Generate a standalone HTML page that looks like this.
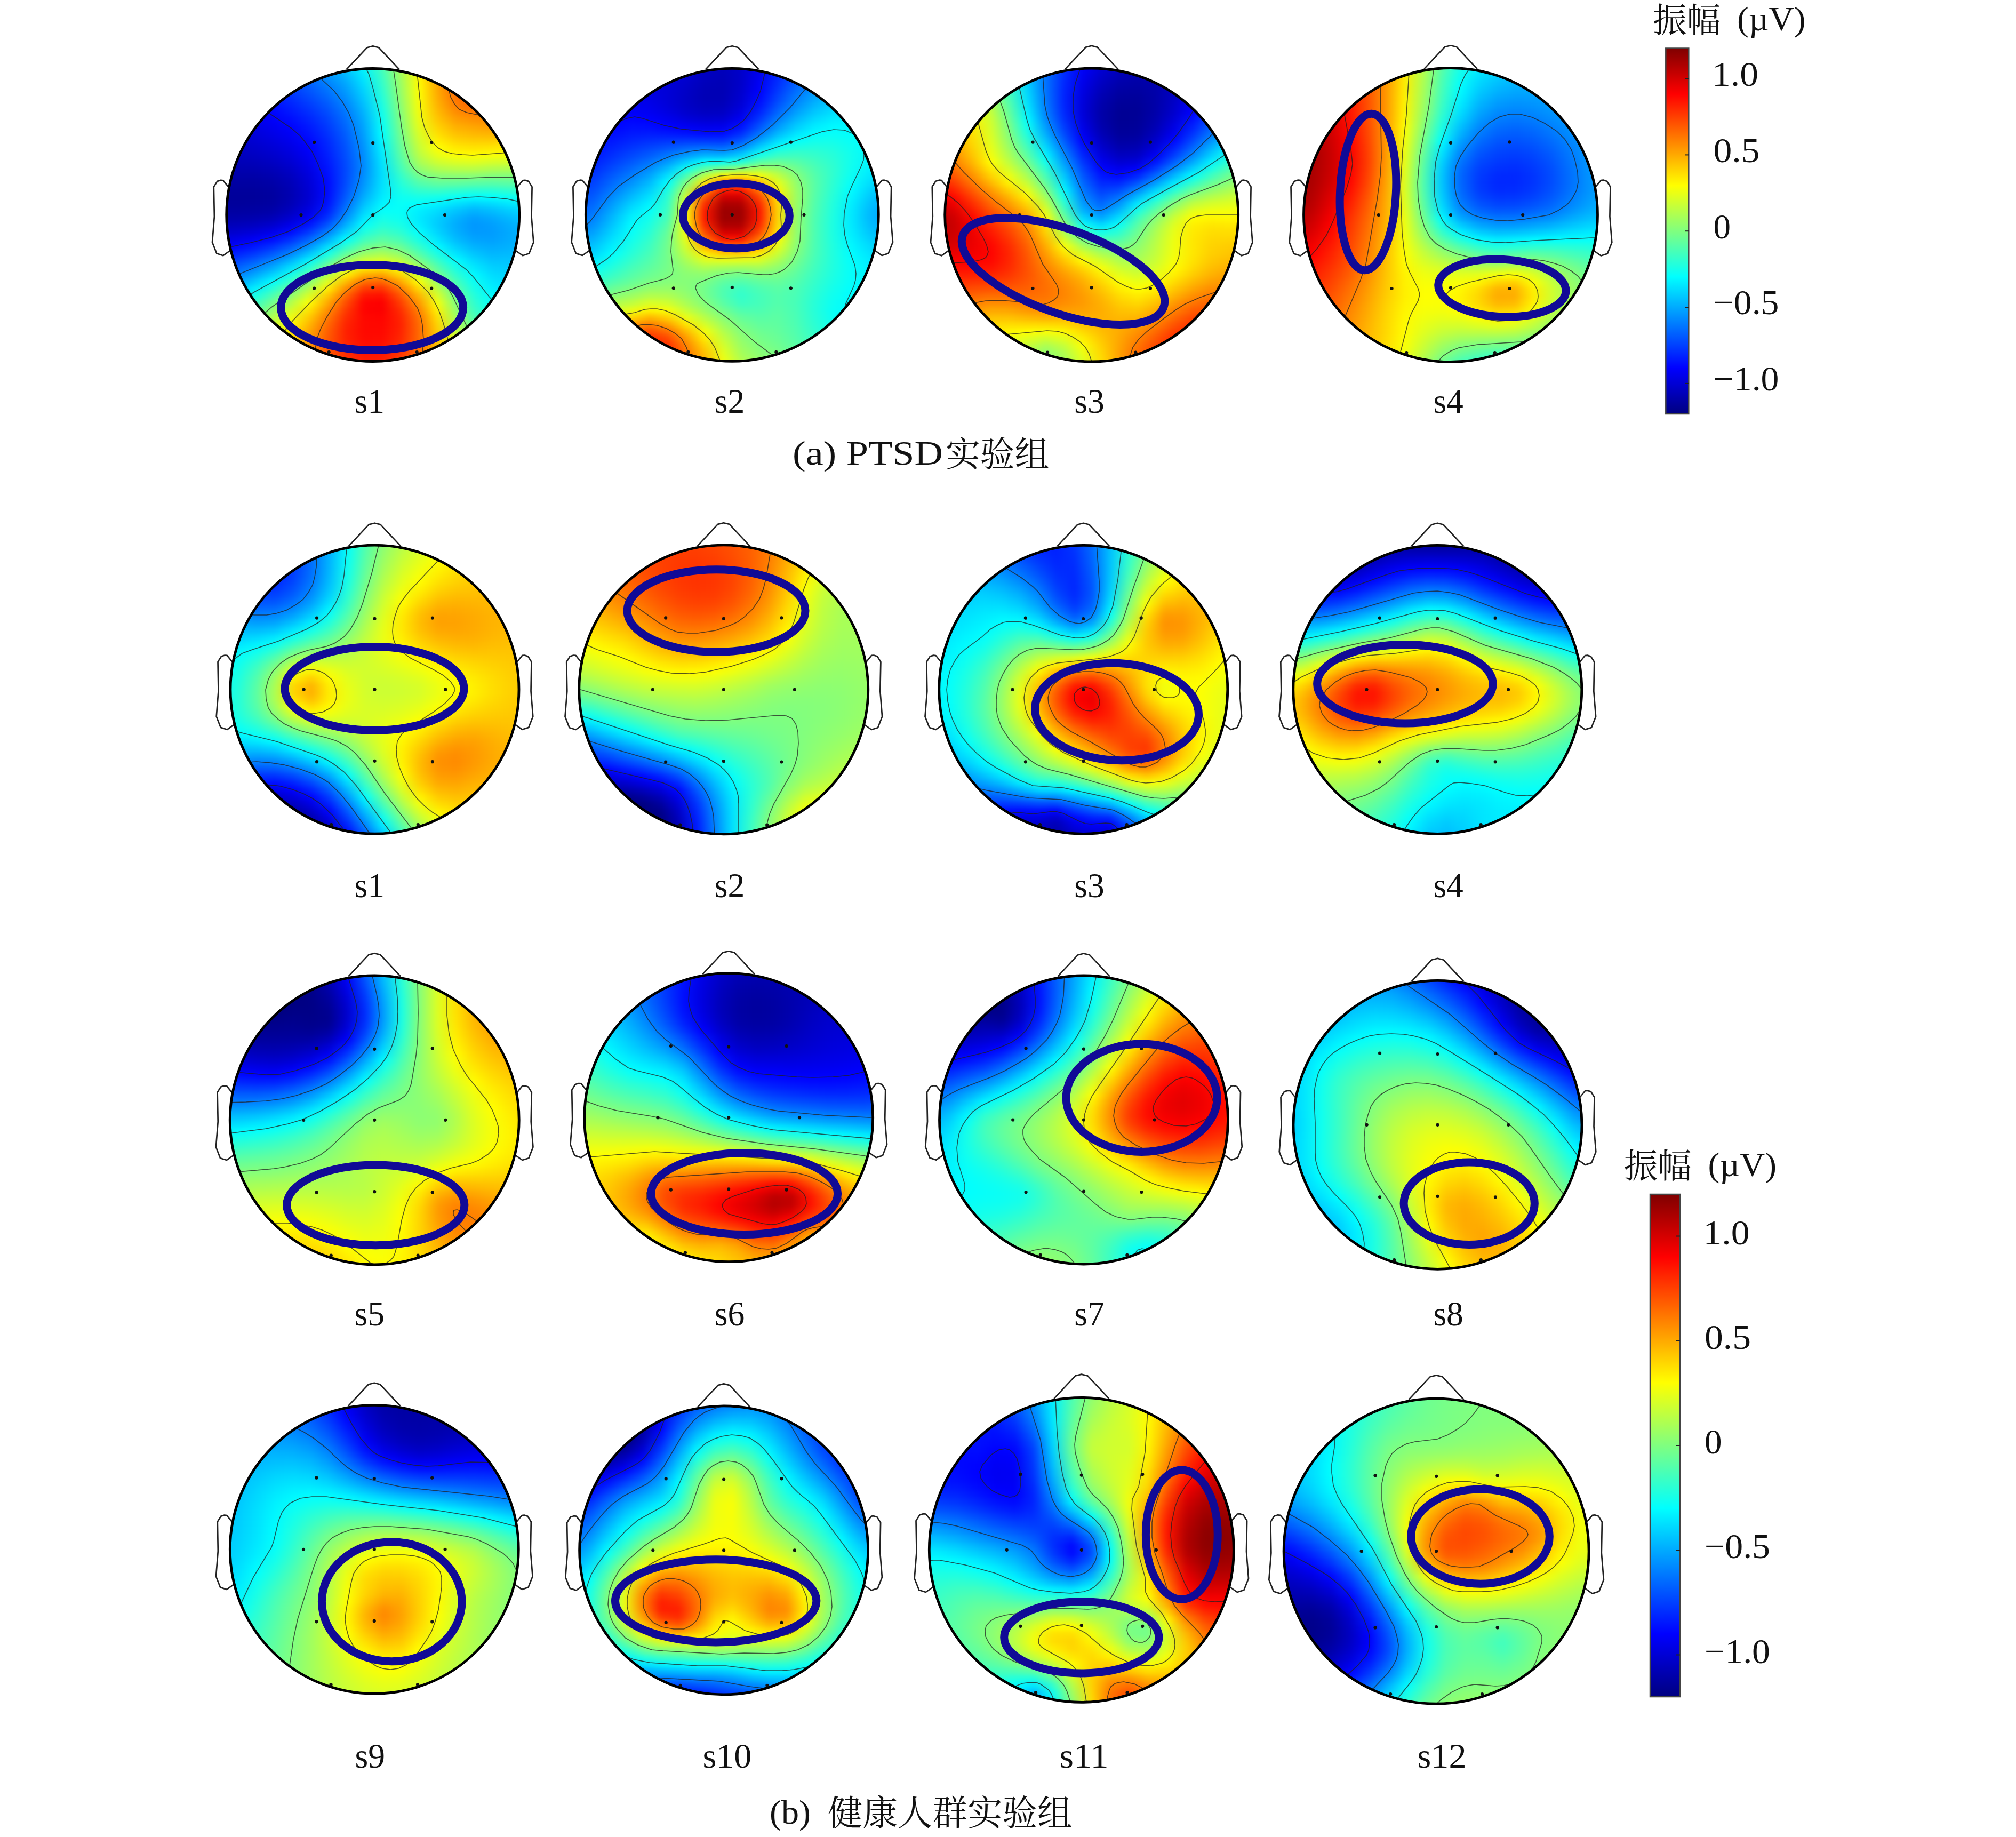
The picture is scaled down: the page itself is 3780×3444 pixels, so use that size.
<!DOCTYPE html><html><head><meta charset="utf-8"><title>EEG topomaps</title><style>
html,body{margin:0;padding:0;background:#fff}
body{width:3780px;height:3444px;position:relative;overflow:hidden;font-family:"Liberation Serif","Noto Serif CJK SC",serif;color:#1a1a1a}
.hd{position:absolute;border-radius:50%;overflow:hidden}
.fl{position:absolute;left:-3%;top:-3%;width:106%;height:106%;filter:blur(5px)}
.fl i{display:block;width:100%;height:2.2727%}
svg{position:absolute;left:0;top:0}
.t{position:absolute;white-space:nowrap;line-height:1}
</style></head><body>
<div class="hd" style="left:424.2px;top:128.0px;width:550.0px;height:550.0px">
<div class="fl">
<i style="background:linear-gradient(90deg,#0001ff,#0010ff,#0022ff,#0039ff,#0055ff,#0077ff,#009dff,#00c7ff,#00fcff,#47ffb8,#a2ff5d,#faff05,#ffbe00,#ff8b00,#ff6d00,#ff5f00,#ff6200,#ff7000)"></i>
<i style="background:linear-gradient(90deg,#0000fa,#000aff,#001cff,#0033ff,#004fff,#0071ff,#0098ff,#00c0ff,#00f3ff,#42ffbd,#a5ff5a,#fffb00,#ffb400,#ff8300,#ff6700,#ff5e00,#ff6600,#ff7700)"></i>
<i style="background:linear-gradient(90deg,#0000f5,#0004ff,#0016ff,#002cff,#0048ff,#006aff,#008eff,#00b3ff,#00e8ff,#39ffc6,#9fff60,#fffa00,#ffa900,#ff7b00,#ff6300,#ff5f00,#ff6c00,#ff7e00)"></i>
<i style="background:linear-gradient(90deg,#0000ef,#0000fd,#000fff,#0025ff,#0040ff,#0060ff,#0080ff,#00a6ff,#00deff,#32ffcd,#9aff65,#fffd00,#ffa700,#ff7300,#ff6000,#ff6200,#ff7400,#ff8500)"></i>
<i style="background:linear-gradient(90deg,#0000e9,#0000f6,#0008ff,#001dff,#0038ff,#0053ff,#0072ff,#009aff,#00d3ff,#2affd5,#95ff6a,#feff01,#ffab00,#ff6e00,#ff5e00,#ff6800,#ff7b00,#ff8e00)"></i>
<i style="background:linear-gradient(90deg,#0000e4,#0000f0,#0001ff,#0016ff,#002dff,#0046ff,#0065ff,#008eff,#00c9ff,#22ffdd,#90ff6f,#fbff04,#ffaf00,#ff7500,#ff5f00,#ff7000,#ff8400,#ff9700)"></i>
<i style="background:linear-gradient(90deg,#0000de,#0000ea,#0000f9,#000dff,#0021ff,#003aff,#0058ff,#0082ff,#00bfff,#1affe5,#8bff74,#f7ff08,#ffb500,#ff8000,#ff6500,#ff7800,#ff8d00,#ffa200)"></i>
<i style="background:linear-gradient(90deg,#0000d8,#0000e3,#0000f2,#0004ff,#0017ff,#002eff,#004dff,#0077ff,#00b5ff,#12ffed,#85ff7a,#f3ff0c,#ffbd00,#ff8e00,#ff7a00,#ff8200,#ff9800,#ffae00)"></i>
<i style="background:linear-gradient(90deg,#0000d3,#0000dd,#0000ea,#0000f9,#000cff,#0023ff,#0042ff,#006eff,#00adff,#0bfff4,#7fff80,#ecff13,#ffc700,#ff9f00,#ff9100,#ff8c00,#ffa400,#ffbd00)"></i>
<i style="background:linear-gradient(90deg,#0000cd,#0000d6,#0000e2,#0000f0,#0002ff,#0019ff,#0039ff,#0066ff,#00a6ff,#05fffa,#79ff86,#e4ff1b,#ffd300,#ffb000,#ffa500,#ff9c00,#ffb300,#ffcd00)"></i>
<i style="background:linear-gradient(90deg,#0000c8,#0000d0,#0000da,#0000e7,#0000f7,#0010ff,#0031ff,#005eff,#00a0ff,#00ffff,#72ff8d,#daff25,#ffe000,#ffc100,#ffb700,#ffb300,#ffc400,#ffdf00)"></i>
<i style="background:linear-gradient(90deg,#0000c2,#0000ca,#0000d2,#0000de,#0000ee,#0007ff,#0029ff,#0058ff,#009aff,#00f9ff,#6bff94,#d0ff2f,#ffef00,#ffd400,#ffcc00,#ffcb00,#ffd800,#fff400)"></i>
<i style="background:linear-gradient(90deg,#0000bd,#0000c4,#0000ca,#0000d5,#0000e4,#0000fe,#0023ff,#0052ff,#0094ff,#00f2ff,#62ff9d,#c5ff3a,#feff01,#ffe900,#ffe300,#ffe600,#ffee00,#f2ff0d)"></i>
<i style="background:linear-gradient(90deg,#0000b8,#0000be,#0000c2,#0000cc,#0000db,#0000f5,#001dff,#004eff,#008fff,#00ebff,#59ffa6,#b8ff47,#e9ff16,#fcff03,#fffe00,#faff05,#f6ff09,#d8ff27)"></i>
<i style="background:linear-gradient(90deg,#0000b2,#0000b7,#0000ba,#0000c3,#0000d2,#0000ed,#0018ff,#004aff,#008cff,#00e5ff,#4effb1,#a7ff58,#d0ff2f,#ddff22,#e0ff1f,#d7ff28,#d4ff2b,#bbff44)"></i>
<i style="background:linear-gradient(90deg,#0000ac,#0000b0,#0000b2,#0000b9,#0000c8,#0000e5,#0012ff,#0048ff,#008bff,#00e1ff,#41ffbe,#90ff6f,#b0ff4f,#b9ff46,#baff45,#b0ff4f,#aeff51,#9bff64)"></i>
<i style="background:linear-gradient(90deg,#0000a6,#0000a9,#0000a9,#0000b0,#0000bf,#0000dd,#000dff,#0049ff,#008fff,#00dfff,#32ffcd,#72ff8d,#8bff74,#8eff71,#8cff73,#85ff7a,#85ff7a,#79ff86)"></i>
<i style="background:linear-gradient(90deg,#0000a1,#0000a2,#0000a2,#0000a8,#0000b8,#0000d7,#0009ff,#004bff,#0096ff,#00e1ff,#24ffdb,#52ffad,#62ff9d,#61ff9e,#5cffa3,#58ffa7,#5cffa3,#56ffa9)"></i>
<i style="background:linear-gradient(90deg,#00009e,#00009d,#00009d,#0000a2,#0000b3,#0000d3,#0008ff,#0051ff,#00a0ff,#00e5ff,#17ffe8,#33ffcc,#3affc5,#33ffcc,#2bffd4,#2bffd4,#32ffcd,#34ffcb)"></i>
<i style="background:linear-gradient(90deg,#00009c,#00009b,#00009b,#0000a0,#0000b2,#0000d2,#000aff,#005aff,#00aeff,#00ecff,#0dfff2,#17ffe8,#14ffeb,#08fff7,#00fcff,#00ffff,#0cfff3,#13ffec)"></i>
<i style="background:linear-gradient(90deg,#00009d,#00009c,#00009d,#0000a2,#0000b6,#0000d7,#0010ff,#0068ff,#00c0ff,#00f7ff,#08fff7,#00ffff,#00f3ff,#00e1ff,#00d2ff,#00daff,#00e8ff,#00f4ff)"></i>
<i style="background:linear-gradient(90deg,#0000a2,#0000a2,#0000a4,#0000aa,#0000c0,#0000e3,#001dff,#007aff,#00d4ff,#06fff9,#07fff8,#00efff,#00dcff,#00c4ff,#00b1ff,#00bcff,#00ccff,#00dbff)"></i>
<i style="background:linear-gradient(90deg,#0000ab,#0000ac,#0000b0,#0000b9,#0000d2,#0000f7,#0034ff,#0092ff,#00eaff,#16ffe9,#0dfff2,#00eaff,#00cfff,#00b3ff,#009dff,#00a8ff,#00b9ff,#00c9ff)"></i>
<i style="background:linear-gradient(90deg,#0000b9,#0000bc,#0000c2,#0000cf,#0000eb,#0016ff,#0056ff,#00b0ff,#03fffc,#27ffd8,#1affe5,#00f1ff,#00cdff,#00adff,#0097ff,#009eff,#00aeff,#00bdff)"></i>
<i style="background:linear-gradient(90deg,#0000ca,#0000cf,#0000d9,#0000eb,#000bff,#003aff,#007eff,#00d4ff,#1fffe0,#3effc1,#2dffd2,#02fffd,#00d6ff,#00b1ff,#009aff,#009cff,#00aaff,#00b8ff)"></i>
<i style="background:linear-gradient(90deg,#0000de,#0000e7,#0000f5,#000cff,#0030ff,#0064ff,#00abff,#00feff,#41ffbe,#5bffa4,#48ffb7,#18ffe7,#00e6ff,#00bdff,#00a4ff,#00a0ff,#00acff,#00b6ff)"></i>
<i style="background:linear-gradient(90deg,#0000f4,#0003ff,#0015ff,#0031ff,#0059ff,#0092ff,#00dcff,#2dffd2,#69ff96,#7eff81,#69ff96,#34ffcb,#00fcff,#00d0ff,#00b3ff,#00aaff,#00b2ff,#00b8ff)"></i>
<i style="background:linear-gradient(90deg,#000eff,#0020ff,#0037ff,#0058ff,#0085ff,#00c2ff,#10ffef,#60ff9f,#98ff67,#aaff55,#91ff6e,#56ffa9,#19ffe6,#00e6ff,#00c5ff,#00b6ff,#00baff,#00bdff)"></i>
<i style="background:linear-gradient(90deg,#0028ff,#003fff,#005bff,#0080ff,#00b3ff,#00f4ff,#45ffba,#98ff67,#cfff30,#ddff22,#bfff40,#7cff83,#38ffc7,#00ffff,#00d8ff,#00c3ff,#00c4ff,#00c3ff)"></i>
<i style="background:linear-gradient(90deg,#0044ff,#005fff,#0080ff,#00aaff,#00e1ff,#27ffd8,#7bff84,#d2ff2d,#fff000,#ffe400,#f2ff0d,#a6ff59,#59ffa6,#19ffe6,#00eaff,#00d0ff,#00ccff,#00c9ff)"></i>
<i style="background:linear-gradient(90deg,#0060ff,#0080ff,#00a6ff,#00d5ff,#10ffef,#58ffa7,#afff50,#fff300,#ffad00,#ffa200,#ffd800,#d2ff2d,#7bff84,#31ffce,#00fbff,#00dcff,#00d4ff,#00ceff)"></i>
<i style="background:linear-gradient(90deg,#007cff,#00a0ff,#00cbff,#00feff,#3dffc2,#87ff78,#e0ff1f,#ffbd00,#ff6d00,#ff6400,#ffa500,#fdff02,#9eff61,#49ffb6,#0bfff4,#00e7ff,#00daff,#00d3ff)"></i>
<i style="background:linear-gradient(90deg,#0098ff,#00c0ff,#00f0ff,#28ffd7,#67ff98,#b2ff4d,#fff100,#ff8e00,#ff3900,#ff3100,#ff7900,#ffd900,#beff41,#5fffa0,#18ffe7,#00f0ff,#00e1ff,#00d9ff)"></i>
<i style="background:linear-gradient(90deg,#00b5ff,#00dfff,#14ffeb,#4effb1,#8eff71,#d9ff26,#ffcb00,#ff6900,#ff1600,#ff0f00,#ff5600,#ffb500,#dbff24,#73ff8c,#25ffda,#00faff,#00e9ff,#00deff)"></i>
<i style="background:linear-gradient(90deg,#00d0ff,#00fdff,#34ffcb,#72ff8d,#b2ff4d,#fcff03,#ffab00,#ff4e00,#ff0400,#fd0000,#ff3d00,#ff9800,#f5ff0a,#86ff79,#31ffce,#05fffa,#00f1ff,#00e5ff)"></i>
<i style="background:linear-gradient(90deg,#00ecff,#1bffe4,#53ffac,#92ff6d,#d2ff2d,#ffe500,#ff9100,#ff3b00,#ff0200,#fc0000,#ff2d00,#ff8100,#fff300,#97ff68,#3dffc2,#11ffee,#00faff,#00ecff)"></i>
<i style="background:linear-gradient(90deg,#07fff8,#37ffc8,#6fff90,#adff52,#edff12,#ffcc00,#ff7c00,#ff2e00,#ff0700,#ff0300,#ff2400,#ff7200,#ffe200,#a8ff57,#4dffb2,#1fffe0,#05fffa,#00f4ff)"></i>
<i style="background:linear-gradient(90deg,#20ffdf,#51ffae,#88ff77,#c4ff3b,#fffb00,#ffb800,#ff6c00,#ff2500,#ff0800,#ff0600,#ff2100,#ff6a00,#ffd500,#b9ff46,#5fffa0,#2effd1,#10ffef,#00fcff)"></i>
<i style="background:linear-gradient(90deg,#38ffc7,#69ff96,#a0ff5f,#d9ff26,#ffe900,#ffa800,#ff6100,#ff2100,#ff0800,#ff0800,#ff2200,#ff6800,#ffcc00,#c8ff37,#74ff8b,#3effc1,#1cffe3,#06fff9)"></i>
<i style="background:linear-gradient(90deg,#4fffb0,#80ff7f,#b5ff4a,#ebff14,#ffda00,#ff9d00,#ff5b00,#ff2200,#ff0a00,#ff0b00,#ff2600,#ff6800,#ffc600,#d5ff2a,#89ff76,#4fffb0,#28ffd7,#0ffff0)"></i>
<i style="background:linear-gradient(90deg,#65ff9a,#95ff6a,#c8ff37,#fcff03,#ffcd00,#ff9500,#ff5900,#ff2600,#ff0e00,#ff1000,#ff2c00,#ff6b00,#ffc100,#e7ff18,#9eff61,#61ff9e,#36ffc9,#1affe5)"></i>
<i style="background:linear-gradient(90deg,#79ff86,#a8ff57,#d9ff26,#fff300,#ffc000,#ff8f00,#ff5b00,#ff2b00,#ff1300,#ff1500,#ff3300,#ff6e00,#ffba00,#f9ff06,#b1ff4e,#74ff8b,#45ffba,#25ffda)"></i>
<i style="background:linear-gradient(90deg,#8dff72,#baff45,#e9ff16,#ffe500,#ffb500,#ff8600,#ff5a00,#ff3100,#ff1a00,#ff1c00,#ff3a00,#ff6f00,#ffae00,#fff400,#c4ff3b,#86ff79,#54ffab,#30ffcf)"></i>
<i style="background:linear-gradient(90deg,#9eff61,#caff35,#f7ff08,#ffd900,#ffab00,#ff7f00,#ff5500,#ff3100,#ff1e00,#ff2100,#ff3b00,#ff6800,#ffa300,#ffe500,#d5ff2a,#98ff67,#64ff9b,#3dffc2)"></i>
</div></div>
<div class="hd" style="left:1097.8px;top:127.8px;width:550.0px;height:550.0px">
<div class="fl">
<i style="background:linear-gradient(90deg,#0000f5,#0000ef,#0000e8,#0000e1,#0000dc,#0000d9,#0000d2,#0000c3,#0000bd,#0000ca,#0000ed,#001aff,#0047ff,#0071ff,#0095ff,#00b3ff,#00cbff,#00ddff)"></i>
<i style="background:linear-gradient(90deg,#0000f7,#0000f1,#0000ea,#0000e3,#0000dd,#0000d9,#0000d3,#0000c3,#0000bb,#0000ca,#0000ef,#0020ff,#004fff,#0079ff,#009eff,#00bcff,#00d3ff,#00e3ff)"></i>
<i style="background:linear-gradient(90deg,#0000f9,#0000f4,#0000ed,#0000e5,#0000de,#0000da,#0000d1,#0000be,#0000b8,#0000ca,#0000f3,#0027ff,#0057ff,#0082ff,#00a7ff,#00c4ff,#00daff,#00e8ff)"></i>
<i style="background:linear-gradient(90deg,#0000fb,#0000f6,#0000ef,#0000e7,#0000df,#0000d8,#0000cb,#0000ba,#0000b6,#0000ca,#0000f7,#002eff,#0061ff,#008cff,#00b0ff,#00cdff,#00e0ff,#00edff)"></i>
<i style="background:linear-gradient(90deg,#0000fd,#0000f8,#0000f2,#0000ea,#0000e1,#0000d7,#0000c7,#0000b7,#0000b5,#0000cd,#0000fd,#0038ff,#006eff,#0097ff,#00baff,#00d5ff,#00e6ff,#00f1ff)"></i>
<i style="background:linear-gradient(90deg,#0001ff,#0000fb,#0000f5,#0000ed,#0000e5,#0000d7,#0000c5,#0000b6,#0000b6,#0000d1,#0007ff,#0044ff,#007cff,#00a6ff,#00c4ff,#00ddff,#00ecff,#00f5ff)"></i>
<i style="background:linear-gradient(90deg,#0003ff,#0000fd,#0000f8,#0000f1,#0000eb,#0000da,#0000c7,#0000ba,#0000bb,#0000d8,#0012ff,#0054ff,#008cff,#00b6ff,#00cfff,#00e4ff,#00f1ff,#00f8ff)"></i>
<i style="background:linear-gradient(90deg,#0006ff,#0001ff,#0000fa,#0000f9,#0000f2,#0000e2,#0000ce,#0000c2,#0000c4,#0000e4,#0022ff,#0066ff,#009fff,#00c7ff,#00deff,#00ebff,#00f5ff,#00fbff)"></i>
<i style="background:linear-gradient(90deg,#0008ff,#0004ff,#0000fd,#0003ff,#0000fd,#0000ee,#0000dc,#0000d2,#0000d3,#0000f5,#0037ff,#007dff,#00b4ff,#00d9ff,#00ecff,#00f1ff,#00f9ff,#00fdff)"></i>
<i style="background:linear-gradient(90deg,#000cff,#0007ff,#0003ff,#000dff,#000bff,#0000ff,#0000f2,#0000e9,#0000ea,#000fff,#0052ff,#0097ff,#00cbff,#00ebff,#00f9ff,#00f7ff,#00fcff,#00fdff)"></i>
<i style="background:linear-gradient(90deg,#000fff,#000aff,#000cff,#0018ff,#001bff,#0017ff,#0011ff,#000aff,#000bff,#002eff,#0074ff,#00b7ff,#00e4ff,#00fdff,#07fff8,#01fffe,#00fdff,#00fdff)"></i>
<i style="background:linear-gradient(90deg,#0013ff,#000eff,#0017ff,#0025ff,#002eff,#0033ff,#0036ff,#0035ff,#0033ff,#0056ff,#009eff,#00dcff,#01fffe,#11ffee,#12ffed,#08fff7,#00fdff,#00fbff)"></i>
<i style="background:linear-gradient(90deg,#0018ff,#0012ff,#0022ff,#0034ff,#0043ff,#0052ff,#0063ff,#006bff,#0067ff,#0089ff,#00d0ff,#07fff8,#1effe1,#23ffdc,#1dffe2,#0dfff2,#00fcff,#00f8ff)"></i>
<i style="background:linear-gradient(90deg,#001cff,#0017ff,#002fff,#0045ff,#005aff,#0075ff,#0096ff,#00adff,#00aaff,#00c9ff,#0ffff0,#35ffca,#3cffc3,#34ffcb,#26ffd9,#11ffee,#00f8ff,#00f3ff)"></i>
<i style="background:linear-gradient(90deg,#0022ff,#0021ff,#003cff,#0057ff,#0073ff,#009aff,#00cfff,#00fdff,#03fffc,#1fffe0,#56ffa9,#66ff99,#58ffa7,#42ffbd,#2cffd3,#11ffee,#00f6ff,#00ecff)"></i>
<i style="background:linear-gradient(90deg,#0028ff,#002cff,#004bff,#006aff,#008cff,#00bfff,#0cfff3,#59ffa6,#7aff85,#91ff6e,#a6ff59,#96ff69,#71ff8e,#4dffb2,#30ffcf,#0ffff0,#00f1ff,#00e3ff)"></i>
<i style="background:linear-gradient(90deg,#002eff,#0038ff,#005bff,#007dff,#00a4ff,#00e2ff,#48ffb7,#b9ff46,#fff900,#ffe900,#f8ff07,#c2ff3d,#85ff7a,#55ffaa,#30ffcf,#0bfff4,#00e9ff,#00d8ff)"></i>
<i style="background:linear-gradient(90deg,#0035ff,#0044ff,#006bff,#0092ff,#00bbff,#02fffd,#7fff80,#ffe900,#ff7900,#ff6f00,#ffb900,#e8ff17,#93ff6c,#59ffa6,#2dffd2,#05fffa,#00dfff,#00cbff)"></i>
<i style="background:linear-gradient(90deg,#003dff,#0050ff,#007cff,#00a7ff,#00d0ff,#1affe5,#aeff51,#ff9700,#ff1600,#ff1300,#ff7800,#fff700,#9bff64,#59ffa6,#2affd5,#00fdff,#00d4ff,#00bfff)"></i>
<i style="background:linear-gradient(90deg,#0045ff,#005dff,#008dff,#00bbff,#00e3ff,#2bffd4,#d2ff2d,#ff5800,#d10000,#d40000,#ff4600,#ffe300,#9eff61,#57ffa8,#26ffd9,#00f6ff,#00caff,#00b3ff)"></i>
<i style="background:linear-gradient(90deg,#004fff,#006aff,#009eff,#00d0ff,#00f4ff,#35ffca,#e9ff16,#ff2d00,#ac0000,#b00000,#ff2600,#ffd800,#9bff64,#54ffab,#22ffdd,#00f0ff,#00c1ff,#00a9ff)"></i>
<i style="background:linear-gradient(90deg,#005aff,#0077ff,#00adff,#00e3ff,#04fffb,#3dffc2,#f3ff0c,#ff1800,#9c0000,#a00000,#ff1600,#ffd600,#96ff69,#52ffad,#20ffdf,#00ecff,#00bbff,#00a3ff)"></i>
<i style="background:linear-gradient(90deg,#0067ff,#0085ff,#00bcff,#00f2ff,#12ffed,#48ffb7,#faff05,#ff1600,#9d0000,#a00000,#ff1700,#ffd800,#94ff6b,#4fffb0,#1effe1,#00ebff,#00baff,#00a3ff)"></i>
<i style="background:linear-gradient(90deg,#0077ff,#0094ff,#00c9ff,#00fcff,#1effe1,#57ffa8,#feff01,#ff2800,#ae0000,#b00000,#ff2700,#ffdc00,#95ff6a,#4effb1,#1dffe2,#00ecff,#00bfff,#00a9ff)"></i>
<i style="background:linear-gradient(90deg,#0089ff,#00a4ff,#00d6ff,#06fff9,#29ffd6,#65ff9a,#f9ff06,#ff4b00,#d40000,#d40000,#ff4700,#ffe700,#95ff6a,#4effb1,#1dffe2,#00efff,#00c7ff,#00b3ff)"></i>
<i style="background:linear-gradient(90deg,#009bff,#00b5ff,#00e3ff,#0ffff0,#33ffcc,#6eff91,#ebff14,#ff7a00,#ff1400,#ff1400,#ff7600,#fffb00,#92ff6d,#4dffb2,#1effe1,#00f4ff,#00d0ff,#00beff)"></i>
<i style="background:linear-gradient(90deg,#00aeff,#00c6ff,#00f0ff,#1affe5,#3dffc2,#73ff8c,#d7ff28,#ffb200,#ff6d00,#ff6d00,#ffae00,#e9ff16,#8bff74,#4cffb3,#20ffdf,#00f9ff,#00dbff,#00caff)"></i>
<i style="background:linear-gradient(90deg,#00c2ff,#00d8ff,#00ffff,#27ffd8,#47ffb8,#75ff8a,#c0ff3f,#ffec00,#ffc900,#ffca00,#ffea00,#ccff33,#81ff7e,#4affb5,#21ffde,#00feff,#00e4ff,#00d6ff)"></i>
<i style="background:linear-gradient(90deg,#00d6ff,#00ecff,#11ffee,#35ffca,#52ffad,#75ff8a,#aaff55,#dcff23,#e4ff1b,#e2ff1d,#daff25,#adff52,#75ff8a,#46ffb9,#21ffde,#03fffc,#00ecff,#00e1ff)"></i>
<i style="background:linear-gradient(90deg,#00ebff,#03fffc,#23ffdc,#44ffbb,#5dffa2,#77ff88,#97ff68,#b0ff4f,#a6ff59,#a1ff5e,#a7ff58,#91ff6e,#69ff96,#41ffbe,#20ffdf,#05fffa,#00f1ff,#00eaff)"></i>
<i style="background:linear-gradient(90deg,#02fffd,#1cffe3,#38ffc7,#54ffab,#6bff94,#7cff83,#8bff74,#8fff70,#7bff84,#71ff8e,#7eff81,#79ff86,#5dffa2,#3bffc4,#1dffe2,#05fffa,#00f4ff,#00f0ff)"></i>
<i style="background:linear-gradient(90deg,#19ffe6,#35ffca,#4fffb0,#67ff98,#7cff83,#86ff79,#86ff79,#7bff84,#5effa1,#50ffaf,#60ff9f,#66ff99,#53ffac,#35ffca,#19ffe6,#04fffb,#00f6ff,#00f3ff)"></i>
<i style="background:linear-gradient(90deg,#2fffd0,#4effb1,#6aff95,#7fff80,#94ff6b,#97ff68,#8aff75,#73ff8c,#50ffaf,#3affc5,#4dffb2,#5affa5,#4cffb3,#30ffcf,#14ffeb,#01fffe,#00f8ff,#00f6ff)"></i>
<i style="background:linear-gradient(90deg,#45ffba,#67ff98,#88ff77,#9cff63,#b2ff4d,#afff50,#95ff6a,#76ff89,#4fffb0,#32ffcd,#45ffba,#54ffab,#49ffb6,#2bffd4,#0ffff0,#00feff,#00f9ff,#00f7ff)"></i>
<i style="background:linear-gradient(90deg,#5bffa4,#80ff7f,#acff53,#beff41,#d9ff26,#cfff30,#a9ff56,#84ff7b,#5bffa4,#3affc5,#45ffba,#54ffab,#47ffb8,#28ffd7,#0cfff3,#00fcff,#00f9ff,#00f8ff)"></i>
<i style="background:linear-gradient(90deg,#71ff8e,#99ff66,#ccff33,#e9ff16,#fff400,#f8ff07,#c5ff3a,#9aff65,#70ff8f,#4effb1,#4cffb3,#58ffa7,#48ffb7,#27ffd8,#09fff6,#00fcff,#00faff,#00f9ff)"></i>
<i style="background:linear-gradient(90deg,#87ff78,#b1ff4e,#eaff15,#ffdc00,#ffba00,#ffd600,#ebff14,#b6ff49,#87ff78,#62ff9d,#57ffa8,#5cffa3,#4affb5,#29ffd6,#0bfff4,#00ffff,#00fbff,#00faff)"></i>
<i style="background:linear-gradient(90deg,#9dff62,#caff35,#fff600,#ff9f00,#ff8100,#ffa300,#ffe800,#d5ff2a,#9eff61,#73ff8c,#61ff9e,#5fffa0,#4cffb3,#2cffd3,#10ffef,#02fffd,#00fcff,#00faff)"></i>
<i style="background:linear-gradient(90deg,#b3ff4c,#e4ff1b,#ffd600,#ff7a00,#ff5100,#ff7200,#ffbd00,#f5ff0a,#b3ff4c,#82ff7d,#6cff93,#63ff9c,#50ffaf,#31ffce,#16ffe9,#06fff9,#00feff,#00fbff)"></i>
<i style="background:linear-gradient(90deg,#c9ff36,#feff01,#ffb600,#ff5f00,#ff2e00,#ff4a00,#ff9a00,#ffed00,#c6ff39,#90ff6f,#76ff89,#69ff96,#54ffab,#37ffc8,#1dffe2,#0bfff4,#01fffe,#00fcff)"></i>
<i style="background:linear-gradient(90deg,#dfff20,#ffe500,#ff9600,#ff4b00,#ff2300,#ff2f00,#ff8200,#ffd400,#d6ff29,#9bff64,#7fff80,#70ff8f,#5affa5,#3effc1,#24ffdb,#10ffef,#04fffb,#00feff)"></i>
<i style="background:linear-gradient(90deg,#f6ff09,#ffc900,#ff7a00,#ff3c00,#ff1f00,#ff2b00,#ff7600,#ffc100,#e4ff1b,#a5ff5a,#89ff76,#78ff87,#61ff9e,#45ffba,#2bffd4,#16ffe9,#08fff7,#01fffe)"></i>
<i style="background:linear-gradient(90deg,#fff000,#ffad00,#ff6200,#ff3100,#ff1d00,#ff3300,#ff7600,#ffb600,#efff10,#b0ff4f,#93ff6c,#7eff81,#65ff9a,#4bffb4,#32ffcd,#1cffe3,#0cfff3,#03fffc)"></i>
<i style="background:linear-gradient(90deg,#ffd800,#ff9200,#ff5000,#ff2900,#ff1e00,#ff3d00,#ff7d00,#ffb700,#f6ff09,#b8ff47,#98ff67,#81ff7e,#6aff95,#51ffae,#38ffc7,#22ffdd,#11ffee,#06fff9)"></i>
</div></div>
<div class="hd" style="left:1771.2px;top:127.5px;width:551.0px;height:551.0px">
<div class="fl">
<i style="background:linear-gradient(90deg,#daff25,#b2ff4d,#7dff82,#3effc1,#00f6ff,#00adff,#0067ff,#002cff,#0000fc,#0000d7,#0000bd,#0000b0,#0000ad,#0000b4,#0000c3,#0000d8,#0000f2,#0010ff)"></i>
<i style="background:linear-gradient(90deg,#e7ff18,#c2ff3d,#8fff70,#50ffaf,#07fff8,#00b9ff,#006fff,#002dff,#0000f8,#0000d2,#0000ba,#0000b0,#0000ae,#0000b6,#0000c8,#0000e0,#0000fc,#001cff)"></i>
<i style="background:linear-gradient(90deg,#f3ff0c,#d2ff2d,#a1ff5e,#63ff9c,#18ffe7,#00c7ff,#0072ff,#0029ff,#0000f1,#0000ca,#0000b2,#0000ab,#0000af,#0000ba,#0000ce,#0000e9,#0009ff,#002aff)"></i>
<i style="background:linear-gradient(90deg,#fffe00,#e1ff1e,#b4ff4b,#77ff88,#2bffd4,#00d0ff,#0073ff,#0026ff,#0000ea,#0000c1,#0000ab,#0000a5,#0000ad,#0000be,#0000d5,#0000f3,#0016ff,#003aff)"></i>
<i style="background:linear-gradient(90deg,#fff300,#efff10,#c7ff38,#8cff73,#3effc1,#00d6ff,#0074ff,#0023ff,#0000e4,#0000b9,#0000a3,#0000a0,#0000aa,#0000c2,#0000de,#0001ff,#0026ff,#004bff)"></i>
<i style="background:linear-gradient(90deg,#ffe700,#fdff02,#d9ff26,#a1ff5e,#4affb5,#00ddff,#0077ff,#0022ff,#0000df,#0000b2,#00009d,#00009b,#0000a9,#0000c5,#0000e9,#000fff,#0037ff,#005eff)"></i>
<i style="background:linear-gradient(90deg,#ffdb00,#fff300,#eaff15,#b6ff49,#56ffa9,#00e5ff,#007bff,#0023ff,#0000dc,#0000ad,#000098,#000098,#0000a9,#0000c9,#0000f5,#0020ff,#004aff,#0072ff)"></i>
<i style="background:linear-gradient(90deg,#ffd000,#ffe600,#faff05,#c4ff3b,#62ff9d,#00efff,#0081ff,#0027ff,#0000db,#0000aa,#000095,#000096,#0000aa,#0000ce,#0000ff,#0033ff,#005fff,#0088ff)"></i>
<i style="background:linear-gradient(90deg,#ffc300,#ffd900,#fff400,#ceff31,#6dff92,#00fbff,#008bff,#002eff,#0000df,#0000ab,#000094,#000097,#0000ae,#0000d7,#000eff,#0048ff,#0076ff,#00a0ff)"></i>
<i style="background:linear-gradient(90deg,#ffb700,#ffcc00,#ffe800,#d5ff2a,#78ff87,#0afff5,#009bff,#003aff,#0000e7,#0000af,#000096,#000099,#0000b4,#0000e3,#001eff,#005fff,#0090ff,#00baff)"></i>
<i style="background:linear-gradient(90deg,#ffa900,#ffbe00,#ffe100,#daff25,#82ff7d,#1affe5,#00adff,#0049ff,#0000f3,#0000b7,#00009b,#00009e,#0000be,#0000f2,#0032ff,#0076ff,#00acff,#00d6ff)"></i>
<i style="background:linear-gradient(90deg,#ff9b00,#ffaf00,#ffda00,#e0ff1f,#8dff72,#2dffd2,#00c3ff,#005bff,#0002ff,#0000c2,#0000a3,#0000a6,#0000cb,#0006ff,#0049ff,#0090ff,#00cbff,#00f3ff)"></i>
<i style="background:linear-gradient(90deg,#ff8b00,#ff9f00,#ffd200,#e8ff17,#9aff65,#41ffbe,#00daff,#0070ff,#0012ff,#0000cf,#0000ae,#0000b2,#0000dd,#001dff,#0064ff,#00adff,#00ebff,#12ffed)"></i>
<i style="background:linear-gradient(90deg,#ff7900,#ff8d00,#ffc700,#f2ff0d,#aaff55,#58ffa7,#00f4ff,#0086ff,#0024ff,#0000df,#0000be,#0000c3,#0000f4,#003aff,#0083ff,#00cdff,#0efff1,#31ffce)"></i>
<i style="background:linear-gradient(90deg,#ff6600,#ff7e00,#ffb900,#ffff00,#bdff42,#71ff8e,#10ffef,#009cff,#0036ff,#0000f0,#0000d2,#0000da,#0014ff,#005eff,#00a7ff,#00f0ff,#2effd1,#50ffaf)"></i>
<i style="background:linear-gradient(90deg,#ff4f00,#ff6b00,#ffa600,#ffeb00,#d4ff2b,#8cff73,#2bffd4,#00b2ff,#0048ff,#0003ff,#0000ea,#0000fb,#003bff,#0088ff,#00d0ff,#17ffe8,#4fffb0,#6dff92)"></i>
<i style="background:linear-gradient(90deg,#ff3500,#ff5500,#ff9000,#ffd300,#eeff11,#a8ff57,#46ffb9,#00c9ff,#0059ff,#0016ff,#0008ff,#0026ff,#006aff,#00b8ff,#00ffff,#3fffc0,#6fff90,#89ff76)"></i>
<i style="background:linear-gradient(90deg,#ff1b00,#ff3b00,#ff7700,#ffb700,#fff300,#c6ff39,#62ff9d,#00e0ff,#0069ff,#0029ff,#0028ff,#0055ff,#009eff,#00ecff,#32ffcd,#67ff98,#8eff71,#a3ff5c)"></i>
<i style="background:linear-gradient(90deg,#ff0100,#ff2100,#ff5d00,#ff9b00,#ffd500,#e6ff19,#81ff7e,#00f8ff,#0079ff,#003cff,#004bff,#0088ff,#00d4ff,#23ffdc,#64ff9b,#8fff70,#abff54,#bcff43)"></i>
<i style="background:linear-gradient(90deg,#e70000,#ff0800,#ff4300,#ff8000,#ffb700,#fff700,#a2ff5d,#12ffed,#008aff,#0051ff,#0070ff,#00bbff,#0bfff4,#58ffa7,#95ff6a,#b5ff4a,#c7ff38,#d2ff2d)"></i>
<i style="background:linear-gradient(90deg,#d20000,#ef0000,#ff2b00,#ff6700,#ff9b00,#ffd700,#c4ff3b,#2effd1,#009eff,#0067ff,#0096ff,#00edff,#3effc1,#87ff78,#c2ff3d,#d7ff28,#e0ff1f,#e6ff19)"></i>
<i style="background:linear-gradient(90deg,#c10000,#dc0000,#ff1600,#ff4f00,#ff8000,#ffb900,#e6ff19,#4cffb3,#00b7ff,#0084ff,#00bcff,#1cffe3,#68ff97,#afff50,#e8ff17,#f4ff0b,#f5ff0a,#f8ff07)"></i>
<i style="background:linear-gradient(90deg,#b80000,#d00000,#ff0500,#ff3a00,#ff6800,#ff9f00,#fffb00,#6dff92,#00dcff,#00aaff,#00e2ff,#40ffbf,#89ff76,#cdff32,#fffc00,#fff500,#fff700,#fff700)"></i>
<i style="background:linear-gradient(90deg,#b80000,#cc0000,#f70000,#ff2700,#ff5300,#ff8a00,#ffe500,#90ff6f,#0dfff2,#00dcff,#09fff6,#59ffa6,#9fff60,#dfff20,#fff000,#ffe600,#ffe800,#ffe900)"></i>
<i style="background:linear-gradient(90deg,#bd0000,#cd0000,#ef0000,#ff1700,#ff4200,#ff7a00,#ffd100,#b4ff4b,#42ffbd,#12ffed,#2effd1,#6dff92,#aeff51,#e9ff16,#ffea00,#ffdd00,#ffdd00,#ffde00)"></i>
<i style="background:linear-gradient(90deg,#c70000,#d30000,#ec0000,#ff0c00,#ff3500,#ff6d00,#ffbe00,#d8ff27,#78ff87,#48ffb7,#51ffae,#7eff81,#b7ff48,#eeff11,#ffe800,#ffd700,#ffd400,#ffd400)"></i>
<i style="background:linear-gradient(90deg,#d30000,#dd0000,#ee0000,#ff0500,#ff2b00,#ff6200,#ffac00,#fbff04,#acff53,#7cff83,#73ff8c,#8dff72,#bdff42,#f0ff0f,#ffe800,#ffd300,#ffcc00,#ffcc00)"></i>
<i style="background:linear-gradient(90deg,#e10000,#eb0000,#f30000,#ff0300,#ff2600,#ff5a00,#ff9c00,#ffe300,#dcff23,#abff54,#93ff6c,#9bff64,#c3ff3c,#f3ff0c,#ffe700,#ffcf00,#ffc500,#ffc500)"></i>
<i style="background:linear-gradient(90deg,#f00000,#fa0000,#fe0000,#ff0700,#ff2600,#ff5500,#ff8e00,#ffc600,#fff900,#d6ff29,#b1ff4e,#a9ff56,#cbff34,#f8ff07,#ffe300,#ffc800,#ffbc00,#ffbe00)"></i>
<i style="background:linear-gradient(90deg,#ff0000,#ff0c00,#ff0d00,#ff1200,#ff2b00,#ff5200,#ff8100,#ffae00,#ffd800,#f8ff07,#cdff32,#bcff43,#d8ff27,#fffd00,#ffda00,#ffbe00,#ffb000,#ffb600)"></i>
<i style="background:linear-gradient(90deg,#ff0e00,#ff1e00,#ff2000,#ff2400,#ff3600,#ff5300,#ff7700,#ff9b00,#ffbf00,#ffeb00,#e6ff19,#d3ff2c,#e8ff17,#ffef00,#ffcc00,#ffb100,#ffa100,#ffad00)"></i>
<i style="background:linear-gradient(90deg,#ff1c00,#ff2f00,#ff3600,#ff3a00,#ff4500,#ff5800,#ff7100,#ff8e00,#ffad00,#ffd600,#fdff02,#e9ff16,#fbff04,#ffdd00,#ffba00,#ffa000,#ff9600,#ffa300)"></i>
<i style="background:linear-gradient(90deg,#ff2b00,#ff4000,#ff4e00,#ff5300,#ff5900,#ff6000,#ff7000,#ff8700,#ffa200,#ffc500,#ffec00,#ffff00,#ffee00,#ffc800,#ffa500,#ff8c00,#ff8a00,#ff9800)"></i>
<i style="background:linear-gradient(90deg,#ff3a00,#ff5100,#ff6700,#ff6f00,#ff7000,#ff6e00,#ff7400,#ff8700,#ff9b00,#ffb800,#ffdb00,#ffeb00,#ffd800,#ffb200,#ff8e00,#ff7700,#ff7e00,#ff8e00)"></i>
<i style="background:linear-gradient(90deg,#ff4900,#ff6200,#ff8100,#ff8c00,#ff8900,#ff8000,#ff7e00,#ff8e00,#ff9b00,#ffb000,#ffcd00,#ffd900,#ffc200,#ff9900,#ff7500,#ff6100,#ff7200,#ff8300)"></i>
<i style="background:linear-gradient(90deg,#ff5800,#ff7300,#ff9500,#ffa800,#ffa500,#ff9800,#ff9100,#ff9e00,#ffa200,#ffad00,#ffc100,#ffc700,#ffac00,#ff8100,#ff5d00,#ff5200,#ff6700,#ff7900)"></i>
<i style="background:linear-gradient(90deg,#ff6700,#ff8400,#ffa700,#ffc200,#ffc100,#ffb700,#ffb000,#ffb700,#ffb000,#ffaf00,#ffb800,#ffb500,#ff9600,#ff6a00,#ff4700,#ff4900,#ff5d00,#ff6f00)"></i>
<i style="background:linear-gradient(90deg,#ff7600,#ff9400,#ffb700,#ffd800,#ffdc00,#ffda00,#ffd900,#ffd600,#ffc300,#ffb500,#ffb000,#ffa300,#ff7f00,#ff5400,#ff3300,#ff4000,#ff5300,#ff6500)"></i>
<i style="background:linear-gradient(90deg,#ff8500,#ffa300,#ffc500,#ffe500,#fff700,#fffd00,#faff05,#fff900,#ffda00,#ffbe00,#ffab00,#ff9200,#ff6a00,#ff3f00,#ff2d00,#ff3900,#ff4a00,#ff5c00)"></i>
<i style="background:linear-gradient(90deg,#ff9300,#ffb100,#ffd100,#fff000,#f0ff0f,#e0ff1f,#cfff30,#e2ff1d,#fff000,#ffc800,#ffa700,#ff8300,#ff5700,#ff2c00,#ff2b00,#ff3400,#ff4300,#ff5400)"></i>
<i style="background:linear-gradient(90deg,#ffa100,#ffbe00,#ffdc00,#fff900,#e5ff1a,#c6ff39,#aaff55,#c4ff3b,#faff05,#ffd100,#ffa400,#ff7600,#ff4700,#ff2b00,#ff2900,#ff3000,#ff3c00,#ff4c00)"></i>
<i style="background:linear-gradient(90deg,#ffad00,#ffca00,#ffe500,#fcff03,#dcff23,#b7ff48,#91ff6e,#b0ff4f,#ebff14,#ffd800,#ffa100,#ff6c00,#ff4100,#ff2d00,#ff2900,#ff2d00,#ff3700,#ff4500)"></i>
<i style="background:linear-gradient(90deg,#ffb900,#ffd400,#ffee00,#f4ff0b,#d4ff2b,#b0ff4f,#8eff71,#a6ff59,#e1ff1e,#ffde00,#ffa000,#ff6900,#ff4600,#ff3000,#ff2900,#ff2b00,#ff3300,#ff3f00)"></i>
<i style="background:linear-gradient(90deg,#ffc400,#ffdd00,#fff600,#edff12,#cdff32,#aaff55,#8dff72,#a8ff57,#deff21,#ffe000,#ffa200,#ff6e00,#ff4a00,#ff3400,#ff2900,#ff2a00,#ff3000,#ff3a00)"></i>
</div></div>
<div class="hd" style="left:2444.0px;top:127.0px;width:552.0px;height:552.0px">
<div class="fl">
<i style="background:linear-gradient(90deg,#fd0000,#ff1400,#ff2f00,#ff5000,#ff7b00,#ffb100,#fff700,#b2ff4d,#5cffa3,#1bffe4,#00f2ff,#00d8ff,#00c3ff,#00b4ff,#00a9ff,#00a3ff,#009fff,#009bff)"></i>
<i style="background:linear-gradient(90deg,#f50000,#ff0c00,#ff2600,#ff4700,#ff7000,#ffa700,#ffed00,#b5ff4a,#58ffa7,#14ffeb,#00edff,#00d5ff,#00c0ff,#00b1ff,#00a7ff,#00a1ff,#009dff,#009aff)"></i>
<i style="background:linear-gradient(90deg,#ec0000,#ff0300,#ff1d00,#ff3d00,#ff6600,#ff9c00,#ffec00,#b1ff4e,#52ffad,#0cfff3,#00e2ff,#00ccff,#00bdff,#00aeff,#00a5ff,#00a0ff,#009cff,#0099ff)"></i>
<i style="background:linear-gradient(90deg,#e40000,#f90000,#ff1300,#ff3200,#ff5b00,#ff9800,#ffee00,#adff52,#4dffb2,#04fffb,#00d7ff,#00bfff,#00b4ff,#00acff,#00a3ff,#009eff,#009bff,#0098ff)"></i>
<i style="background:linear-gradient(90deg,#db0000,#ef0000,#ff0900,#ff2800,#ff5100,#ff9900,#fff000,#a9ff56,#48ffb7,#00fcff,#00ccff,#00b3ff,#00a8ff,#00a8ff,#00a2ff,#009dff,#0099ff,#0097ff)"></i>
<i style="background:linear-gradient(90deg,#d30000,#e60000,#fe0000,#ff1d00,#ff5100,#ff9900,#fff200,#a5ff5a,#43ffbc,#00f4ff,#00c1ff,#00a6ff,#009cff,#009dff,#00a0ff,#009bff,#0098ff,#0096ff)"></i>
<i style="background:linear-gradient(90deg,#cb0000,#dc0000,#f30000,#ff1300,#ff5000,#ff9900,#fff400,#a1ff5e,#3cffc3,#00ebff,#00b5ff,#0099ff,#008fff,#0093ff,#009dff,#009aff,#0097ff,#0095ff)"></i>
<i style="background:linear-gradient(90deg,#c30000,#d20000,#e80000,#ff1200,#ff4f00,#ff9900,#fff600,#9bff64,#34ffcb,#00e0ff,#00a8ff,#008bff,#0083ff,#0088ff,#0094ff,#0098ff,#0096ff,#0095ff)"></i>
<i style="background:linear-gradient(90deg,#bc0000,#c90000,#dd0000,#ff0f00,#ff4d00,#ff9900,#fff900,#94ff6b,#29ffd6,#00d4ff,#009bff,#007eff,#0076ff,#007dff,#008bff,#0097ff,#0095ff,#0095ff)"></i>
<i style="background:linear-gradient(90deg,#b50000,#c00000,#d40000,#ff0b00,#ff4a00,#ff9a00,#fffe00,#8cff73,#1dffe2,#00c5ff,#008dff,#0071ff,#006aff,#0071ff,#0081ff,#0093ff,#0095ff,#0095ff)"></i>
<i style="background:linear-gradient(90deg,#af0000,#b80000,#d10000,#ff0600,#ff4700,#ff9a00,#fbff04,#82ff7d,#10ffef,#00b6ff,#007eff,#0064ff,#005dff,#0065ff,#0077ff,#008cff,#0095ff,#0096ff)"></i>
<i style="background:linear-gradient(90deg,#ab0000,#b20000,#ce0000,#ff0100,#ff4400,#ff9b00,#f6ff09,#78ff87,#01fffe,#00a5ff,#0070ff,#0057ff,#0052ff,#005aff,#006dff,#0086ff,#0096ff,#0097ff)"></i>
<i style="background:linear-gradient(90deg,#a70000,#ac0000,#cc0000,#fc0000,#ff4100,#ff9b00,#f1ff0e,#6fff90,#00f1ff,#0095ff,#0062ff,#004cff,#0047ff,#0050ff,#0064ff,#007fff,#0097ff,#0099ff)"></i>
<i style="background:linear-gradient(90deg,#a40000,#a70000,#ca0000,#f80000,#ff3f00,#ff9c00,#edff12,#66ff99,#00e3ff,#0085ff,#0055ff,#0042ff,#003dff,#0046ff,#005bff,#0079ff,#0099ff,#009bff)"></i>
<i style="background:linear-gradient(90deg,#a20000,#a80000,#ca0000,#f60000,#ff3e00,#ff9d00,#eaff15,#5effa1,#00d6ff,#0078ff,#004aff,#0039ff,#0034ff,#003eff,#0054ff,#0075ff,#0097ff,#009dff)"></i>
<i style="background:linear-gradient(90deg,#a00000,#aa0000,#cb0000,#f70000,#ff4000,#ff9f00,#e6ff19,#58ffa7,#00ceff,#006eff,#0041ff,#0031ff,#002dff,#0038ff,#004fff,#0071ff,#0095ff,#009fff)"></i>
<i style="background:linear-gradient(90deg,#9e0000,#ac0000,#ce0000,#fc0000,#ff4400,#ffa300,#e3ff1c,#54ffab,#00caff,#006aff,#003cff,#002aff,#0028ff,#0034ff,#004dff,#006fff,#0093ff,#00a0ff)"></i>
<i style="background:linear-gradient(90deg,#9e0000,#ae0000,#d30000,#ff0400,#ff4900,#ffa600,#e0ff1f,#52ffad,#00c9ff,#006aff,#003aff,#0028ff,#0028ff,#0035ff,#004dff,#006fff,#0093ff,#00a2ff)"></i>
<i style="background:linear-gradient(90deg,#9f0000,#b20000,#d90000,#ff0c00,#ff4f00,#ffa900,#dfff20,#53ffac,#00ccff,#006dff,#003dff,#002bff,#002cff,#0039ff,#0051ff,#0072ff,#0094ff,#00a6ff)"></i>
<i style="background:linear-gradient(90deg,#a10000,#b60000,#e00000,#ff1400,#ff5600,#ffac00,#e1ff1e,#57ffa8,#00d1ff,#0074ff,#0046ff,#0035ff,#0036ff,#0042ff,#0059ff,#0079ff,#0099ff,#00abff)"></i>
<i style="background:linear-gradient(90deg,#a40000,#bc0000,#e70000,#ff1d00,#ff5d00,#ffae00,#e4ff1b,#5effa1,#00daff,#0080ff,#0055ff,#0044ff,#0045ff,#0051ff,#0065ff,#0084ff,#00a1ff,#00b2ff)"></i>
<i style="background:linear-gradient(90deg,#aa0000,#c30000,#ef0000,#ff2600,#ff6300,#ffb000,#e9ff16,#68ff97,#00e8ff,#0092ff,#006aff,#005aff,#005cff,#0066ff,#0077ff,#0094ff,#00aeff,#00bcff)"></i>
<i style="background:linear-gradient(90deg,#b10000,#cb0000,#f70000,#ff2e00,#ff6900,#ffb200,#edff12,#74ff8b,#00fdff,#00acff,#0086ff,#0076ff,#0078ff,#0082ff,#0091ff,#00aaff,#00bfff,#00caff)"></i>
<i style="background:linear-gradient(90deg,#bc0000,#d40000,#ff0100,#ff3400,#ff6e00,#ffb500,#f0ff0f,#83ff7c,#1affe5,#00cfff,#00a9ff,#0099ff,#009bff,#00a5ff,#00b2ff,#00c4ff,#00d4ff,#00daff)"></i>
<i style="background:linear-gradient(90deg,#c70000,#df0000,#ff0900,#ff3a00,#ff7300,#ffb800,#f3ff0c,#93ff6c,#39ffc6,#00f7ff,#00d1ff,#00c1ff,#00c4ff,#00cdff,#00d7ff,#00e3ff,#00ecff,#00edff)"></i>
<i style="background:linear-gradient(90deg,#d40000,#ea0000,#ff1100,#ff3f00,#ff7800,#ffbb00,#f6ff09,#a5ff5a,#5bffa4,#23ffdc,#00fdff,#00edff,#00f1ff,#00faff,#00ffff,#04fffb,#06fff9,#03fffc)"></i>
<i style="background:linear-gradient(90deg,#e10000,#f50000,#ff1900,#ff4400,#ff7c00,#ffbe00,#faff05,#b7ff48,#7eff81,#4fffb0,#2dffd2,#1cffe3,#22ffdd,#2affd5,#2affd5,#25ffda,#20ffdf,#17ffe8)"></i>
<i style="background:linear-gradient(90deg,#ee0000,#ff0100,#ff2200,#ff4a00,#ff8000,#ffc000,#feff01,#c9ff36,#9fff60,#7bff84,#5dffa2,#4dffb2,#56ffa9,#5bffa4,#53ffac,#45ffba,#39ffc6,#2cffd3)"></i>
<i style="background:linear-gradient(90deg,#fb0000,#ff0b00,#ff2a00,#ff5000,#ff8500,#ffc200,#fffc00,#d8ff27,#bdff42,#a4ff5b,#8dff72,#81ff7e,#8eff71,#8bff74,#79ff86,#62ff9d,#4fffb0,#3fffc0)"></i>
<i style="background:linear-gradient(90deg,#ff0800,#ff1500,#ff3300,#ff5700,#ff8a00,#ffc400,#fff800,#e6ff19,#d5ff2a,#c7ff38,#bcff43,#bcff43,#c7ff38,#b8ff47,#9aff65,#7aff85,#61ff9e,#51ffae)"></i>
<i style="background:linear-gradient(90deg,#ff1200,#ff1d00,#ff3b00,#ff5f00,#ff9000,#ffc600,#fff300,#f1ff0e,#e7ff18,#e4ff1b,#e6ff19,#f8ff07,#ffff00,#dfff20,#b4ff4b,#8dff72,#6dff92,#5fffa0)"></i>
<i style="background:linear-gradient(90deg,#ff1c00,#ff2800,#ff4300,#ff6800,#ff9600,#ffc800,#fff100,#f8ff07,#f4ff0b,#f8ff07,#fff600,#ffd400,#ffcf00,#fcff03,#c6ff39,#99ff66,#79ff86,#6cff93)"></i>
<i style="background:linear-gradient(90deg,#ff2500,#ff3200,#ff4b00,#ff7000,#ff9c00,#ffca00,#fff000,#fcff03,#fbff04,#fff900,#ffdf00,#ffb400,#ffb300,#fff100,#d0ff2f,#9fff60,#83ff7c,#77ff88)"></i>
<i style="background:linear-gradient(90deg,#ff2f00,#ff3c00,#ff5300,#ff7700,#ffa100,#ffcd00,#fff000,#fdff02,#fdff02,#fff400,#ffd700,#ffad00,#ffae00,#ffed00,#d1ff2e,#a0ff5f,#8aff75,#80ff7f)"></i>
<i style="background:linear-gradient(90deg,#ff3800,#ff4600,#ff5a00,#ff7e00,#ffa700,#ffd100,#fff300,#fbff04,#faff05,#fff600,#ffda00,#ffb800,#ffbc00,#fff500,#caff35,#9bff64,#90ff6f,#87ff78)"></i>
<i style="background:linear-gradient(90deg,#ff4100,#ff5000,#ff6300,#ff8500,#ffab00,#ffd400,#fff600,#f7ff08,#f3ff0c,#fdff02,#ffe900,#ffd100,#ffd600,#f7ff08,#bdff42,#99ff66,#94ff6b,#8dff72)"></i>
<i style="background:linear-gradient(90deg,#ff4900,#ff5a00,#ff6d00,#ff8a00,#ffaf00,#ffd600,#fff900,#f1ff0e,#e8ff17,#edff12,#fdff02,#fff000,#fff700,#dfff20,#acff53,#99ff66,#97ff68,#91ff6e)"></i>
<i style="background:linear-gradient(90deg,#ff5200,#ff6300,#ff7700,#ff8f00,#ffb300,#ffd800,#fffb00,#e9ff16,#d9ff26,#d7ff28,#e0ff1f,#eaff15,#e2ff1d,#c2ff3d,#98ff67,#99ff66,#98ff67,#95ff6a)"></i>
<i style="background:linear-gradient(90deg,#ff5a00,#ff6b00,#ff8000,#ff9700,#ffb600,#ffd900,#fffd00,#e0ff1f,#c8ff37,#beff41,#bfff40,#c2ff3d,#bbff44,#a2ff5d,#91ff6e,#97ff68,#99ff66,#97ff68)"></i>
<i style="background:linear-gradient(90deg,#ff6200,#ff7400,#ff8800,#ff9f00,#ffb900,#ffdb00,#fdff02,#d6ff29,#b5ff4a,#a2ff5d,#9cff63,#99ff66,#93ff6c,#81ff7e,#8eff71,#96ff69,#99ff66,#98ff67)"></i>
<i style="background:linear-gradient(90deg,#ff6a00,#ff7c00,#ff9000,#ffa600,#ffc000,#ffde00,#f9ff06,#cbff34,#a0ff5f,#85ff7a,#78ff87,#70ff8f,#6bff94,#76ff89,#8aff75,#94ff6b,#98ff67,#99ff66)"></i>
<i style="background:linear-gradient(90deg,#ff7100,#ff8300,#ff9700,#ffad00,#ffc600,#ffe300,#f3ff0c,#beff41,#8bff74,#69ff96,#56ffa9,#48ffb7,#50ffaf,#70ff8f,#86ff79,#91ff6e,#97ff68,#99ff66)"></i>
<i style="background:linear-gradient(90deg,#ff7800,#ff8a00,#ff9e00,#ffb300,#ffcc00,#ffe900,#ecff13,#b1ff4e,#77ff88,#4effb1,#36ffc9,#2fffd0,#4affb5,#69ff96,#81ff7e,#8fff70,#95ff6a,#98ff67)"></i>
<i style="background:linear-gradient(90deg,#ff7f00,#ff9100,#ffa400,#ffb900,#ffd100,#ffee00,#e6ff19,#a9ff56,#6bff94,#40ffbf,#2effd1,#2effd1,#45ffba,#63ff9c,#7cff83,#8bff74,#94ff6b,#97ff68)"></i>
</div></div>
<div class="hd" style="left:431.5px;top:1021.7px;width:542.0px;height:542.0px">
<div class="fl">
<i style="background:linear-gradient(90deg,#002cff,#0027ff,#002bff,#003aff,#0057ff,#0082ff,#00beff,#06fff9,#4fffb0,#8bff74,#b4ff4b,#d4ff2b,#efff10,#fff700,#ffe500,#ffd600,#ffcc00,#ffc400)"></i>
<i style="background:linear-gradient(90deg,#0030ff,#0028ff,#0029ff,#0035ff,#004fff,#007aff,#00b6ff,#03fffc,#52ffad,#90ff6f,#b8ff47,#d8ff27,#f3ff0c,#fff300,#ffe000,#ffd200,#ffc900,#ffc100)"></i>
<i style="background:linear-gradient(90deg,#0036ff,#002aff,#0027ff,#0030ff,#0048ff,#0071ff,#00b3ff,#06fff9,#57ffa8,#96ff69,#c0ff3f,#deff21,#f8ff07,#ffee00,#ffdc00,#ffcf00,#ffc500,#ffbf00)"></i>
<i style="background:linear-gradient(90deg,#003dff,#002eff,#0027ff,#002cff,#0040ff,#006eff,#00b5ff,#09fff6,#5cffa3,#9dff62,#c8ff37,#e6ff19,#ffff00,#ffe900,#ffd700,#ffcb00,#ffc200,#ffbc00)"></i>
<i style="background:linear-gradient(90deg,#0046ff,#0034ff,#0029ff,#0029ff,#003bff,#006fff,#00b6ff,#0dfff2,#62ff9d,#a4ff5b,#d0ff2f,#efff10,#fff600,#ffe400,#ffd300,#ffc800,#ffc000,#ffba00)"></i>
<i style="background:linear-gradient(90deg,#0050ff,#003cff,#002cff,#0027ff,#003fff,#0072ff,#00baff,#12ffed,#68ff97,#acff53,#d9ff26,#f7ff08,#ffed00,#ffdb00,#ffcf00,#ffc400,#ffbd00,#ffb800)"></i>
<i style="background:linear-gradient(90deg,#005cff,#0045ff,#0032ff,#0029ff,#0046ff,#0078ff,#00beff,#18ffe7,#70ff8f,#b5ff4a,#e2ff1d,#fffd00,#ffe200,#ffd200,#ffca00,#ffc100,#ffba00,#ffb700)"></i>
<i style="background:linear-gradient(90deg,#0069ff,#0051ff,#003aff,#0034ff,#0051ff,#0082ff,#00c6ff,#20ffdf,#79ff86,#beff41,#ecff13,#fff300,#ffd600,#ffc800,#ffc400,#ffbd00,#ffb800,#ffb600)"></i>
<i style="background:linear-gradient(90deg,#0078ff,#005fff,#0045ff,#0043ff,#005fff,#008fff,#00d2ff,#2bffd4,#82ff7d,#c8ff37,#f7ff08,#ffe600,#ffc800,#ffbd00,#ffbd00,#ffba00,#ffb700,#ffb600)"></i>
<i style="background:linear-gradient(90deg,#0088ff,#006eff,#0054ff,#0058ff,#0073ff,#00a1ff,#00e2ff,#37ffc8,#8cff73,#d0ff2f,#fffd00,#ffd700,#ffb900,#ffb200,#ffb500,#ffb800,#ffb600,#ffb600)"></i>
<i style="background:linear-gradient(90deg,#0099ff,#007fff,#006bff,#0070ff,#008bff,#00b8ff,#00f6ff,#45ffba,#96ff69,#d8ff27,#fff300,#ffc900,#ffac00,#ffaa00,#ffaf00,#ffb500,#ffb600,#ffb700)"></i>
<i style="background:linear-gradient(90deg,#00aaff,#0092ff,#0085ff,#008bff,#00a6ff,#00d2ff,#0dfff2,#55ffaa,#a0ff5f,#dfff20,#ffec00,#ffc000,#ffa300,#ffa400,#ffab00,#ffb300,#ffb600,#ffb800)"></i>
<i style="background:linear-gradient(90deg,#00bcff,#00a6ff,#009fff,#00a7ff,#00c5ff,#00f0ff,#25ffda,#66ff99,#abff54,#e5ff1a,#ffe900,#ffbe00,#ffa200,#ffa200,#ffaa00,#ffb300,#ffb800,#ffba00)"></i>
<i style="background:linear-gradient(90deg,#00ceff,#00baff,#00bbff,#00c6ff,#00e7ff,#12ffed,#3fffc0,#78ff87,#b5ff4a,#e9ff16,#ffe900,#ffc100,#ffa800,#ffa500,#ffab00,#ffb400,#ffba00,#ffbd00)"></i>
<i style="background:linear-gradient(90deg,#00deff,#00d1ff,#00d6ff,#00e6ff,#0efff1,#36ffc9,#5bffa4,#8bff74,#beff41,#ebff14,#ffed00,#ffca00,#ffb300,#ffad00,#ffaf00,#ffb700,#ffbd00,#ffc000)"></i>
<i style="background:linear-gradient(90deg,#00eaff,#00e6ff,#00f2ff,#0afff5,#38ffc7,#5fffa0,#79ff86,#9dff62,#c6ff39,#eaff15,#fff400,#ffd600,#ffc100,#ffb800,#ffb700,#ffbd00,#ffc000,#ffc200)"></i>
<i style="background:linear-gradient(90deg,#00f3ff,#00f7ff,#0dfff2,#30ffcf,#65ff9a,#8aff75,#9aff65,#afff50,#cbff34,#e7ff18,#fffe00,#ffe500,#ffd000,#ffc500,#ffc100,#ffc300,#ffc400,#ffc400)"></i>
<i style="background:linear-gradient(90deg,#00f9ff,#06fff9,#24ffdb,#54ffab,#93ff6c,#b7ff48,#bbff44,#c0ff3f,#ceff31,#e1ff1e,#f5ff0a,#fff400,#ffe100,#ffd300,#ffcd00,#ffca00,#ffc800,#ffc600)"></i>
<i style="background:linear-gradient(90deg,#00feff,#11ffee,#39ffc6,#75ff8a,#c0ff3f,#e4ff1b,#d8ff27,#ceff31,#d0ff2f,#dbff24,#eaff15,#faff05,#fff100,#ffe200,#ffd800,#ffd100,#ffcb00,#ffc800)"></i>
<i style="background:linear-gradient(90deg,#02fffd,#19ffe6,#49ffb6,#90ff6f,#eaff15,#fff000,#f1ff0e,#daff25,#d1ff2e,#d5ff2a,#dfff20,#ecff13,#ffff00,#ffee00,#ffe200,#ffd700,#ffce00,#ffc900)"></i>
<i style="background:linear-gradient(90deg,#04fffb,#1fffe0,#55ffaa,#a3ff5c,#fff000,#ffcc00,#fffb00,#e2ff1d,#d1ff2e,#cfff30,#d6ff29,#e0ff1f,#f4ff0b,#fff800,#ffea00,#ffdc00,#ffd000,#ffca00)"></i>
<i style="background:linear-gradient(90deg,#06fff9,#23ffdc,#5cffa3,#adff52,#ffd900,#ffb400,#fff100,#e7ff18,#d2ff2d,#ccff33,#d1ff2e,#d8ff27,#edff12,#fffd00,#ffef00,#ffde00,#ffd100,#ffcb00)"></i>
<i style="background:linear-gradient(90deg,#08fff7,#26ffd9,#5fffa0,#b0ff4f,#ffd500,#ffb000,#ffee00,#eaff15,#d3ff2c,#ccff33,#d0ff2f,#d7ff28,#ecff13,#fffd00,#ffef00,#ffde00,#ffd100,#ffca00)"></i>
<i style="background:linear-gradient(90deg,#0afff5,#27ffd8,#5effa1,#aeff51,#ffe400,#ffc000,#fff000,#eaff15,#d5ff2a,#d0ff2f,#d4ff2b,#dcff23,#f1ff0e,#fff800,#ffe900,#ffda00,#ffcf00,#ffca00)"></i>
<i style="background:linear-gradient(90deg,#0cfff3,#26ffd9,#58ffa7,#a1ff5e,#fdff02,#ffdd00,#fffc00,#e6ff19,#d7ff28,#d5ff2a,#daff25,#e6ff19,#fbff04,#ffee00,#ffdf00,#ffd400,#ffcd00,#ffc900)"></i>
<i style="background:linear-gradient(90deg,#0cfff3,#21ffde,#4cffb3,#8cff73,#d8ff27,#fdff02,#efff10,#deff21,#d8ff27,#dbff24,#e3ff1c,#f1ff0e,#fff600,#ffe000,#ffd300,#ffcd00,#ffc900,#ffc800)"></i>
<i style="background:linear-gradient(90deg,#09fff6,#18ffe7,#3bffc4,#6fff90,#afff50,#d4ff2b,#d5ff2a,#d1ff2e,#d7ff28,#e1ff1e,#edff12,#ffff00,#ffe600,#ffd000,#ffc600,#ffc500,#ffc500,#ffc600)"></i>
<i style="background:linear-gradient(90deg,#04fffb,#0bfff4,#24ffdb,#4cffb3,#82ff7d,#a8ff57,#b6ff49,#c1ff3e,#d3ff2c,#e5ff1a,#f7ff08,#fff200,#ffd500,#ffbf00,#ffb800,#ffbc00,#ffc100,#ffc300)"></i>
<i style="background:linear-gradient(90deg,#00faff,#00f8ff,#09fff6,#25ffda,#53ffac,#7bff84,#93ff6c,#acff53,#cbff34,#e8ff17,#fffe00,#ffe400,#ffc300,#ffaf00,#ffab00,#ffb400,#ffbd00,#ffc100)"></i>
<i style="background:linear-gradient(90deg,#00edff,#00dfff,#00e8ff,#00fcff,#25ffda,#4dffb2,#6fff90,#94ff6b,#bfff40,#e6ff19,#fff700,#ffd600,#ffb200,#ffa000,#ffa100,#ffae00,#ffba00,#ffbe00)"></i>
<i style="background:linear-gradient(90deg,#00daff,#00c1ff,#00c6ff,#00d4ff,#00f6ff,#1fffe0,#48ffb7,#79ff86,#b0ff4f,#e1ff1e,#fff200,#ffca00,#ffa200,#ff9400,#ff9b00,#ffab00,#ffb700,#ffbb00)"></i>
<i style="background:linear-gradient(90deg,#00c4ff,#00a6ff,#00a1ff,#00acff,#00c8ff,#00f0ff,#21ffde,#5cffa3,#9dff62,#d9ff26,#fff100,#ffc100,#ff9600,#ff8d00,#ff9900,#ffa900,#ffb500,#ffb800)"></i>
<i style="background:linear-gradient(90deg,#00adff,#008bff,#007bff,#0082ff,#009bff,#00c3ff,#00f7ff,#3cffc3,#88ff77,#ceff31,#fff300,#ffbd00,#ff9200,#ff8b00,#ff9a00,#ffaa00,#ffb300,#ffb500)"></i>
<i style="background:linear-gradient(90deg,#0095ff,#0071ff,#0055ff,#0059ff,#0070ff,#0097ff,#00ceff,#1cffe3,#71ff8e,#c0ff3f,#fff900,#ffbe00,#ff9600,#ff9000,#ff9f00,#ffad00,#ffb200,#ffb300)"></i>
<i style="background:linear-gradient(90deg,#007dff,#0057ff,#002fff,#0031ff,#0046ff,#006cff,#00a6ff,#00f9ff,#58ffa7,#afff50,#faff05,#ffc500,#ff9e00,#ff9900,#ffa700,#ffb200,#ffb100,#ffb200)"></i>
<i style="background:linear-gradient(90deg,#0066ff,#003fff,#0013ff,#000bff,#0020ff,#0045ff,#007fff,#00d8ff,#3dffc2,#9bff64,#ebff14,#ffd000,#ffaa00,#ffa500,#ffb100,#ffb600,#ffb200,#ffb100)"></i>
<i style="background:linear-gradient(90deg,#0050ff,#0029ff,#0000fd,#0000e7,#0000fc,#0022ff,#005cff,#00b8ff,#21ffde,#83ff7c,#d9ff26,#ffe000,#ffba00,#ffb200,#ffba00,#ffb900,#ffb300,#ffb100)"></i>
<i style="background:linear-gradient(90deg,#003bff,#0014ff,#0000eb,#0000c9,#0000dd,#0002ff,#003dff,#0098ff,#02fffd,#69ff96,#c3ff3c,#fff400,#ffcb00,#ffc000,#ffc400,#ffbc00,#ffb500,#ffb200)"></i>
<i style="background:linear-gradient(90deg,#0028ff,#0002ff,#0000db,#0000bc,#0000c1,#0000e4,#0020ff,#0079ff,#00e2ff,#4cffb3,#aaff55,#f4ff0b,#ffde00,#ffcf00,#ffc900,#ffbf00,#ffb800,#ffb400)"></i>
<i style="background:linear-gradient(90deg,#0016ff,#0000f1,#0000cf,#0000b4,#0000a6,#0000c9,#0004ff,#005bff,#00c3ff,#2effd1,#90ff6f,#ddff22,#fff200,#ffdf00,#ffcd00,#ffc200,#ffbb00,#ffb500)"></i>
<i style="background:linear-gradient(90deg,#0005ff,#0000e2,#0000c4,#0000ad,#0000a0,#0000af,#0000e8,#003fff,#00a5ff,#11ffee,#75ff8a,#c5ff3a,#f7ff08,#ffe800,#ffd200,#ffc600,#ffbe00,#ffb800)"></i>
<i style="background:linear-gradient(90deg,#0000f5,#0000d6,#0000bc,#0000a9,#00009e,#0000a0,#0000cf,#0024ff,#0088ff,#00f2ff,#5affa5,#adff52,#e6ff19,#ffef00,#ffd700,#ffc900,#ffc000,#ffba00)"></i>
<i style="background:linear-gradient(90deg,#0000e8,#0000cc,#0000b5,#0000a5,#00009d,#0000a2,#0000c1,#000bff,#006cff,#00d6ff,#3effc1,#99ff66,#dcff23,#fff600,#ffdc00,#ffcc00,#ffc300,#ffbc00)"></i>
<i style="background:linear-gradient(90deg,#0000dc,#0000c3,#0000af,#0000a2,#00009c,#0000a5,#0000c7,#0007ff,#005dff,#00c4ff,#30ffcf,#8fff70,#d3ff2c,#fffe00,#ffe100,#ffd000,#ffc600,#ffbf00)"></i>
</div></div>
<div class="hd" style="left:1085.3px;top:1021.3px;width:543.0px;height:543.0px">
<div class="fl">
<i style="background:linear-gradient(90deg,#ff7400,#ff6600,#ff5800,#ff4d00,#ff4400,#ff3f00,#ff3e00,#ff4000,#ff4800,#ff5200,#ff6000,#ff7600,#ff9800,#ffbf00,#ffe600,#f5ff0a,#d9ff26,#c5ff3a)"></i>
<i style="background:linear-gradient(90deg,#ff7a00,#ff6b00,#ff5c00,#ff4f00,#ff4500,#ff4000,#ff3e00,#ff3f00,#ff4600,#ff5100,#ff6100,#ff7a00,#ff9e00,#ffc800,#fff000,#ebff14,#d1ff2e,#bfff40)"></i>
<i style="background:linear-gradient(90deg,#ff8100,#ff7100,#ff6100,#ff5300,#ff4700,#ff4000,#ff3d00,#ff3c00,#ff4200,#ff4e00,#ff6000,#ff7d00,#ffa500,#ffd100,#fffa00,#e2ff1d,#c9ff36,#baff45)"></i>
<i style="background:linear-gradient(90deg,#ff8800,#ff7700,#ff6700,#ff5700,#ff4a00,#ff4000,#ff3a00,#ff3900,#ff3e00,#ff4b00,#ff5f00,#ff7f00,#ffac00,#ffdc00,#f9ff06,#d8ff27,#c2ff3d,#b6ff49)"></i>
<i style="background:linear-gradient(90deg,#ff9000,#ff7f00,#ff6d00,#ff5c00,#ff4d00,#ff4100,#ff3800,#ff3500,#ff3a00,#ff4800,#ff5f00,#ff8200,#ffb200,#ffe700,#edff12,#ceff31,#bcff43,#b2ff4d)"></i>
<i style="background:linear-gradient(90deg,#ff9800,#ff8600,#ff7400,#ff6100,#ff5000,#ff4200,#ff3800,#ff3300,#ff3700,#ff4600,#ff5f00,#ff8500,#ffb800,#fff000,#e2ff1d,#c6ff39,#b6ff49,#aeff51)"></i>
<i style="background:linear-gradient(90deg,#ffa100,#ff8f00,#ff7c00,#ff6800,#ff5500,#ff4500,#ff3800,#ff3300,#ff3600,#ff4500,#ff6100,#ff8800,#ffbe00,#fff900,#d6ff29,#beff41,#b2ff4d,#abff54)"></i>
<i style="background:linear-gradient(90deg,#ffab00,#ff9900,#ff8500,#ff7000,#ff5c00,#ff4900,#ff3b00,#ff3500,#ff3800,#ff4700,#ff6400,#ff8d00,#ffc500,#fcff03,#ccff33,#b8ff47,#aeff51,#a9ff56)"></i>
<i style="background:linear-gradient(90deg,#ffb500,#ffa300,#ff8f00,#ff7900,#ff6400,#ff5000,#ff4000,#ff3a00,#ff3c00,#ff4c00,#ff6a00,#ff9300,#ffcc00,#f5ff0a,#c5ff3a,#b2ff4d,#abff54,#a7ff58)"></i>
<i style="background:linear-gradient(90deg,#ffbf00,#ffae00,#ff9a00,#ff8500,#ff6f00,#ff5900,#ff4800,#ff4100,#ff4400,#ff5400,#ff7200,#ff9b00,#ffd300,#efff10,#c1ff3e,#aeff51,#a9ff56,#a6ff59)"></i>
<i style="background:linear-gradient(90deg,#ffca00,#ffb900,#ffa600,#ff9200,#ff7b00,#ff6300,#ff5200,#ff4b00,#ff4f00,#ff5f00,#ff7c00,#ffa400,#ffdb00,#eaff15,#beff41,#abff54,#a7ff58,#a5ff5a)"></i>
<i style="background:linear-gradient(90deg,#ffd600,#ffc600,#ffb400,#ffa100,#ff8900,#ff7000,#ff5e00,#ff5800,#ff5d00,#ff6d00,#ff8800,#ffaf00,#ffe300,#e5ff1a,#bcff43,#a9ff56,#a6ff59,#a5ff5a)"></i>
<i style="background:linear-gradient(90deg,#ffe200,#ffd200,#ffc200,#ffb100,#ff9800,#ff7e00,#ff6c00,#ff6700,#ff6d00,#ff7d00,#ff9600,#ffbb00,#ffec00,#dfff20,#b9ff46,#a8ff57,#a5ff5a,#a5ff5a)"></i>
<i style="background:linear-gradient(90deg,#ffee00,#ffe000,#ffd100,#ffc100,#ffa900,#ff8e00,#ff7b00,#ff7800,#ff7f00,#ff8f00,#ffa600,#ffc800,#fff600,#d9ff26,#b6ff49,#a6ff59,#a5ff5a,#a4ff5b)"></i>
<i style="background:linear-gradient(90deg,#fffb00,#ffee00,#ffe000,#ffd200,#ffb900,#ff9e00,#ff8c00,#ff8a00,#ff9300,#ffa200,#ffb800,#ffd600,#fdff02,#d1ff2e,#b2ff4d,#a4ff5b,#a4ff5b,#a4ff5b)"></i>
<i style="background:linear-gradient(90deg,#f5ff0a,#fffc00,#ffee00,#ffe200,#ffca00,#ffb000,#ffa000,#ff9f00,#ffa800,#ffb700,#ffcc00,#ffe700,#f0ff0f,#c9ff36,#adff52,#a2ff5d,#a2ff5d,#a3ff5c)"></i>
<i style="background:linear-gradient(90deg,#e7ff18,#f4ff0b,#fffc00,#fff000,#ffda00,#ffc400,#ffb500,#ffb500,#ffbe00,#ffcd00,#ffe100,#fffb00,#e1ff1e,#c0ff3f,#a8ff57,#9fff60,#a0ff5f,#a2ff5d)"></i>
<i style="background:linear-gradient(90deg,#d7ff28,#e5ff1a,#f3ff0c,#fffe00,#ffeb00,#ffd800,#ffcc00,#ffcc00,#ffd500,#ffe400,#fff800,#efff10,#d2ff2d,#b6ff49,#a3ff5c,#9cff63,#9eff61,#a0ff5f)"></i>
<i style="background:linear-gradient(90deg,#c6ff39,#d5ff2a,#e4ff1b,#f2ff0d,#fffc00,#ffec00,#ffe300,#ffe400,#ffed00,#fffc00,#f0ff0f,#daff25,#c2ff3d,#acff53,#9dff62,#98ff67,#9bff64,#9fff60)"></i>
<i style="background:linear-gradient(90deg,#b3ff4c,#c3ff3c,#d3ff2c,#e1ff1e,#f0ff0f,#fdff02,#fffa00,#fffb00,#faff05,#ecff13,#daff25,#c6ff39,#b3ff4c,#a2ff5d,#98ff67,#95ff6a,#99ff66,#9dff62)"></i>
<i style="background:linear-gradient(90deg,#9fff60,#afff50,#c0ff3f,#cfff30,#ddff22,#e8ff17,#edff12,#edff12,#e4ff1b,#d6ff29,#c6ff39,#b3ff4c,#a4ff5b,#9aff65,#93ff6c,#92ff6d,#97ff68,#9cff63)"></i>
<i style="background:linear-gradient(90deg,#88ff77,#98ff67,#aaff55,#bbff44,#c9ff36,#d3ff2c,#d7ff28,#d8ff27,#cfff30,#c3ff3c,#b4ff4b,#a2ff5d,#98ff67,#92ff6d,#8eff71,#8fff70,#95ff6a,#9bff64)"></i>
<i style="background:linear-gradient(90deg,#6dff92,#7dff82,#91ff6e,#a4ff5b,#b3ff4c,#beff41,#c3ff3c,#c4ff3b,#bdff42,#b1ff4e,#a5ff5a,#96ff69,#8fff70,#8cff73,#8bff74,#8dff72,#94ff6b,#9aff65)"></i>
<i style="background:linear-gradient(90deg,#4effb1,#5effa1,#74ff8b,#8aff75,#9cff63,#a9ff56,#b0ff4f,#b2ff4d,#acff53,#a3ff5c,#98ff67,#8dff72,#88ff77,#87ff78,#88ff77,#8cff73,#93ff6c,#9aff65)"></i>
<i style="background:linear-gradient(90deg,#2effd1,#3bffc4,#55ffaa,#6dff92,#83ff7c,#93ff6c,#9eff61,#a1ff5e,#9dff62,#96ff69,#8eff71,#86ff79,#83ff7c,#84ff7b,#87ff78,#8cff73,#94ff6b,#9aff65)"></i>
<i style="background:linear-gradient(90deg,#0cfff3,#16ffe9,#33ffcc,#4fffb0,#67ff98,#7cff83,#8bff74,#90ff6f,#8eff71,#8aff75,#85ff7a,#81ff7e,#80ff7f,#83ff7c,#87ff78,#8dff72,#95ff6a,#9bff64)"></i>
<i style="background:linear-gradient(90deg,#00eaff,#00efff,#0ffff0,#2dffd2,#49ffb6,#63ff9c,#76ff89,#7dff82,#7fff80,#7eff81,#7cff83,#7cff83,#7eff81,#82ff7d,#88ff77,#8eff71,#97ff68,#9cff63)"></i>
<i style="background:linear-gradient(90deg,#00c9ff,#00c7ff,#00e8ff,#0afff5,#29ffd6,#47ffb8,#5fffa0,#68ff97,#6eff91,#72ff8d,#74ff8b,#78ff87,#7cff83,#82ff7d,#8aff75,#91ff6e,#9aff65,#9dff62)"></i>
<i style="background:linear-gradient(90deg,#00a9ff,#00a0ff,#00c2ff,#00e4ff,#05fffa,#26ffd9,#44ffbb,#50ffaf,#5bffa4,#64ff9b,#6bff94,#73ff8c,#7aff85,#83ff7c,#8cff73,#94ff6b,#9eff61,#9fff60)"></i>
<i style="background:linear-gradient(90deg,#008bff,#0079ff,#009aff,#00bcff,#00ddff,#01fffe,#22ffdd,#34ffcb,#46ffb9,#55ffaa,#60ff9f,#6dff92,#78ff87,#84ff7b,#8fff70,#99ff66,#a3ff5c,#a2ff5d)"></i>
<i style="background:linear-gradient(90deg,#0070ff,#0054ff,#0072ff,#0093ff,#00b3ff,#00d6ff,#00f9ff,#15ffea,#2fffd0,#45ffba,#55ffaa,#66ff99,#76ff89,#85ff7a,#93ff6c,#9eff61,#aaff55,#a5ff5a)"></i>
<i style="background:linear-gradient(90deg,#0057ff,#003aff,#004bff,#0069ff,#0087ff,#00a8ff,#00cdff,#00f2ff,#16ffe9,#34ffcb,#4affb5,#5fffa0,#74ff8b,#87ff78,#97ff68,#a5ff5a,#aeff51,#a9ff56)"></i>
<i style="background:linear-gradient(90deg,#0040ff,#0022ff,#0024ff,#003fff,#005aff,#007aff,#00a1ff,#00cfff,#00fdff,#23ffdc,#3fffc0,#58ffa7,#73ff8c,#8bff74,#9dff62,#adff52,#b3ff4c,#adff52)"></i>
<i style="background:linear-gradient(90deg,#002aff,#000bff,#0000fd,#0016ff,#002eff,#004cff,#0075ff,#00acff,#00e5ff,#14ffeb,#35ffca,#53ffac,#75ff8a,#92ff6d,#a5ff5a,#b6ff49,#b7ff48,#b1ff4e)"></i>
<i style="background:linear-gradient(90deg,#0016ff,#0000f6,#0000d9,#0000ed,#0004ff,#001fff,#004aff,#008cff,#00cfff,#06fff9,#2effd1,#50ffaf,#7aff85,#9cff63,#afff50,#c2ff3d,#bcff43,#b5ff4a)"></i>
<i style="background:linear-gradient(90deg,#0003ff,#0000e3,#0000c1,#0000c8,#0000dc,#0000f6,#0023ff,#006eff,#00bbff,#00faff,#29ffd6,#50ffaf,#83ff7c,#aaff55,#bdff42,#caff35,#c0ff3f,#b9ff46)"></i>
<i style="background:linear-gradient(90deg,#0000f0,#0000d2,#0000b1,#0000a6,#0000b9,#0000d3,#0004ff,#0055ff,#00aaff,#00f1ff,#27ffd8,#56ffa9,#90ff6f,#bcff43,#ceff31,#cfff30,#c5ff3a,#bdff42)"></i>
<i style="background:linear-gradient(90deg,#0000e0,#0000c2,#0000a3,#000087,#00009a,#0000b5,#0000eb,#0041ff,#009cff,#00eaff,#29ffd6,#61ff9e,#a1ff5e,#d2ff2d,#e3ff1c,#d4ff2b,#c9ff36,#c1ff3e)"></i>
<i style="background:linear-gradient(90deg,#0000d1,#0000b4,#000096,#000080,#000080,#00009d,#0000d7,#0031ff,#0091ff,#00e6ff,#2cffd3,#6dff92,#b2ff4d,#e8ff17,#ecff13,#daff25,#ceff31,#c5ff3a)"></i>
<i style="background:linear-gradient(90deg,#0000c3,#0000a7,#00008c,#000080,#000080,#000089,#0000c8,#0026ff,#008aff,#00e3ff,#30ffcf,#78ff87,#c0ff3f,#f9ff06,#f2ff0d,#e0ff1f,#d2ff2d,#c9ff36)"></i>
<i style="background:linear-gradient(90deg,#0000b6,#00009c,#000083,#000080,#000080,#000080,#0000bd,#001eff,#0085ff,#00e2ff,#35ffca,#81ff7e,#caff35,#f8ff07,#f7ff08,#e6ff19,#d7ff28,#cdff32)"></i>
<i style="background:linear-gradient(90deg,#0000ab,#000092,#000080,#000080,#000080,#000080,#0000b7,#0019ff,#0082ff,#00e2ff,#38ffc7,#87ff78,#cbff34,#f2ff0d,#faff05,#ecff13,#dcff23,#d1ff2e)"></i>
<i style="background:linear-gradient(90deg,#0000a0,#000089,#000080,#000080,#000080,#000080,#0000b8,#0016ff,#007fff,#00e2ff,#3affc5,#87ff78,#c2ff3d,#ecff13,#fcff03,#f1ff0e,#e2ff1d,#d5ff2a)"></i>
<i style="background:linear-gradient(90deg,#000097,#000082,#000080,#000080,#000080,#000084,#0000c2,#001aff,#007fff,#00e0ff,#36ffc9,#7fff80,#baff45,#e5ff1a,#fbff04,#f6ff09,#e7ff18,#daff25)"></i>
</div></div>
<div class="hd" style="left:1760.3px;top:1021.8px;width:542.0px;height:542.0px">
<div class="fl">
<i style="background:linear-gradient(90deg,#00c0ff,#00b2ff,#009cff,#0081ff,#0060ff,#003eff,#0025ff,#0021ff,#0037ff,#006eff,#00beff,#19ffe6,#68ff97,#a8ff57,#daff25,#feff01,#ffe700,#ffd500)"></i>
<i style="background:linear-gradient(90deg,#00c5ff,#00b8ff,#00a4ff,#0089ff,#0068ff,#0044ff,#0027ff,#0020ff,#0035ff,#006cff,#00c3ff,#23ffdc,#74ff8b,#b4ff4b,#e5ff1a,#fff700,#ffdf00,#ffcf00)"></i>
<i style="background:linear-gradient(90deg,#00c9ff,#00beff,#00abff,#0091ff,#0070ff,#004aff,#002dff,#0022ff,#0031ff,#0068ff,#00c3ff,#2bffd4,#81ff7e,#c1ff3e,#f0ff0f,#ffee00,#ffd900,#ffca00)"></i>
<i style="background:linear-gradient(90deg,#00cdff,#00c3ff,#00b3ff,#009aff,#0079ff,#0056ff,#0038ff,#0025ff,#002eff,#0065ff,#00c4ff,#32ffcd,#8dff72,#ceff31,#fbff04,#ffe500,#ffd200,#ffc600)"></i>
<i style="background:linear-gradient(90deg,#00d0ff,#00c8ff,#00baff,#00a2ff,#0083ff,#0067ff,#0045ff,#0029ff,#002bff,#0061ff,#00c5ff,#3affc5,#9bff64,#dcff23,#fff800,#ffdd00,#ffcc00,#ffc200)"></i>
<i style="background:linear-gradient(90deg,#00d3ff,#00ccff,#00c0ff,#00abff,#0094ff,#0078ff,#0053ff,#002fff,#0029ff,#005dff,#00c7ff,#44ffbb,#aaff55,#ecff13,#ffee00,#ffd600,#ffc700,#ffc000)"></i>
<i style="background:linear-gradient(90deg,#00d6ff,#00d0ff,#00c6ff,#00b5ff,#00a6ff,#008bff,#0064ff,#0036ff,#0027ff,#0059ff,#00caff,#50ffaf,#bcff43,#feff01,#ffe300,#ffce00,#ffc300,#ffbf00)"></i>
<i style="background:linear-gradient(90deg,#00d8ff,#00d3ff,#00cbff,#00c4ff,#00b7ff,#009fff,#0076ff,#003fff,#0026ff,#0057ff,#00cfff,#5effa1,#cfff30,#ffed00,#ffd500,#ffc800,#ffc000,#ffbf00)"></i>
<i style="background:linear-gradient(90deg,#00dbff,#00d6ff,#00cfff,#00d0ff,#00c7ff,#00b1ff,#0089ff,#004bff,#0029ff,#0059ff,#00d7ff,#6dff92,#e4ff1b,#ffd700,#ffc500,#ffc300,#ffbf00,#ffc100)"></i>
<i style="background:linear-gradient(90deg,#00ddff,#00d9ff,#00d5ff,#00daff,#00d6ff,#00c4ff,#009bff,#005bff,#0032ff,#005fff,#00e3ff,#7dff82,#f8ff07,#ffc100,#ffb400,#ffbe00,#ffc000,#ffc500)"></i>
<i style="background:linear-gradient(90deg,#00e0ff,#00dcff,#00dcff,#00e3ff,#00e4ff,#00d7ff,#00b1ff,#0071ff,#0041ff,#006cff,#00f3ff,#8eff71,#fff200,#ffab00,#ffa600,#ffb700,#ffc300,#ffca00)"></i>
<i style="background:linear-gradient(90deg,#00e2ff,#00dfff,#00e2ff,#00ebff,#00f2ff,#00edff,#00ccff,#008eff,#005aff,#0083ff,#0bfff4,#a1ff5e,#ffe000,#ff9a00,#ff9b00,#ffb400,#ffc800,#ffd100)"></i>
<i style="background:linear-gradient(90deg,#00e5ff,#00e1ff,#00e8ff,#00f2ff,#01fffe,#06fff9,#00edff,#00b4ff,#0082ff,#00a8ff,#2affd5,#b6ff49,#ffd400,#ff9200,#ff9700,#ffb300,#ffcf00,#ffd900)"></i>
<i style="background:linear-gradient(90deg,#00e7ff,#00e4ff,#00eeff,#00faff,#10ffef,#20ffdf,#14ffeb,#00e4ff,#00b9ff,#00dbff,#4fffb0,#cdff32,#ffcc00,#ff9600,#ff9900,#ffb700,#ffd800,#ffe200)"></i>
<i style="background:linear-gradient(90deg,#00eaff,#00e9ff,#00f4ff,#03fffc,#21ffde,#3dffc2,#3effc1,#1bffe4,#00f9ff,#19ffe6,#7aff85,#e4ff1b,#ffca00,#ff9f00,#ffa100,#ffbd00,#ffdf00,#ffeb00)"></i>
<i style="background:linear-gradient(90deg,#00ebff,#00eeff,#00fbff,#0efff1,#33ffcc,#5affa5,#6aff95,#57ffa8,#43ffbc,#5dffa2,#a9ff56,#faff05,#ffca00,#ffad00,#ffae00,#ffc700,#ffe600,#fff400)"></i>
<i style="background:linear-gradient(90deg,#00edff,#00f2ff,#03fffc,#1bffe4,#46ffb9,#76ff89,#94ff6b,#95ff6a,#91ff6e,#a8ff57,#dbff24,#fff000,#ffce00,#ffbd00,#ffbe00,#ffd200,#ffee00,#fffb00)"></i>
<i style="background:linear-gradient(90deg,#00eeff,#00f6ff,#0bfff4,#28ffd7,#59ffa6,#91ff6e,#bdff42,#d3ff2c,#e1ff1e,#f4ff0b,#fff100,#ffdc00,#ffd300,#ffcf00,#ffd000,#ffde00,#fff500,#fbff04)"></i>
<i style="background:linear-gradient(90deg,#00eeff,#00faff,#12ffed,#35ffca,#6bff94,#abff54,#e4ff1b,#ffef00,#ffd000,#ffc000,#ffc000,#ffc900,#ffd900,#ffe200,#ffe000,#ffe900,#fffd00,#f4ff0b)"></i>
<i style="background:linear-gradient(90deg,#00eeff,#00fdff,#19ffe6,#3fffc0,#7aff85,#c1ff3e,#fff700,#ffba00,#ff8800,#ff7a00,#ff9200,#ffb700,#ffde00,#fff400,#ffee00,#fff300,#faff05,#eeff11)"></i>
<i style="background:linear-gradient(90deg,#00eeff,#00ffff,#1effe1,#48ffb7,#87ff78,#d4ff2b,#ffd900,#ff8d00,#ff4a00,#ff3e00,#ff6a00,#ffa500,#ffe100,#fbff04,#fff800,#fffa00,#f5ff0a,#e9ff16)"></i>
<i style="background:linear-gradient(90deg,#00eeff,#02fffd,#22ffdd,#4effb1,#90ff6f,#e2ff1d,#ffc400,#ff6c00,#ff1b00,#ff0f00,#ff4a00,#ff9400,#ffdf00,#f1ff0e,#fffd00,#ffff00,#f0ff0f,#e5ff1a)"></i>
<i style="background:linear-gradient(90deg,#00edff,#02fffd,#25ffda,#53ffac,#96ff69,#eaff15,#ffb700,#ff5900,#ff0200,#f40000,#ff3300,#ff8300,#ffd400,#f5ff0a,#fffe00,#fcff03,#edff12,#e2ff1d)"></i>
<i style="background:linear-gradient(90deg,#00ecff,#01fffe,#26ffd9,#56ffa9,#99ff66,#ecff13,#ffb500,#ff5400,#ff0000,#ee0000,#ff2600,#ff7200,#ffc300,#fff700,#fffa00,#fcff03,#ecff13,#e0ff1f)"></i>
<i style="background:linear-gradient(90deg,#00e9ff,#00feff,#25ffda,#57ffa8,#98ff67,#e8ff17,#ffbb00,#ff5c00,#ff0c00,#f60000,#ff2000,#ff6400,#ffac00,#ffe100,#fff200,#fdff02,#ebff14,#e0ff1f)"></i>
<i style="background:linear-gradient(90deg,#00e7ff,#00faff,#23ffdc,#54ffab,#93ff6c,#dfff20,#ffc900,#ff6d00,#ff2300,#ff0900,#ff2200,#ff5700,#ff9400,#ffc900,#ffe800,#fffe00,#ebff14,#e0ff1f)"></i>
<i style="background:linear-gradient(90deg,#00e4ff,#00f5ff,#1effe1,#4fffb0,#8bff74,#d1ff2e,#ffdc00,#ff8600,#ff4100,#ff2100,#ff2900,#ff4d00,#ff7c00,#ffb200,#ffdc00,#fffa00,#ebff14,#e0ff1f)"></i>
<i style="background:linear-gradient(90deg,#00e0ff,#00edff,#17ffe8,#48ffb7,#81ff7e,#c1ff3e,#fff400,#ffa300,#ff6300,#ff3e00,#ff3500,#ff4500,#ff6500,#ff9c00,#ffd200,#fff700,#ebff14,#e1ff1e)"></i>
<i style="background:linear-gradient(90deg,#00dcff,#00e4ff,#0dfff2,#3dffc2,#73ff8c,#aeff51,#f0ff0f,#ffc200,#ff8600,#ff5c00,#ff4300,#ff4100,#ff5000,#ff8b00,#ffca00,#fff600,#e9ff16,#e1ff1e)"></i>
<i style="background:linear-gradient(90deg,#00d7ff,#00d8ff,#01fffe,#30ffcf,#64ff9b,#9bff64,#d8ff27,#ffe100,#ffaa00,#ff7b00,#ff5500,#ff3f00,#ff3f00,#ff7f00,#ffc600,#fff700,#e4ff1b,#e1ff1e)"></i>
<i style="background:linear-gradient(90deg,#00d2ff,#00cbff,#00f2ff,#20ffdf,#52ffad,#88ff77,#c0ff3f,#fdff02,#ffcd00,#ff9c00,#ff6c00,#ff4300,#ff3700,#ff7d00,#ffc700,#fffc00,#ddff22,#dfff20)"></i>
<i style="background:linear-gradient(90deg,#00cbff,#00c3ff,#00e1ff,#0dfff2,#3dffc2,#72ff8d,#a8ff57,#dbff24,#fff300,#ffc100,#ff8b00,#ff5600,#ff4400,#ff8600,#ffcf00,#f8ff07,#daff25,#ddff22)"></i>
<i style="background:linear-gradient(90deg,#00c5ff,#00bbff,#00cdff,#00f6ff,#25ffda,#59ffa6,#8cff73,#b6ff49,#e1ff1e,#ffeb00,#ffb300,#ff7900,#ff6600,#ff9c00,#ffe000,#eaff15,#d5ff2a,#dbff24)"></i>
<i style="background:linear-gradient(90deg,#00beff,#00b3ff,#00b7ff,#00ddff,#08fff7,#3cffc3,#6cff93,#8bff74,#b2ff4d,#e2ff1d,#ffe400,#ffa900,#ff9400,#ffbc00,#fff700,#d8ff27,#d0ff2f,#d7ff28)"></i>
<i style="background:linear-gradient(90deg,#00b7ff,#00aaff,#009eff,#00c0ff,#00e5ff,#18ffe7,#45ffba,#59ffa6,#7cff83,#aaff55,#e0ff1f,#ffe300,#ffca00,#ffe500,#e9ff16,#c1ff3e,#caff35,#d3ff2c)"></i>
<i style="background:linear-gradient(90deg,#00afff,#00a1ff,#008eff,#00a0ff,#00beff,#00eaff,#16ffe9,#1effe1,#3fffc0,#6bff94,#9dff62,#daff25,#f9ff06,#ebff14,#c7ff38,#b2ff4d,#c3ff3c,#ceff31)"></i>
<i style="background:linear-gradient(90deg,#00a8ff,#0098ff,#0082ff,#007dff,#0092ff,#00b3ff,#00d6ff,#00daff,#00faff,#25ffda,#54ffab,#92ff6d,#baff45,#baff45,#a2ff5d,#a7ff58,#bbff44,#c8ff37)"></i>
<i style="background:linear-gradient(90deg,#00a0ff,#008eff,#0077ff,#0058ff,#0063ff,#0077ff,#008dff,#0090ff,#00b3ff,#00dbff,#06fff9,#47ffb8,#7bff84,#88ff77,#7dff82,#9bff64,#b2ff4d,#c2ff3d)"></i>
<i style="background:linear-gradient(90deg,#0097ff,#0085ff,#006bff,#0046ff,#0035ff,#003bff,#0047ff,#0046ff,#006eff,#0094ff,#00b7ff,#00fcff,#3dffc2,#57ffa8,#6bff94,#8fff70,#a9ff56,#bbff44)"></i>
<i style="background:linear-gradient(90deg,#008fff,#007bff,#005eff,#0038ff,#000cff,#0007ff,#000cff,#0002ff,#0032ff,#0054ff,#006bff,#00b7ff,#03fffc,#27ffd8,#5cffa3,#83ff7c,#9fff60,#b3ff4c)"></i>
<i style="background:linear-gradient(90deg,#0086ff,#0070ff,#0052ff,#002aff,#0000fb,#0000e4,#0000e2,#0000cd,#0004ff,#001fff,#0027ff,#007cff,#00ceff,#11ffee,#4dffb2,#77ff88,#95ff6a,#abff54)"></i>
<i style="background:linear-gradient(90deg,#007eff,#0066ff,#0046ff,#001eff,#0000f0,#0000d4,#0000ca,#0000b5,#0000e3,#0000f7,#0000f3,#004dff,#00aaff,#00feff,#3effc1,#6bff94,#8aff75,#a2ff5d)"></i>
<i style="background:linear-gradient(90deg,#0075ff,#005bff,#003aff,#0012ff,#0000e8,#0000d2,#0000c1,#0000aa,#0000cd,#0000dc,#0000d9,#0030ff,#0099ff,#00eeff,#2fffd0,#5effa1,#80ff7f,#99ff66)"></i>
<i style="background:linear-gradient(90deg,#006bff,#0050ff,#002eff,#0007ff,#0000e1,#0000d0,#0000bc,#0000a7,#0000c1,#0000cd,#0000d2,#0023ff,#0089ff,#00deff,#21ffde,#52ffad,#75ff8a,#90ff6f)"></i>
</div></div>
<div class="hd" style="left:2424.3px;top:1021.8px;width:542.0px;height:542.0px">
<div class="fl">
<i style="background:linear-gradient(90deg,#0000e5,#0000d0,#0000c0,#0000b5,#0000af,#0000ac,#0000a8,#00009c,#000090,#000090,#00009b,#0000a7,#0000a8,#0000a7,#0000aa,#0000b2,#0000bf,#0000cf)"></i>
<i style="background:linear-gradient(90deg,#0000ee,#0000d7,#0000c5,#0000b8,#0000b0,#0000ad,#0000a9,#0000a4,#0000a1,#0000a1,#0000a4,#0000a7,#0000a8,#0000a7,#0000ac,#0000b6,#0000c4,#0000d7)"></i>
<i style="background:linear-gradient(90deg,#0000f9,#0000e0,#0000cb,#0000bb,#0000b1,#0000ad,#0000b9,#0000bf,#0000be,#0000bd,#0000bc,#0000b5,#0000a8,#0000a8,#0000ae,#0000ba,#0000cb,#0000e0)"></i>
<i style="background:linear-gradient(90deg,#0006ff,#0000ea,#0000d1,#0000bf,#0000b3,#0000bc,#0000d1,#0000db,#0000dd,#0000db,#0000d6,#0000ca,#0000b4,#0000a9,#0000b1,#0000c0,#0000d3,#0000ea)"></i>
<i style="background:linear-gradient(90deg,#0014ff,#0000f5,#0000da,#0000c4,#0000b9,#0000d4,#0000eb,#0000f9,#0000fe,#0000fb,#0000f2,#0000e0,#0000c8,#0000ae,#0000b5,#0000c6,#0000dd,#0000f6)"></i>
<i style="background:linear-gradient(90deg,#0024ff,#0004ff,#0000e4,#0000cb,#0000d2,#0000ee,#0008ff,#001aff,#0022ff,#001eff,#0010ff,#0000f8,#0000dd,#0000c3,#0000ba,#0000cf,#0000e8,#0004ff)"></i>
<i style="background:linear-gradient(90deg,#0035ff,#0013ff,#0000f0,#0000d6,#0000ee,#000bff,#0026ff,#003dff,#0047ff,#0043ff,#0030ff,#0013ff,#0000f5,#0000da,#0000c4,#0000d9,#0000f5,#0012ff)"></i>
<i style="background:linear-gradient(90deg,#0048ff,#0025ff,#0000ff,#0000f3,#000dff,#002aff,#0047ff,#0062ff,#0070ff,#006bff,#0054ff,#0030ff,#0012ff,#0000f4,#0000dd,#0000e6,#0005ff,#0022ff)"></i>
<i style="background:linear-gradient(90deg,#005eff,#0039ff,#0012ff,#0015ff,#002fff,#004dff,#006cff,#008aff,#009bff,#0096ff,#007aff,#0052ff,#0031ff,#0013ff,#0000f9,#0000f4,#0015ff,#0034ff)"></i>
<i style="background:linear-gradient(90deg,#0075ff,#004fff,#002cff,#003bff,#0054ff,#0073ff,#0094ff,#00b6ff,#00caff,#00c4ff,#00a4ff,#0079ff,#0054ff,#0034ff,#001bff,#000bff,#0028ff,#0047ff)"></i>
<i style="background:linear-gradient(90deg,#008eff,#0068ff,#0052ff,#0063ff,#007eff,#009dff,#00c0ff,#00e4ff,#00faff,#00f4ff,#00d1ff,#00a3ff,#007aff,#0058ff,#003dff,#002cff,#003cff,#005bff)"></i>
<i style="background:linear-gradient(90deg,#00aaff,#0084ff,#007cff,#008fff,#00abff,#00cbff,#00edff,#14ffeb,#2dffd2,#26ffd9,#00ffff,#00ceff,#00a3ff,#0080ff,#0063ff,#004fff,#0053ff,#0072ff)"></i>
<i style="background:linear-gradient(90deg,#00c8ff,#00a3ff,#00a9ff,#00beff,#00dbff,#00fbff,#1dffe2,#44ffbb,#5fffa0,#58ffa7,#2effd1,#00fbff,#00cfff,#00a9ff,#008aff,#0075ff,#006cff,#008aff)"></i>
<i style="background:linear-gradient(90deg,#00e8ff,#00c4ff,#00d9ff,#00f0ff,#11ffee,#30ffcf,#4effb1,#74ff8b,#90ff6f,#87ff78,#5cffa3,#28ffd7,#00fcff,#00d5ff,#00b4ff,#009cff,#0086ff,#00a3ff)"></i>
<i style="background:linear-gradient(90deg,#0cfff3,#00f2ff,#0dfff2,#27ffd8,#49ffb6,#67ff98,#80ff7f,#a4ff5b,#beff41,#b4ff4b,#88ff77,#54ffab,#2bffd4,#05fffa,#00e0ff,#00c6ff,#00abff,#00beff)"></i>
<i style="background:linear-gradient(90deg,#31ffce,#24ffdb,#43ffbc,#61ff9e,#86ff79,#a1ff5e,#b5ff4a,#d3ff2c,#e9ff16,#ddff22,#b2ff4d,#81ff7e,#5affa5,#35ffca,#0ffff0,#00f1ff,#00d2ff,#00dbff)"></i>
<i style="background:linear-gradient(90deg,#58ffa7,#56ffa9,#7bff84,#9fff60,#c6ff39,#dfff20,#ecff13,#fffe00,#fff000,#fffe00,#d9ff26,#adff52,#8aff75,#67ff98,#40ffbf,#1effe1,#00faff,#00f8ff)"></i>
<i style="background:linear-gradient(90deg,#7fff80,#88ff77,#b2ff4d,#ddff22,#fff700,#ffe200,#ffdd00,#ffd500,#ffd000,#ffdf00,#fbff04,#d5ff2a,#b8ff47,#97ff68,#70ff8f,#49ffb6,#21ffde,#16ffe9)"></i>
<i style="background:linear-gradient(90deg,#a5ff5a,#b8ff47,#e7ff18,#ffe600,#ffb900,#ffa700,#ffad00,#ffb000,#ffb400,#ffc600,#ffe500,#faff05,#e2ff1d,#c6ff39,#9dff62,#71ff8e,#45ffba,#31ffce)"></i>
<i style="background:linear-gradient(90deg,#c9ff36,#e4ff1b,#ffe700,#ffb100,#ff7f00,#ff7100,#ff8300,#ff9200,#ff9d00,#ffb100,#ffce00,#ffe700,#fff600,#efff10,#c5ff3a,#95ff6a,#65ff9a,#4affb5)"></i>
<i style="background:linear-gradient(90deg,#e9ff16,#fff300,#ffbf00,#ff8400,#ff4d00,#ff4300,#ff6300,#ff7c00,#ff8d00,#ffa200,#ffbc00,#ffd000,#ffd800,#ffed00,#e6ff19,#b1ff4e,#80ff7f,#60ff9f)"></i>
<i style="background:linear-gradient(90deg,#fffa00,#ffd500,#ff9f00,#ff6200,#ff2800,#ff2200,#ff4e00,#ff6d00,#ff8300,#ff9a00,#ffb200,#ffc200,#ffc300,#ffd600,#fdff02,#c5ff3a,#93ff6c,#71ff8e)"></i>
<i style="background:linear-gradient(90deg,#ffe700,#ffc100,#ff8a00,#ff4d00,#ff1600,#ff1400,#ff4400,#ff6800,#ff8100,#ff9800,#ffae00,#ffbc00,#ffbb00,#ffcc00,#fff700,#cfff30,#9dff62,#7aff85)"></i>
<i style="background:linear-gradient(90deg,#ffdc00,#ffb600,#ff7f00,#ff4500,#ff1500,#ff1700,#ff4500,#ff6c00,#ff8700,#ff9e00,#ffb200,#ffbe00,#ffbf00,#ffd000,#fffa00,#d0ff2f,#9eff61,#7dff82)"></i>
<i style="background:linear-gradient(90deg,#ffd800,#ffb400,#ff7e00,#ff4800,#ff2100,#ff2700,#ff5200,#ff7900,#ff9300,#ffaa00,#ffbe00,#ffc800,#ffcc00,#ffdf00,#f8ff07,#c8ff37,#98ff67,#7aff85)"></i>
<i style="background:linear-gradient(90deg,#ffd700,#ffb900,#ff8500,#ff5500,#ff3700,#ff4100,#ff6800,#ff8e00,#ffa700,#ffbd00,#ffd000,#ffda00,#ffe100,#fff500,#e5ff1a,#b9ff46,#8cff73,#74ff8b)"></i>
<i style="background:linear-gradient(90deg,#ffdb00,#ffc400,#ff9200,#ff6900,#ff5300,#ff6000,#ff8700,#ffaa00,#ffc200,#ffd700,#ffe900,#fff200,#fffb00,#eeff11,#ccff33,#a5ff5a,#7cff83,#6bff94)"></i>
<i style="background:linear-gradient(90deg,#ffe200,#ffd200,#ffa400,#ff8100,#ff7200,#ff8300,#ffaa00,#ffcc00,#ffe300,#fff700,#f6ff09,#efff10,#e6ff19,#d0ff2f,#b0ff4f,#8fff70,#6aff95,#60ff9f)"></i>
<i style="background:linear-gradient(90deg,#ffea00,#ffe200,#ffb900,#ff9c00,#ff9400,#ffa800,#ffd000,#fff200,#f4ff0b,#e0ff1f,#d1ff2e,#ceff31,#c6ff39,#b2ff4d,#94ff6b,#78ff87,#58ffa7,#55ffaa)"></i>
<i style="background:linear-gradient(90deg,#fff200,#fff300,#ffd000,#ffb900,#ffb500,#ffcb00,#fff400,#e4ff1b,#c4ff3b,#b1ff4e,#aaff55,#abff54,#a6ff59,#94ff6b,#7aff85,#63ff9c,#47ffb8,#4affb5)"></i>
<i style="background:linear-gradient(90deg,#fffa00,#faff05,#ffe700,#ffd500,#ffd500,#ffed00,#e8ff17,#bcff43,#91ff6e,#7dff82,#81ff7e,#88ff77,#85ff7a,#78ff87,#63ff9c,#4fffb0,#37ffc8,#41ffbe)"></i>
<i style="background:linear-gradient(90deg,#fbff04,#f1ff0e,#fffe00,#fff100,#fff400,#f3ff0c,#caff35,#98ff67,#63ff9c,#4effb1,#5bffa4,#66ff99,#67ff98,#5effa1,#4effb1,#3dffc2,#2fffd0,#38ffc7)"></i>
<i style="background:linear-gradient(90deg,#f3ff0c,#e7ff18,#eaff15,#f3ff0c,#eeff11,#d7ff28,#afff50,#7aff85,#40ffbf,#2bffd4,#3affc5,#47ffb8,#4bffb4,#47ffb8,#3bffc4,#2dffd2,#28ffd7,#31ffce)"></i>
<i style="background:linear-gradient(90deg,#eaff15,#dcff23,#d5ff2a,#daff25,#d3ff2c,#beff41,#97ff68,#63ff9c,#2cffd3,#16ffe9,#20ffdf,#2cffd3,#33ffcc,#32ffcd,#2bffd4,#1fffe0,#21ffde,#2affd5)"></i>
<i style="background:linear-gradient(90deg,#e1ff1e,#d2ff2d,#c2ff3d,#c2ff3d,#bbff44,#a7ff58,#83ff7c,#51ffae,#22ffdd,#0bfff4,#0dfff2,#15ffea,#1effe1,#21ffde,#1cffe3,#13ffec,#1bffe4,#24ffdb)"></i>
<i style="background:linear-gradient(90deg,#d8ff27,#c8ff37,#b4ff4b,#adff52,#a6ff59,#93ff6c,#71ff8e,#42ffbd,#1bffe4,#04fffb,#00fdff,#03fffc,#0dfff2,#12ffed,#10ffef,#0cfff3,#16ffe9,#1effe1)"></i>
<i style="background:linear-gradient(90deg,#cfff30,#beff41,#aaff55,#9bff64,#93ff6c,#81ff7e,#61ff9e,#35ffca,#12ffed,#00fbff,#00f2ff,#00f6ff,#01fffe,#07fff8,#06fff9,#08fff7,#11ffee,#19ffe6)"></i>
<i style="background:linear-gradient(90deg,#c6ff39,#b5ff4a,#a0ff5f,#8bff74,#82ff7d,#70ff8f,#51ffae,#28ffd7,#07fff8,#00f1ff,#00eaff,#00eeff,#00f7ff,#00fdff,#00fcff,#04fffb,#0dfff2,#15ffea)"></i>
<i style="background:linear-gradient(90deg,#beff41,#acff53,#98ff67,#82ff7d,#73ff8c,#61ff9e,#42ffbd,#1bffe4,#00f9ff,#00e7ff,#00e2ff,#00e9ff,#00f2ff,#00f6ff,#00f9ff,#01fffe,#09fff6,#11ffee)"></i>
<i style="background:linear-gradient(90deg,#b5ff4a,#a4ff5b,#90ff6f,#7bff84,#65ff9a,#53ffac,#35ffca,#0ffff0,#00edff,#00dcff,#00dcff,#00e6ff,#00eeff,#00f1ff,#00f7ff,#00fdff,#06fff9,#0dfff2)"></i>
<i style="background:linear-gradient(90deg,#aeff51,#9cff63,#89ff76,#74ff8b,#5effa1,#47ffb8,#2affd5,#03fffc,#00e0ff,#00d1ff,#00d7ff,#00e5ff,#00edff,#00f0ff,#00f5ff,#00fbff,#03fffc,#0afff5)"></i>
<i style="background:linear-gradient(90deg,#a6ff59,#94ff6b,#82ff7d,#6eff91,#58ffa7,#3effc1,#1fffe0,#00f8ff,#00d5ff,#00c8ff,#00d3ff,#00e4ff,#00ecff,#00efff,#00f3ff,#00f9ff,#00ffff,#07fff8)"></i>
<i style="background:linear-gradient(90deg,#9fff60,#8eff71,#7cff83,#69ff96,#53ffac,#39ffc6,#18ffe7,#00efff,#00cbff,#00c1ff,#00cfff,#00e3ff,#00ebff,#00eeff,#00f2ff,#00f7ff,#00fdff,#04fffb)"></i>
<i style="background:linear-gradient(90deg,#98ff67,#88ff77,#76ff89,#63ff9c,#4effb1,#34ffcb,#13ffec,#00eaff,#00c7ff,#00beff,#00cdff,#00e1ff,#00eaff,#00edff,#00f1ff,#00f5ff,#00fbff,#01fffe)"></i>
</div></div>
<div class="hd" style="left:430.7px;top:1828.3px;width:543.0px;height:543.0px">
<div class="fl">
<i style="background:linear-gradient(90deg,#000082,#000080,#000080,#000080,#000083,#000096,#0000be,#0004ff,#005eff,#00c1ff,#23ffdc,#7cff83,#c3ff3c,#f7ff08,#ffe100,#ffc600,#ffb500,#ffab00)"></i>
<i style="background:linear-gradient(90deg,#000084,#000080,#000080,#000080,#000081,#000091,#0000b8,#0000fb,#0057ff,#00beff,#27ffd8,#86ff79,#cdff32,#fffd00,#ffd900,#ffc000,#ffb100,#ffa800)"></i>
<i style="background:linear-gradient(90deg,#000086,#000081,#000080,#000080,#000080,#00008d,#0000b0,#0000f0,#004dff,#00b6ff,#24ffdb,#89ff76,#d8ff27,#fff300,#ffd100,#ffba00,#ffad00,#ffa600)"></i>
<i style="background:linear-gradient(90deg,#000089,#000083,#000080,#000080,#000080,#000089,#0000a7,#0000e6,#0042ff,#00aeff,#20ffdf,#88ff77,#dcff23,#ffea00,#ffc900,#ffb400,#ffaa00,#ffa500)"></i>
<i style="background:linear-gradient(90deg,#00008d,#000086,#000080,#000080,#000080,#000087,#00009f,#0000dc,#0039ff,#00a7ff,#1cffe3,#87ff78,#ddff22,#ffe100,#ffc100,#ffaf00,#ffa700,#ffa400)"></i>
<i style="background:linear-gradient(90deg,#000091,#000089,#000082,#000080,#000082,#000086,#000098,#0000d4,#0031ff,#00a1ff,#1affe5,#87ff78,#ddff22,#ffe100,#ffba00,#ffab00,#ffa500,#ffa400)"></i>
<i style="background:linear-gradient(90deg,#000097,#00008d,#000085,#000080,#000087,#000087,#000092,#0000d0,#002dff,#009eff,#19ffe6,#87ff78,#ddff22,#ffe200,#ffb500,#ffa800,#ffa400,#ffa500)"></i>
<i style="background:linear-gradient(90deg,#00009e,#000092,#000088,#000087,#00008c,#000089,#000090,#0000d1,#002eff,#009eff,#1affe5,#88ff77,#dcff23,#ffe400,#ffb700,#ffa600,#ffa400,#ffa700)"></i>
<i style="background:linear-gradient(90deg,#0000a6,#000098,#00008c,#00008e,#000091,#00008d,#000096,#0000d8,#0035ff,#00a4ff,#1dffe2,#89ff76,#dbff24,#ffe700,#ffbb00,#ffa400,#ffa500,#ffa900)"></i>
<i style="background:linear-gradient(90deg,#0000b0,#0000a0,#000094,#000096,#000098,#000097,#0000a6,#0000e7,#0043ff,#00afff,#22ffdd,#89ff76,#d8ff27,#ffeb00,#ffc100,#ffa700,#ffa700,#ffac00)"></i>
<i style="background:linear-gradient(90deg,#0000bc,#0000aa,#00009f,#00009f,#0000a1,#0000a5,#0000bc,#0000fc,#0057ff,#00bfff,#2affd5,#8aff75,#d5ff2a,#fff000,#ffc800,#ffae00,#ffaa00,#ffb000)"></i>
<i style="background:linear-gradient(90deg,#0000c9,#0000b7,#0000ad,#0000ab,#0000af,#0000b8,#0000d6,#0017ff,#006fff,#00d1ff,#34ffcb,#8bff74,#d1ff2e,#fff600,#ffcf00,#ffb600,#ffae00,#ffb400)"></i>
<i style="background:linear-gradient(90deg,#0000d9,#0000c5,#0000bd,#0000ba,#0000c0,#0000d0,#0000f3,#0035ff,#008bff,#00e6ff,#3effc1,#8dff72,#cdff32,#fffd00,#ffd700,#ffbf00,#ffb300,#ffb900)"></i>
<i style="background:linear-gradient(90deg,#0000eb,#0000d7,#0000d0,#0000cc,#0000d5,#0000ea,#0013ff,#0055ff,#00a9ff,#00fdff,#4affb5,#8eff71,#c9ff36,#f9ff06,#ffdf00,#ffc800,#ffb900,#ffbf00)"></i>
<i style="background:linear-gradient(90deg,#0000ff,#0000ed,#0000e6,#0000e2,#0000ef,#000aff,#0035ff,#0077ff,#00c7ff,#14ffeb,#55ffaa,#90ff6f,#c3ff3c,#f1ff0e,#ffe800,#ffd100,#ffc200,#ffc400)"></i>
<i style="background:linear-gradient(90deg,#0017ff,#0008ff,#0001ff,#0000fe,#000eff,#002bff,#0058ff,#009aff,#00e6ff,#2affd5,#60ff9f,#91ff6e,#bdff42,#e8ff17,#fff200,#ffda00,#ffca00,#ffc900)"></i>
<i style="background:linear-gradient(90deg,#0030ff,#0023ff,#001fff,#0020ff,#0030ff,#0050ff,#007eff,#00bdff,#04fffb,#3effc1,#6aff95,#90ff6f,#b6ff49,#ddff22,#fffc00,#ffe300,#ffd200,#ffce00)"></i>
<i style="background:linear-gradient(90deg,#004bff,#0041ff,#003fff,#0043ff,#0055ff,#0075ff,#00a4ff,#00e0ff,#20ffdf,#52ffad,#73ff8c,#8fff70,#adff52,#d3ff2c,#f8ff07,#ffec00,#ffd900,#ffd200)"></i>
<i style="background:linear-gradient(90deg,#0067ff,#0061ff,#0061ff,#0068ff,#007aff,#009bff,#00c9ff,#03fffc,#3bffc4,#65ff9a,#7cff83,#8dff72,#a5ff5a,#c9ff36,#efff10,#fff300,#ffe000,#ffd600)"></i>
<i style="background:linear-gradient(90deg,#0083ff,#0081ff,#0084ff,#008dff,#00a0ff,#00c0ff,#00edff,#22ffdd,#55ffaa,#77ff88,#84ff7b,#8cff73,#9dff62,#c0ff3f,#e8ff17,#fffa00,#ffe500,#ffda00)"></i>
<i style="background:linear-gradient(90deg,#00a0ff,#00a1ff,#00a6ff,#00b1ff,#00c4ff,#00e3ff,#0ffff0,#3fffc0,#6dff92,#88ff77,#8bff74,#8bff74,#96ff69,#b9ff46,#e3ff1c,#ffff00,#ffea00,#ffde00)"></i>
<i style="background:linear-gradient(90deg,#00bdff,#00c0ff,#00c6ff,#00d3ff,#00e5ff,#04fffb,#2dffd2,#58ffa7,#82ff7d,#96ff69,#93ff6c,#8cff73,#92ff6d,#b4ff4b,#dfff20,#fbff04,#ffee00,#ffe100)"></i>
<i style="background:linear-gradient(90deg,#00d8ff,#00ddff,#00e5ff,#00f2ff,#04fffb,#20ffdf,#46ffb9,#6dff92,#93ff6c,#a2ff5d,#9aff65,#8fff70,#93ff6c,#b3ff4c,#ddff22,#f8ff07,#fff100,#ffe400)"></i>
<i style="background:linear-gradient(90deg,#00f2ff,#00f9ff,#02fffd,#0efff1,#1fffe0,#39ffc6,#5bffa4,#7eff81,#9eff61,#aaff55,#a1ff5e,#96ff69,#9aff65,#b7ff48,#ddff22,#f7ff08,#fff300,#ffe600)"></i>
<i style="background:linear-gradient(90deg,#0cfff3,#14ffeb,#1cffe3,#27ffd8,#37ffc8,#4effb1,#6bff94,#8bff74,#a6ff59,#b0ff4f,#a8ff57,#9eff61,#a4ff5b,#beff41,#dfff20,#f8ff07,#fff300,#ffe700)"></i>
<i style="background:linear-gradient(90deg,#23ffdc,#2cffd3,#34ffcb,#3dffc2,#4cffb3,#60ff9f,#79ff86,#95ff6a,#adff52,#b5ff4a,#afff50,#a9ff56,#b1ff4e,#c8ff37,#e4ff1b,#faff05,#fff100,#ffe700)"></i>
<i style="background:linear-gradient(90deg,#39ffc6,#44ffbb,#4affb5,#52ffad,#5effa1,#70ff8f,#85ff7a,#9cff63,#b1ff4e,#baff45,#b6ff49,#b4ff4b,#c0ff3f,#d6ff29,#ecff13,#fffe00,#ffee00,#ffe700)"></i>
<i style="background:linear-gradient(90deg,#4effb1,#5affa5,#5fffa0,#65ff9a,#70ff8f,#7eff81,#8fff70,#a2ff5d,#b5ff4a,#beff41,#beff41,#c1ff3e,#d1ff2e,#e6ff19,#f7ff08,#fff600,#ffe900,#ffe500)"></i>
<i style="background:linear-gradient(90deg,#62ff9d,#6eff91,#73ff8c,#77ff88,#80ff7f,#8bff74,#97ff68,#a7ff58,#b7ff48,#c2ff3d,#c7ff38,#cfff30,#e6ff19,#faff05,#fff800,#ffec00,#ffe200,#ffe100)"></i>
<i style="background:linear-gradient(90deg,#73ff8c,#82ff7d,#86ff79,#89ff76,#90ff6f,#98ff67,#a0ff5f,#abff54,#b8ff47,#c5ff3a,#d0ff2f,#e0ff1f,#fdff02,#ffec00,#ffe500,#ffde00,#ffd800,#ffdd00)"></i>
<i style="background:linear-gradient(90deg,#83ff7c,#94ff6b,#98ff67,#9bff64,#a0ff5f,#a5ff5a,#a9ff56,#afff50,#b8ff47,#c8ff37,#d9ff26,#f3ff0c,#ffe800,#ffd200,#ffd000,#ffcf00,#ffcd00,#ffd600)"></i>
<i style="background:linear-gradient(90deg,#92ff6d,#a3ff5c,#aaff55,#adff52,#b0ff4f,#b2ff4d,#b3ff4c,#b4ff4b,#b9ff46,#cbff34,#e3ff1c,#fff900,#ffce00,#ffb800,#ffbb00,#ffbf00,#ffc300,#ffce00)"></i>
<i style="background:linear-gradient(90deg,#a0ff5f,#b1ff4e,#bbff44,#beff41,#bfff40,#bfff40,#bdff42,#bbff44,#bdff42,#cfff30,#ebff14,#ffea00,#ffb600,#ff9f00,#ffa700,#ffb000,#ffb900,#ffc500)"></i>
<i style="background:linear-gradient(90deg,#acff53,#beff41,#ccff33,#ceff31,#cfff30,#cdff32,#c8ff37,#c3ff3c,#c4ff3b,#d4ff2b,#f2ff0d,#ffdf00,#ffa400,#ff8c00,#ff9600,#ffa200,#ffaf00,#ffbc00)"></i>
<i style="background:linear-gradient(90deg,#b8ff47,#c9ff36,#dbff24,#deff21,#deff21,#daff25,#d4ff2b,#ccff33,#cbff34,#daff25,#f8ff07,#ffd800,#ff9c00,#ff8100,#ff8a00,#ff9600,#ffa500,#ffb300)"></i>
<i style="background:linear-gradient(90deg,#c3ff3c,#d4ff2b,#e7ff18,#edff12,#ecff13,#e8ff17,#e0ff1f,#d6ff29,#d3ff2c,#dfff20,#fcff03,#ffd600,#ff9c00,#ff7e00,#ff8200,#ff8d00,#ff9c00,#ffab00)"></i>
<i style="background:linear-gradient(90deg,#cdff32,#deff21,#f0ff0f,#fbff04,#faff05,#f5ff0a,#ebff14,#dfff20,#daff25,#e4ff1b,#ffff00,#ffd500,#ff9f00,#ff8000,#ff7e00,#ff8700,#ff9500,#ffa300)"></i>
<i style="background:linear-gradient(90deg,#d6ff29,#e6ff19,#f8ff07,#fff500,#fff700,#fffc00,#f7ff08,#e9ff16,#e2ff1d,#e9ff16,#fffd00,#ffd500,#ffa400,#ff8500,#ff7d00,#ff8200,#ff8e00,#ff9b00)"></i>
<i style="background:linear-gradient(90deg,#deff21,#eeff11,#ffff00,#ffee00,#ffea00,#fff000,#fffc00,#f3ff0c,#e9ff16,#edff12,#fffb00,#ffd600,#ffaa00,#ff8a00,#ff7e00,#ff7f00,#ff8800,#ff9400)"></i>
<i style="background:linear-gradient(90deg,#e6ff19,#f6ff09,#fff900,#ffea00,#ffde00,#ffe400,#fff100,#fcff03,#efff10,#f1ff0e,#fffa00,#ffd900,#ffb000,#ff9000,#ff8000,#ff7e00,#ff8400,#ff8e00)"></i>
<i style="background:linear-gradient(90deg,#edff12,#fcff03,#fff300,#ffe600,#ffda00,#ffd900,#ffe600,#fff900,#f6ff09,#f5ff0a,#fff900,#ffdb00,#ffb500,#ff9600,#ff8300,#ff7d00,#ff8100,#ff8900)"></i>
<i style="background:linear-gradient(90deg,#f4ff0b,#fffc00,#ffee00,#ffe200,#ffd800,#ffd200,#ffdb00,#fff000,#fcff03,#f9ff06,#fff700,#ffdd00,#ffbb00,#ff9c00,#ff8700,#ff7e00,#ff7f00,#ff8500)"></i>
<i style="background:linear-gradient(90deg,#f9ff06,#fff700,#ffea00,#ffdf00,#ffd600,#ffd100,#ffd500,#ffe800,#fffb00,#feff01,#fff400,#ffdf00,#ffc000,#ffa200,#ff8c00,#ff8000,#ff7d00,#ff8200)"></i>
<i style="background:linear-gradient(90deg,#ffff00,#fff300,#ffe700,#ffdc00,#ffd500,#ffd100,#ffd600,#ffe600,#fff700,#fffd00,#fff400,#ffe200,#ffc600,#ffa800,#ff9000,#ff8200,#ff7d00,#ff8000)"></i>
</div></div>
<div class="hd" style="left:1095.2px;top:1824.2px;width:542.0px;height:542.0px">
<div class="fl">
<i style="background:linear-gradient(90deg,#00aeff,#0099ff,#0081ff,#0066ff,#0049ff,#002bff,#000cff,#0000e9,#0000cc,#0000b9,#0000b1,#0000b0,#0000b1,#0000b4,#0000b9,#0000c0,#0000c6,#0000cc)"></i>
<i style="background:linear-gradient(90deg,#00b6ff,#00a1ff,#0089ff,#006dff,#004fff,#0030ff,#0010ff,#0000ea,#0000ca,#0000b6,#0000af,#0000b0,#0000b1,#0000b5,#0000bb,#0000c2,#0000c8,#0000cd)"></i>
<i style="background:linear-gradient(90deg,#00beff,#00aaff,#0091ff,#0075ff,#0056ff,#0036ff,#0010ff,#0000e6,#0000c5,#0000b1,#0000ab,#0000ad,#0000b1,#0000b6,#0000bd,#0000c4,#0000ca,#0000cf)"></i>
<i style="background:linear-gradient(90deg,#00c6ff,#00b2ff,#009aff,#007eff,#005eff,#0038ff,#000eff,#0000e3,#0000c1,#0000ac,#0000a6,#0000a9,#0000b0,#0000b7,#0000bf,#0000c7,#0000cc,#0000d1)"></i>
<i style="background:linear-gradient(90deg,#00ceff,#00bbff,#00a4ff,#0087ff,#0066ff,#003aff,#000dff,#0000e1,#0000be,#0000a8,#0000a2,#0000a6,#0000af,#0000b9,#0000c1,#0000c9,#0000ce,#0000d3)"></i>
<i style="background:linear-gradient(90deg,#00d7ff,#00c4ff,#00aeff,#0091ff,#006bff,#003dff,#000dff,#0000e1,#0000bc,#0000a6,#00009f,#0000a3,#0000ae,#0000ba,#0000c4,#0000cb,#0000d0,#0000d5)"></i>
<i style="background:linear-gradient(90deg,#00e0ff,#00ceff,#00b8ff,#009cff,#0073ff,#0043ff,#0010ff,#0000e3,#0000bc,#0000a5,#00009e,#0000a2,#0000ae,#0000bc,#0000c7,#0000ce,#0000d3,#0000d7)"></i>
<i style="background:linear-gradient(90deg,#00e9ff,#00d7ff,#00c2ff,#00a5ff,#007cff,#004bff,#0017ff,#0000e8,#0000bf,#0000a6,#00009f,#0000a3,#0000af,#0000bf,#0000cb,#0000d0,#0000d5,#0000da)"></i>
<i style="background:linear-gradient(90deg,#00f3ff,#00e2ff,#00cdff,#00afff,#0087ff,#0057ff,#0022ff,#0000f2,#0000c6,#0000aa,#0000a2,#0000a5,#0000b2,#0000c2,#0000ce,#0000d2,#0000d7,#0000dd)"></i>
<i style="background:linear-gradient(90deg,#00fdff,#00ecff,#00d8ff,#00b9ff,#0094ff,#0067ff,#0033ff,#0001ff,#0000d0,#0000b2,#0000a8,#0000ab,#0000b7,#0000c6,#0000d1,#0000d5,#0000db,#0000e0)"></i>
<i style="background:linear-gradient(90deg,#09fff6,#00f8ff,#00e1ff,#00c4ff,#00a2ff,#007aff,#0049ff,#0012ff,#0000de,#0000bc,#0000b1,#0000b4,#0000be,#0000ca,#0000d4,#0000d9,#0000de,#0000e4)"></i>
<i style="background:linear-gradient(90deg,#15ffea,#05fffa,#00ecff,#00d0ff,#00b2ff,#0090ff,#0061ff,#0027ff,#0000ed,#0000c9,#0000bc,#0000be,#0000c6,#0000d0,#0000d9,#0000de,#0000e3,#0000e9)"></i>
<i style="background:linear-gradient(90deg,#21ffde,#12ffed,#00f7ff,#00dcff,#00c4ff,#00a7ff,#007cff,#003dff,#0000ff,#0000d7,#0000c9,#0000ca,#0000d0,#0000d7,#0000de,#0000e3,#0000e8,#0000ef)"></i>
<i style="background:linear-gradient(90deg,#2dffd2,#1fffe0,#05fffa,#00eaff,#00d6ff,#00c0ff,#0098ff,#0056ff,#0013ff,#0000e8,#0000d9,#0000d9,#0000db,#0000e0,#0000e5,#0000e9,#0000ee,#0000f6)"></i>
<i style="background:linear-gradient(90deg,#3bffc4,#2cffd3,#12ffed,#00f9ff,#00e9ff,#00d8ff,#00b4ff,#006eff,#0028ff,#0000fa,#0000ea,#0000e9,#0000e8,#0000ea,#0000ed,#0000f1,#0000f6,#0000fe)"></i>
<i style="background:linear-gradient(90deg,#48ffb7,#39ffc6,#21ffde,#0afff5,#00fcff,#00eeff,#00ccff,#0087ff,#0040ff,#0011ff,#0000fd,#0000f9,#0000f6,#0000f5,#0000f7,#0000fa,#0000ff,#0008ff)"></i>
<i style="background:linear-gradient(90deg,#56ffa9,#47ffb8,#31ffce,#1dffe2,#11ffee,#04fffb,#00e1ff,#009fff,#005aff,#0029ff,#0013ff,#000cff,#0007ff,#0004ff,#0004ff,#0006ff,#000bff,#0012ff)"></i>
<i style="background:linear-gradient(90deg,#64ff9b,#56ffa9,#42ffbd,#31ffce,#26ffd9,#18ffe7,#00f5ff,#00b8ff,#0075ff,#0045ff,#002bff,#001fff,#0019ff,#0014ff,#0013ff,#0014ff,#0018ff,#001fff)"></i>
<i style="background:linear-gradient(90deg,#73ff8c,#66ff99,#54ffab,#45ffba,#3affc5,#2cffd3,#0bfff4,#00d1ff,#0092ff,#0062ff,#0046ff,#0036ff,#002eff,#0028ff,#0025ff,#0025ff,#0028ff,#002eff)"></i>
<i style="background:linear-gradient(90deg,#81ff7e,#76ff89,#67ff98,#59ffa6,#4fffb0,#41ffbe,#21ffde,#00ecff,#00b1ff,#0082ff,#0064ff,#0051ff,#0047ff,#0041ff,#003cff,#003bff,#003bff,#0041ff)"></i>
<i style="background:linear-gradient(90deg,#90ff6f,#87ff78,#7aff85,#6eff91,#65ff9a,#57ffa8,#39ffc6,#09fff6,#00d2ff,#00a5ff,#0086ff,#0070ff,#0065ff,#005eff,#0057ff,#0055ff,#0053ff,#0056ff)"></i>
<i style="background:linear-gradient(90deg,#a0ff5f,#98ff67,#8dff72,#83ff7c,#7bff84,#6eff91,#53ffac,#28ffd7,#00f5ff,#00cbff,#00acff,#0094ff,#0089ff,#0081ff,#0078ff,#0075ff,#0070ff,#0071ff)"></i>
<i style="background:linear-gradient(90deg,#afff50,#aaff55,#a1ff5e,#98ff67,#91ff6e,#86ff79,#6eff91,#49ffb6,#1dffe2,#00f6ff,#00d8ff,#00c0ff,#00b4ff,#00abff,#00a0ff,#009bff,#0094ff,#0092ff)"></i>
<i style="background:linear-gradient(90deg,#beff41,#bbff44,#b5ff4a,#aeff51,#a9ff56,#9fff60,#8aff75,#6bff94,#47ffb8,#26ffd9,#0afff5,#00f2ff,#00e5ff,#00daff,#00cfff,#00c7ff,#00beff,#00b8ff)"></i>
<i style="background:linear-gradient(90deg,#cdff32,#cdff32,#c8ff37,#c5ff3a,#c1ff3e,#b9ff46,#a8ff57,#90ff6f,#74ff8b,#58ffa7,#3fffc0,#29ffd6,#1dffe2,#11ffee,#03fffc,#00f7ff,#00edff,#00e2ff)"></i>
<i style="background:linear-gradient(90deg,#dcff23,#deff21,#dcff23,#dbff24,#dbff24,#d5ff2a,#c8ff37,#b7ff48,#a3ff5c,#8dff72,#78ff87,#64ff9b,#58ffa7,#4affb5,#3affc5,#2bffd4,#1fffe0,#0ffff0)"></i>
<i style="background:linear-gradient(90deg,#eaff15,#eeff11,#efff10,#f1ff0e,#f5ff0a,#f2ff0d,#e8ff17,#e0ff1f,#d4ff2b,#c4ff3b,#b3ff4c,#a2ff5d,#97ff68,#87ff78,#72ff8d,#60ff9f,#50ffaf,#3bffc4)"></i>
<i style="background:linear-gradient(90deg,#f7ff08,#fdff02,#fffe00,#fff800,#ffee00,#ffed00,#fff300,#fff400,#fff900,#fdff02,#f1ff0e,#e2ff1d,#d9ff26,#c6ff39,#abff54,#94ff6b,#81ff7e,#67ff98)"></i>
<i style="background:linear-gradient(90deg,#fffb00,#fff300,#ffed00,#ffe400,#ffd300,#ffcb00,#ffcf00,#ffc900,#ffc700,#ffc900,#ffcf00,#ffda00,#ffe000,#fff800,#e3ff1c,#c6ff39,#afff50,#91ff6e)"></i>
<i style="background:linear-gradient(90deg,#fff100,#ffe800,#ffdf00,#ffd000,#ffb800,#ffa700,#ffa600,#ff9d00,#ff9700,#ff9300,#ff9100,#ff9400,#ff9a00,#ffb900,#ffe500,#f5ff0a,#d7ff28,#b7ff48)"></i>
<i style="background:linear-gradient(90deg,#ffe800,#ffe000,#ffd200,#ffbe00,#ffa000,#ff8400,#ff7c00,#ff7400,#ff6a00,#ff5f00,#ff5600,#ff4e00,#ff5500,#ff7f00,#ffb400,#ffe000,#faff05,#d8ff27)"></i>
<i style="background:linear-gradient(90deg,#ffe100,#ffd900,#ffc900,#ffb000,#ff8c00,#ff6500,#ff5800,#ff5000,#ff4200,#ff3300,#ff2200,#ff0f00,#ff1600,#ff4c00,#ff8900,#ffbd00,#ffe700,#f6ff09)"></i>
<i style="background:linear-gradient(90deg,#ffdb00,#ffd300,#ffc400,#ffa700,#ff7f00,#ff5000,#ff3d00,#ff3400,#ff2200,#ff0f00,#f80000,#dc0000,#e20000,#ff2600,#ff6800,#ffa100,#ffcd00,#ffee00)"></i>
<i style="background:linear-gradient(90deg,#ffd500,#ffcf00,#ffc200,#ffa400,#ff7c00,#ff4b00,#ff2f00,#ff2200,#ff0d00,#f60000,#de0000,#bd0000,#c30000,#ff1000,#ff5300,#ff8f00,#ffb700,#ffd600)"></i>
<i style="background:linear-gradient(90deg,#ffd100,#ffcb00,#ffc500,#ffa800,#ff8300,#ff5100,#ff2c00,#ff1c00,#ff0400,#eb0000,#d40000,#b60000,#c30000,#ff0e00,#ff4a00,#ff8500,#ffa400,#ffc100)"></i>
<i style="background:linear-gradient(90deg,#ffcd00,#ffc900,#ffc800,#ffb200,#ff9200,#ff6000,#ff3500,#ff2400,#ff0a00,#f10000,#db0000,#c40000,#db0000,#ff1f00,#ff4f00,#ff7e00,#ff9400,#ffae00)"></i>
<i style="background:linear-gradient(90deg,#ffca00,#ffc800,#ffc900,#ffc300,#ffaa00,#ff7800,#ff4a00,#ff3700,#ff2100,#ff0900,#f00000,#e10000,#ff0200,#ff4000,#ff6300,#ff7700,#ff8700,#ff9f00)"></i>
<i style="background:linear-gradient(90deg,#ffc900,#ffc800,#ffcc00,#ffd900,#ffc800,#ff9600,#ff6700,#ff5400,#ff4500,#ff2e00,#ff1100,#ff0700,#ff2e00,#ff6c00,#ff8000,#ff7500,#ff7e00,#ff9100)"></i>
<i style="background:linear-gradient(90deg,#ffc800,#ffc900,#ffd100,#ffe400,#ffe500,#ffb500,#ff8800,#ff7500,#ff7000,#ff5900,#ff3500,#ff2e00,#ff5900,#ff9800,#ff8f00,#ff7700,#ff7800,#ff8700)"></i>
<i style="background:linear-gradient(90deg,#ffc800,#ffcb00,#ffd600,#ffec00,#fffb00,#ffd100,#ffa800,#ff9700,#ff9900,#ff8300,#ff5a00,#ff5400,#ff7e00,#ffb500,#ff9b00,#ff7d00,#ff7600,#ff7f00)"></i>
<i style="background:linear-gradient(90deg,#ffc900,#ffce00,#ffdd00,#fff300,#ffff00,#ffea00,#ffc500,#ffb500,#ffb800,#ffa300,#ff7b00,#ff7500,#ff9b00,#ffb900,#ffa600,#ff8500,#ff7600,#ff7900)"></i>
<i style="background:linear-gradient(90deg,#ffca00,#ffd300,#ffe400,#fff900,#ffff00,#fff700,#ffdf00,#ffce00,#ffc900,#ffb600,#ff9600,#ff9200,#ffa900,#ffb800,#ffaf00,#ff8f00,#ff7900,#ff7600)"></i>
<i style="background:linear-gradient(90deg,#ffcd00,#ffd800,#ffeb00,#fffd00,#fffe00,#fff600,#ffee00,#ffe200,#ffd400,#ffc100,#ffad00,#ffa200,#ffa700,#ffb500,#ffb500,#ff9900,#ff7f00,#ff7500)"></i>
<i style="background:linear-gradient(90deg,#ffd000,#ffde00,#fff100,#ffff00,#fffc00,#fff400,#ffed00,#ffe700,#ffdb00,#ffc900,#ffb400,#ffa300,#ffa500,#ffb300,#ffb900,#ffa300,#ff8700,#ff7700)"></i>
</div></div>
<div class="hd" style="left:1761.0px;top:1828.5px;width:542.0px;height:542.0px">
<div class="fl">
<i style="background:linear-gradient(90deg,#000094,#000088,#000081,#00008b,#0000ac,#0000e1,#0022ff,#0063ff,#00a7ff,#00ecff,#30ffcf,#71ff8e,#acff53,#e1ff1e,#ffef00,#ffc800,#ffa800,#ff8e00)"></i>
<i style="background:linear-gradient(90deg,#000099,#00008c,#000082,#000086,#0000a3,#0000d7,#001aff,#0060ff,#00a9ff,#00f1ff,#36ffc9,#78ff87,#b5ff4a,#ecff13,#ffe400,#ffbd00,#ff9d00,#ff8500)"></i>
<i style="background:linear-gradient(90deg,#00009e,#000091,#000084,#000083,#00009a,#0000cc,#0015ff,#0060ff,#00acff,#00f6ff,#3fffc0,#82ff7d,#c0ff3f,#f7ff08,#ffd800,#ffb200,#ff9300,#ff7c00)"></i>
<i style="background:linear-gradient(90deg,#0000a4,#000097,#000088,#000081,#000092,#0000c4,#0011ff,#0060ff,#00afff,#00fcff,#47ffb8,#8dff72,#ccff33,#fffb00,#ffcc00,#ffa600,#ff8900,#ff7300)"></i>
<i style="background:linear-gradient(90deg,#0000aa,#00009d,#00008e,#000081,#00008b,#0000c0,#000fff,#0062ff,#00b4ff,#04fffb,#51ffae,#99ff66,#daff25,#ffed00,#ffbf00,#ff9a00,#ff7f00,#ff6a00)"></i>
<i style="background:linear-gradient(90deg,#0000b1,#0000a3,#000094,#000084,#00008a,#0000bd,#0010ff,#0066ff,#00baff,#0cfff3,#5bffa4,#a5ff5a,#e8ff17,#ffde00,#ffb200,#ff8e00,#ff7500,#ff6200)"></i>
<i style="background:linear-gradient(90deg,#0000b9,#0000aa,#00009a,#00008a,#00008c,#0000c0,#0015ff,#006dff,#00c2ff,#16ffe9,#67ff98,#b3ff4c,#f7ff08,#ffcd00,#ffa300,#ff8300,#ff6b00,#ff5a00)"></i>
<i style="background:linear-gradient(90deg,#0000c1,#0000b2,#0000a1,#00009a,#000094,#0000c8,#001fff,#0077ff,#00cdff,#22ffdd,#74ff8b,#c1ff3e,#fff600,#ffbc00,#ff9300,#ff7700,#ff6100,#ff5200)"></i>
<i style="background:linear-gradient(90deg,#0000cb,#0000ba,#0000a9,#0000ac,#0000a7,#0000da,#002eff,#0085ff,#00daff,#2fffd0,#83ff7c,#d1ff2e,#ffe500,#ffaa00,#ff8200,#ff6b00,#ff5800,#ff4b00)"></i>
<i style="background:linear-gradient(90deg,#0000d6,#0000c5,#0000b5,#0000be,#0000c2,#0000f2,#0043ff,#0097ff,#00eaff,#3fffc0,#93ff6c,#e3ff1c,#ffd200,#ff9700,#ff7000,#ff5f00,#ff4f00,#ff4400)"></i>
<i style="background:linear-gradient(90deg,#0000e3,#0000d0,#0000c8,#0000d2,#0000e0,#0011ff,#005cff,#00adff,#00fdff,#51ffae,#a6ff59,#f6ff09,#ffbe00,#ff8300,#ff5e00,#ff5100,#ff4700,#ff3e00)"></i>
<i style="background:linear-gradient(90deg,#0000f0,#0000de,#0000dd,#0000ea,#0000ff,#0032ff,#0079ff,#00c5ff,#13ffec,#65ff9a,#b9ff46,#fff400,#ffa900,#ff6f00,#ff4c00,#ff4200,#ff4000,#ff3900)"></i>
<i style="background:linear-gradient(90deg,#0000ff,#0000ed,#0000f5,#0005ff,#0021ff,#0055ff,#0099ff,#00e0ff,#2affd5,#7aff85,#ceff31,#ffdf00,#ff9400,#ff5a00,#ff3900,#ff3400,#ff3a00,#ff3500)"></i>
<i style="background:linear-gradient(90deg,#0011ff,#0000fd,#000fff,#0022ff,#0044ff,#0079ff,#00baff,#00fcff,#42ffbd,#90ff6f,#e4ff1b,#ffc900,#ff7f00,#ff4500,#ff2600,#ff2600,#ff3500,#ff3000)"></i>
<i style="background:linear-gradient(90deg,#0022ff,#0017ff,#002cff,#0041ff,#0068ff,#009eff,#00dcff,#19ffe6,#5affa5,#a7ff58,#fbff04,#ffb300,#ff6900,#ff3100,#ff1500,#ff1800,#ff2c00,#ff2c00)"></i>
<i style="background:linear-gradient(90deg,#0035ff,#0031ff,#004aff,#0064ff,#008dff,#00c3ff,#00fdff,#36ffc9,#73ff8c,#beff41,#ffec00,#ff9c00,#ff5400,#ff1e00,#ff0500,#ff0c00,#ff2300,#ff2700)"></i>
<i style="background:linear-gradient(90deg,#0048ff,#004cff,#006aff,#008aff,#00b4ff,#00e6ff,#1dffe2,#51ffae,#8cff73,#d6ff29,#ffd500,#ff8500,#ff3f00,#ff0e00,#f70000,#ff0100,#ff1a00,#ff2100)"></i>
<i style="background:linear-gradient(90deg,#005cff,#0067ff,#008bff,#00b0ff,#00daff,#09fff6,#39ffc6,#6bff94,#a4ff5b,#ecff13,#ffbf00,#ff6e00,#ff2d00,#ff0000,#ed0000,#f80000,#ff1100,#ff1c00)"></i>
<i style="background:linear-gradient(90deg,#006fff,#0082ff,#00abff,#00d5ff,#00feff,#28ffd7,#53ffac,#82ff7d,#b9ff46,#fffe00,#ffab00,#ff5b00,#ff1d00,#f50000,#e70000,#f20000,#ff0b00,#ff1800)"></i>
<i style="background:linear-gradient(90deg,#0082ff,#009aff,#00c9ff,#00f8ff,#1fffe0,#43ffbc,#6bff94,#95ff6a,#caff35,#ffee00,#ff9b00,#ff4b00,#ff1100,#ef0000,#e40000,#f00000,#ff0700,#ff1600)"></i>
<i style="background:linear-gradient(90deg,#0093ff,#00b0ff,#00e3ff,#18ffe7,#3bffc4,#5affa5,#7eff81,#a5ff5a,#d7ff28,#ffe300,#ff9100,#ff4000,#ff0c00,#ef0000,#e60000,#f10000,#ff0700,#ff1700)"></i>
<i style="background:linear-gradient(90deg,#00a4ff,#00c3ff,#00f9ff,#30ffcf,#50ffaf,#6cff93,#8cff73,#b0ff4f,#e0ff1f,#ffde00,#ff8e00,#ff3c00,#ff0d00,#f50000,#ed0000,#f70000,#ff0b00,#ff1a00)"></i>
<i style="background:linear-gradient(90deg,#00b2ff,#00d3ff,#09fff6,#3effc1,#5dffa2,#77ff88,#96ff69,#b7ff48,#e3ff1c,#ffde00,#ff9200,#ff4400,#ff1800,#ff0100,#f90000,#ff0200,#ff1300,#ff2100)"></i>
<i style="background:linear-gradient(90deg,#00bfff,#00deff,#12ffed,#43ffbc,#62ff9d,#7cff83,#99ff66,#b9ff46,#e2ff1d,#ffe300,#ff9d00,#ff5700,#ff2a00,#ff1300,#ff0a00,#ff1100,#ff2000,#ff2c00)"></i>
<i style="background:linear-gradient(90deg,#00cbff,#00e7ff,#15ffea,#41ffbe,#60ff9f,#7bff84,#98ff67,#b7ff48,#ddff22,#ffed00,#ffae00,#ff7000,#ff4400,#ff2a00,#ff1f00,#ff2300,#ff3000,#ff3900)"></i>
<i style="background:linear-gradient(90deg,#00d4ff,#00ecff,#15ffea,#3affc5,#59ffa6,#76ff89,#93ff6c,#b1ff4e,#d4ff2b,#fffc00,#ffc400,#ff8e00,#ff6100,#ff4400,#ff3700,#ff3800,#ff4400,#ff4900)"></i>
<i style="background:linear-gradient(90deg,#00dcff,#00efff,#12ffed,#31ffce,#4effb1,#6cff93,#8bff74,#a7ff58,#c8ff37,#f1ff0e,#ffdd00,#ffae00,#ff8200,#ff6100,#ff5100,#ff5000,#ff5a00,#ff5b00)"></i>
<i style="background:linear-gradient(90deg,#00e3ff,#00f1ff,#0efff1,#26ffd9,#40ffbf,#5fffa0,#80ff7f,#9bff64,#b9ff46,#dfff20,#fff600,#ffce00,#ffa300,#ff7f00,#ff6d00,#ff6b00,#ff7200,#ff6d00)"></i>
<i style="background:linear-gradient(90deg,#00e8ff,#00f2ff,#09fff6,#1bffe4,#32ffcd,#4fffb0,#72ff8d,#8dff72,#aaff55,#ccff33,#f1ff0e,#ffed00,#ffc200,#ff9e00,#ff8a00,#ff8600,#ff8b00,#ff8100)"></i>
<i style="background:linear-gradient(90deg,#00ecff,#00f2ff,#05fffa,#12ffed,#24ffdb,#3dffc2,#61ff9e,#7eff81,#9aff65,#baff45,#dbff24,#f8ff07,#ffdf00,#ffbd00,#ffa900,#ffa400,#ffa500,#ff9500)"></i>
<i style="background:linear-gradient(90deg,#00f0ff,#00f3ff,#02fffd,#0cfff3,#18ffe7,#2bffd4,#4effb1,#6fff90,#8cff73,#aaff55,#c9ff36,#e4ff1b,#fff900,#ffdc00,#ffc900,#ffc100,#ffc000,#ffa900)"></i>
<i style="background:linear-gradient(90deg,#00f3ff,#00f6ff,#01fffe,#08fff7,#10ffef,#1cffe3,#3effc1,#62ff9d,#7fff80,#9bff64,#b9ff46,#d3ff2c,#eeff11,#fff900,#ffe900,#ffe000,#ffd600,#ffbd00)"></i>
<i style="background:linear-gradient(90deg,#00f5ff,#00f9ff,#01fffe,#07fff8,#0cfff3,#14ffeb,#34ffcb,#59ffa6,#74ff8b,#8eff71,#aaff55,#c4ff3b,#d7ff28,#e7ff18,#f5ff0a,#fffe00,#ffec00,#ffd100)"></i>
<i style="background:linear-gradient(90deg,#00f8ff,#00fdff,#04fffb,#09fff6,#0dfff2,#15ffea,#32ffcd,#53ffac,#6cff93,#83ff7c,#9dff62,#b5ff4a,#c1ff3e,#caff35,#d5ff2a,#e2ff1d,#fcff03,#ffe400)"></i>
<i style="background:linear-gradient(90deg,#00fbff,#01fffe,#09fff6,#0efff1,#13ffec,#1dffe2,#37ffc8,#52ffad,#65ff9a,#78ff87,#8fff70,#a5ff5a,#aaff55,#acff53,#b6ff49,#c5ff3a,#e8ff17,#fff800)"></i>
<i style="background:linear-gradient(90deg,#00feff,#05fffa,#0efff1,#15ffea,#1cffe3,#29ffd6,#40ffbf,#54ffab,#62ff9d,#6fff90,#81ff7e,#93ff6c,#8fff70,#8fff70,#98ff67,#aeff51,#d4ff2b,#f4ff0b)"></i>
<i style="background:linear-gradient(90deg,#02fffd,#09fff6,#13ffec,#1fffe0,#28ffd7,#37ffc8,#4bffb4,#59ffa6,#61ff9e,#68ff97,#71ff8e,#79ff86,#72ff8d,#71ff8e,#7cff83,#9bff64,#c1ff3e,#e2ff1d)"></i>
<i style="background:linear-gradient(90deg,#06fff9,#0efff1,#19ffe6,#2affd5,#36ffc9,#45ffba,#57ffa8,#61ff9e,#63ff9c,#63ff9c,#61ff9e,#5bffa4,#52ffad,#54ffab,#62ff9d,#8aff75,#afff50,#d0ff2f)"></i>
<i style="background:linear-gradient(90deg,#09fff6,#12ffed,#1fffe0,#32ffcd,#44ffbb,#55ffaa,#64ff9b,#6aff95,#67ff98,#5fffa0,#52ffad,#3effc1,#32ffcd,#39ffc6,#52ffad,#7aff85,#9fff60,#c0ff3f)"></i>
<i style="background:linear-gradient(90deg,#0dfff2,#17ffe8,#25ffda,#39ffc6,#52ffad,#64ff9b,#71ff8e,#74ff8b,#6dff92,#5dffa2,#45ffba,#25ffda,#16ffe9,#22ffdd,#46ffb9,#6bff94,#8fff70,#b0ff4f)"></i>
<i style="background:linear-gradient(90deg,#11ffee,#1cffe3,#2cffd3,#40ffbf,#5affa5,#73ff8c,#7fff80,#7eff81,#73ff8c,#5dffa2,#3dffc2,#14ffeb,#01fffe,#17ffe8,#3affc5,#5effa1,#81ff7e,#a1ff5e)"></i>
<i style="background:linear-gradient(90deg,#16ffe9,#22ffdd,#32ffcd,#47ffb8,#61ff9e,#7dff82,#8cff73,#87ff78,#79ff86,#5fffa0,#3affc5,#0ffff0,#00f8ff,#10ffef,#30ffcf,#52ffad,#74ff8b,#94ff6b)"></i>
<i style="background:linear-gradient(90deg,#1affe5,#27ffd8,#38ffc7,#4effb1,#67ff98,#82ff7d,#94ff6b,#8fff70,#7eff81,#61ff9e,#3affc5,#12ffed,#00f8ff,#09fff6,#27ffd8,#47ffb8,#68ff97,#87ff78)"></i>
<i style="background:linear-gradient(90deg,#1fffe0,#2cffd3,#3effc1,#54ffab,#6dff92,#86ff79,#95ff6a,#91ff6e,#81ff7e,#63ff9c,#3cffc3,#16ffe9,#00f8ff,#04fffb,#1fffe0,#3effc1,#5cffa3,#7aff85)"></i>
</div></div>
<div class="hd" style="left:2424.5px;top:1837.8px;width:542.0px;height:542.0px">
<div class="fl">
<i style="background:linear-gradient(90deg,#00c5ff,#00c1ff,#00bcff,#00b7ff,#00afff,#00a3ff,#008eff,#006aff,#0040ff,#001aff,#0000fb,#0000e0,#0000c5,#0000ae,#00009e,#000095,#000094,#00009a)"></i>
<i style="background:linear-gradient(90deg,#00c7ff,#00c2ff,#00beff,#00b8ff,#00b1ff,#00a6ff,#0091ff,#0071ff,#004cff,#0025ff,#0000ff,#0000dd,#0000c1,#0000aa,#00009b,#000094,#000096,#00009c)"></i>
<i style="background:linear-gradient(90deg,#00c9ff,#00c4ff,#00bfff,#00baff,#00b3ff,#00a8ff,#009cff,#0083ff,#005fff,#0038ff,#0011ff,#0000e4,#0000bc,#0000a6,#000098,#000094,#000099,#00009e)"></i>
<i style="background:linear-gradient(90deg,#00cbff,#00c6ff,#00c1ff,#00bcff,#00b5ff,#00b1ff,#00abff,#0095ff,#0074ff,#004dff,#0023ff,#0000f3,#0000c2,#0000a1,#000095,#000095,#00009b,#0000a2)"></i>
<i style="background:linear-gradient(90deg,#00ceff,#00c8ff,#00c3ff,#00bdff,#00b9ff,#00beff,#00b9ff,#00a7ff,#0089ff,#0063ff,#0036ff,#0003ff,#0000ce,#0000a0,#000094,#000097,#00009e,#0000a6)"></i>
<i style="background:linear-gradient(90deg,#00d0ff,#00cbff,#00c5ff,#00bfff,#00c5ff,#00cbff,#00c8ff,#00b9ff,#009fff,#0079ff,#004aff,#0014ff,#0000db,#0000a9,#000094,#00009a,#0000a1,#0000ac)"></i>
<i style="background:linear-gradient(90deg,#00d2ff,#00cdff,#00c8ff,#00c3ff,#00d1ff,#00d9ff,#00d7ff,#00ccff,#00b5ff,#0091ff,#0060ff,#0027ff,#0000ea,#0000b3,#000096,#00009d,#0000a6,#0000b3)"></i>
<i style="background:linear-gradient(90deg,#00d4ff,#00d0ff,#00caff,#00ceff,#00deff,#00e7ff,#00e7ff,#00dfff,#00ccff,#00a9ff,#0077ff,#003cff,#0000fc,#0000c1,#00009d,#0000a0,#0000ac,#0000ba)"></i>
<i style="background:linear-gradient(90deg,#00d6ff,#00d2ff,#00cdff,#00dbff,#00ebff,#00f6ff,#00f8ff,#00f2ff,#00e2ff,#00c0ff,#008fff,#0053ff,#0013ff,#0000d3,#0000a9,#0000a6,#0000b4,#0000c3)"></i>
<i style="background:linear-gradient(90deg,#00d7ff,#00d5ff,#00d3ff,#00e8ff,#00faff,#06fff9,#0afff5,#07fff8,#00f7ff,#00d8ff,#00a8ff,#006dff,#002cff,#0000ec,#0000c0,#0000b0,#0000bd,#0000cd)"></i>
<i style="background:linear-gradient(90deg,#00d8ff,#00d7ff,#00deff,#00f6ff,#0afff5,#17ffe8,#1cffe3,#1affe5,#0dfff2,#00efff,#00c2ff,#0089ff,#0049ff,#000bff,#0000dc,#0000c5,#0000c7,#0000d7)"></i>
<i style="background:linear-gradient(90deg,#00d9ff,#00d8ff,#00e9ff,#05fffa,#19ffe6,#27ffd8,#2dffd2,#2dffd2,#22ffdd,#08fff7,#00dcff,#00a6ff,#0069ff,#002cff,#0000fc,#0000dd,#0000d3,#0000e3)"></i>
<i style="background:linear-gradient(90deg,#00d8ff,#00d9ff,#00f3ff,#12ffed,#28ffd7,#36ffc9,#3fffc0,#40ffbf,#38ffc7,#20ffdf,#00f8ff,#00c5ff,#008aff,#004fff,#001fff,#0000f8,#0000e0,#0000f0)"></i>
<i style="background:linear-gradient(90deg,#00d8ff,#00d9ff,#00fcff,#1effe1,#36ffc9,#45ffba,#4fffb0,#53ffac,#4cffb3,#37ffc8,#14ffeb,#00e4ff,#00acff,#0073ff,#0041ff,#0016ff,#0000ee,#0000fd)"></i>
<i style="background:linear-gradient(90deg,#00d6ff,#00ddff,#04fffb,#29ffd6,#42ffbd,#53ffac,#5fffa0,#65ff9a,#61ff9e,#4fffb0,#2fffd0,#04fffb,#00cdff,#0097ff,#0064ff,#0033ff,#0007ff,#000dff)"></i>
<i style="background:linear-gradient(90deg,#00d4ff,#00e0ff,#09fff6,#31ffce,#4cffb3,#60ff9f,#6eff91,#77ff88,#74ff8b,#65ff9a,#48ffb7,#21ffde,#00eeff,#00b9ff,#0085ff,#0051ff,#0021ff,#001eff)"></i>
<i style="background:linear-gradient(90deg,#00d2ff,#00e3ff,#0dfff2,#35ffca,#54ffab,#6cff93,#7dff82,#87ff78,#87ff78,#7aff85,#61ff9e,#3dffc2,#0efff1,#00d9ff,#00a5ff,#006eff,#003bff,#0030ff)"></i>
<i style="background:linear-gradient(90deg,#00cfff,#00e3ff,#0efff1,#38ffc7,#5affa5,#76ff89,#8aff75,#97ff68,#99ff66,#8fff70,#78ff87,#57ffa8,#2bffd4,#00f8ff,#00c3ff,#008bff,#0056ff,#0044ff)"></i>
<i style="background:linear-gradient(90deg,#00cdff,#00e3ff,#0ffff0,#39ffc6,#5fffa0,#7fff80,#97ff68,#a5ff5a,#a9ff56,#a1ff5e,#8eff71,#6fff90,#46ffb9,#16ffe9,#00e0ff,#00a7ff,#0070ff,#0057ff)"></i>
<i style="background:linear-gradient(90deg,#00caff,#00e3ff,#0efff1,#39ffc6,#63ff9c,#87ff78,#a2ff5d,#b2ff4d,#b8ff47,#b3ff4c,#a2ff5d,#86ff79,#5fffa0,#31ffce,#00fbff,#00c1ff,#0089ff,#006bff)"></i>
<i style="background:linear-gradient(90deg,#00c8ff,#00e2ff,#0dfff2,#39ffc6,#65ff9a,#8dff72,#acff53,#beff41,#c6ff39,#c3ff3c,#b5ff4a,#9bff64,#77ff88,#49ffb6,#15ffea,#00daff,#00a1ff,#0080ff)"></i>
<i style="background:linear-gradient(90deg,#00c6ff,#00e1ff,#0dfff2,#39ffc6,#67ff98,#92ff6d,#b4ff4b,#c8ff37,#d2ff2d,#d1ff2e,#c5ff3a,#afff50,#8cff73,#60ff9f,#2dffd2,#00f1ff,#00b7ff,#0094ff)"></i>
<i style="background:linear-gradient(90deg,#00c7ff,#00e1ff,#0dfff2,#39ffc6,#69ff96,#97ff68,#baff45,#d1ff2e,#dcff23,#ddff22,#d4ff2b,#c0ff3f,#9eff61,#73ff8c,#41ffbe,#06fff9,#00ccff,#00a7ff)"></i>
<i style="background:linear-gradient(90deg,#00c8ff,#00e2ff,#0dfff2,#3affc5,#6bff94,#99ff66,#bfff40,#d7ff28,#e5ff1a,#e8ff17,#e1ff1e,#cfff30,#afff50,#85ff7a,#53ffac,#19ffe6,#00deff,#00baff)"></i>
<i style="background:linear-gradient(90deg,#00cbff,#00e3ff,#0dfff2,#3bffc4,#6bff94,#9aff65,#c2ff3d,#dcff23,#ecff13,#f2ff0d,#edff12,#dcff23,#bdff42,#94ff6b,#62ff9d,#2affd5,#00f0ff,#00ccff)"></i>
<i style="background:linear-gradient(90deg,#00ceff,#00e3ff,#0dfff2,#3bffc4,#6bff94,#9aff65,#c3ff3c,#dfff20,#f1ff0e,#fbff04,#f9ff06,#e8ff17,#cbff34,#a2ff5d,#71ff8e,#39ffc6,#01fffe,#00deff)"></i>
<i style="background:linear-gradient(90deg,#00d0ff,#00e3ff,#0cfff3,#39ffc6,#68ff97,#98ff67,#c3ff3c,#e2ff1d,#f6ff09,#fffc00,#fffb00,#f4ff0b,#d7ff28,#afff50,#7eff81,#48ffb7,#10ffef,#00f0ff)"></i>
<i style="background:linear-gradient(90deg,#00d3ff,#00e2ff,#09fff6,#35ffca,#64ff9b,#94ff6b,#c1ff3e,#e2ff1d,#faff05,#fff400,#fff000,#ffff00,#e3ff1c,#bcff43,#8cff73,#56ffa9,#1fffe0,#03fffc)"></i>
<i style="background:linear-gradient(90deg,#00d5ff,#00dfff,#04fffb,#2fffd0,#5cffa3,#8dff72,#bdff42,#e2ff1d,#feff01,#ffeb00,#ffe500,#fff300,#efff10,#c8ff37,#99ff66,#64ff9b,#2effd1,#14ffeb)"></i>
<i style="background:linear-gradient(90deg,#00d5ff,#00daff,#00fcff,#27ffd8,#52ffad,#83ff7c,#b5ff4a,#e0ff1f,#fffb00,#ffe100,#ffd900,#ffe700,#fbff04,#d5ff2a,#a6ff59,#73ff8c,#3dffc2,#26ffd9)"></i>
<i style="background:linear-gradient(90deg,#00d5ff,#00d3ff,#00f3ff,#1bffe4,#46ffb9,#77ff88,#abff54,#dcff23,#fff700,#ffd600,#ffcc00,#ffdb00,#fff700,#e2ff1d,#b4ff4b,#82ff7d,#4effb1,#39ffc6)"></i>
<i style="background:linear-gradient(90deg,#00d3ff,#00d1ff,#00e9ff,#0dfff2,#37ffc8,#68ff97,#9fff60,#d7ff28,#fff200,#ffcb00,#ffc000,#ffd000,#ffeb00,#eeff11,#c2ff3d,#90ff6f,#62ff9d,#4bffb4)"></i>
<i style="background:linear-gradient(90deg,#00d2ff,#00ceff,#00deff,#00feff,#28ffd7,#58ffa7,#91ff6e,#d1ff2e,#fff000,#ffc100,#ffb600,#ffc500,#ffe000,#faff05,#cfff30,#9fff60,#76ff89,#5dffa2)"></i>
<i style="background:linear-gradient(90deg,#00cfff,#00ccff,#00d2ff,#00f0ff,#19ffe6,#49ffb6,#83ff7c,#c9ff36,#fff000,#ffba00,#ffae00,#ffbd00,#ffd600,#fff800,#ddff22,#aeff51,#89ff76,#6fff90)"></i>
<i style="background:linear-gradient(90deg,#00cdff,#00c9ff,#00c8ff,#00e3ff,#0bfff4,#3affc5,#75ff8a,#c1ff3e,#fff200,#ffba00,#ffaa00,#ffb600,#ffcd00,#ffed00,#e9ff16,#bbff44,#9bff64,#80ff7f)"></i>
<i style="background:linear-gradient(90deg,#00cbff,#00c7ff,#00c3ff,#00d7ff,#00feff,#2effd1,#69ff96,#b8ff47,#fff800,#ffbe00,#ffa900,#ffb100,#ffc500,#ffe300,#f5ff0a,#cbff34,#abff54,#90ff6f)"></i>
<i style="background:linear-gradient(90deg,#00c8ff,#00c5ff,#00c2ff,#00cfff,#00f5ff,#25ffda,#61ff9e,#b0ff4f,#feff01,#ffc500,#ffaa00,#ffac00,#ffbd00,#ffda00,#ffff00,#daff25,#bbff44,#a0ff5f)"></i>
<i style="background:linear-gradient(90deg,#00c6ff,#00c3ff,#00c3ff,#00caff,#00efff,#20ffdf,#5cffa3,#a8ff57,#f4ff0b,#ffce00,#ffae00,#ffa700,#ffb700,#ffd200,#fff600,#e8ff17,#caff35,#aeff51)"></i>
<i style="background:linear-gradient(90deg,#00c5ff,#00c2ff,#00c4ff,#00ceff,#00edff,#1dffe2,#59ffa6,#a1ff5e,#eaff15,#ffd900,#ffb400,#ffa600,#ffb300,#ffcd00,#ffec00,#f4ff0b,#d7ff28,#bcff43)"></i>
<i style="background:linear-gradient(90deg,#00c3ff,#00c2ff,#00c6ff,#00d3ff,#00ecff,#1dffe2,#57ffa8,#9bff64,#dfff20,#ffe500,#ffbc00,#ffa900,#ffb200,#ffc900,#ffe300,#ffff00,#e3ff1c,#c9ff36)"></i>
<i style="background:linear-gradient(90deg,#00c3ff,#00c3ff,#00caff,#00d9ff,#00f2ff,#1dffe2,#56ffa9,#95ff6a,#d4ff2b,#fff100,#ffc600,#ffb000,#ffb300,#ffc400,#ffdb00,#fff500,#efff10,#d5ff2a)"></i>
<i style="background:linear-gradient(90deg,#00c2ff,#00c5ff,#00ceff,#00dfff,#00faff,#21ffde,#56ffa9,#90ff6f,#caff35,#fffd00,#ffd000,#ffb700,#ffb500,#ffc000,#ffd400,#ffec00,#f9ff06,#e0ff1f)"></i>
<i style="background:linear-gradient(90deg,#00c3ff,#00c7ff,#00d2ff,#00e5ff,#02fffd,#29ffd6,#58ffa7,#8cff73,#c1ff3e,#f6ff09,#ffda00,#ffbd00,#ffb400,#ffbc00,#ffce00,#ffe400,#fffc00,#eaff15)"></i>
<i style="background:linear-gradient(90deg,#00c4ff,#00caff,#00d7ff,#00ebff,#09fff6,#30ffcf,#5effa1,#8dff72,#bdff42,#efff10,#ffdf00,#ffc000,#ffb400,#ffba00,#ffc900,#ffdd00,#fff400,#f4ff0b)"></i>
</div></div>
<div class="hd" style="left:430.8px;top:2633.8px;width:542.0px;height:542.0px">
<div class="fl">
<i style="background:linear-gradient(90deg,#00a7ff,#009eff,#0090ff,#007fff,#0067ff,#0047ff,#001fff,#0000ed,#0000c1,#0000a7,#0000a2,#0000a6,#0000a6,#0000a7,#0000ae,#0000ba,#0000c8,#0000d6)"></i>
<i style="background:linear-gradient(90deg,#00abff,#00a2ff,#0095ff,#0084ff,#006dff,#004dff,#0024ff,#0000f3,#0000c5,#0000a9,#0000a2,#0000a6,#0000a6,#0000a8,#0000b1,#0000be,#0000cd,#0000dc)"></i>
<i style="background:linear-gradient(90deg,#00aeff,#00a5ff,#009aff,#0089ff,#0073ff,#0054ff,#002eff,#0000fc,#0000cc,#0000ae,#0000a5,#0000a7,#0000a6,#0000aa,#0000b4,#0000c3,#0000d3,#0000e3)"></i>
<i style="background:linear-gradient(90deg,#00b1ff,#00a9ff,#009eff,#008fff,#0079ff,#005fff,#003aff,#0008ff,#0000d5,#0000b4,#0000a8,#0000a7,#0000a8,#0000ac,#0000b8,#0000c9,#0000da,#0000ea)"></i>
<i style="background:linear-gradient(90deg,#00b4ff,#00adff,#00a3ff,#0094ff,#0080ff,#006cff,#0048ff,#0015ff,#0000df,#0000bb,#0000ac,#0000a9,#0000ac,#0000b0,#0000bd,#0000cf,#0000e1,#0000f2)"></i>
<i style="background:linear-gradient(90deg,#00b7ff,#00b1ff,#00a7ff,#009aff,#008eff,#007bff,#0057ff,#0023ff,#0000eb,#0000c4,#0000b3,#0000ad,#0000b1,#0000b9,#0000c3,#0000d6,#0000e8,#0000fb)"></i>
<i style="background:linear-gradient(90deg,#00baff,#00b4ff,#00acff,#00a0ff,#009bff,#008aff,#0068ff,#0032ff,#0000f9,#0000d1,#0000bd,#0000b5,#0000ba,#0000c5,#0000cb,#0000de,#0000f1,#0005ff)"></i>
<i style="background:linear-gradient(90deg,#00bcff,#00b7ff,#00b0ff,#00abff,#00a8ff,#0099ff,#0079ff,#0044ff,#000bff,#0000e1,#0000cc,#0000c1,#0000c7,#0000d3,#0000db,#0000e7,#0000fb,#0010ff)"></i>
<i style="background:linear-gradient(90deg,#00beff,#00baff,#00b4ff,#00b6ff,#00b4ff,#00a8ff,#008bff,#0058ff,#0020ff,#0000f7,#0000e1,#0000d4,#0000da,#0000e5,#0000ec,#0000f1,#0007ff,#001cff)"></i>
<i style="background:linear-gradient(90deg,#00c0ff,#00bdff,#00b9ff,#00c0ff,#00c1ff,#00b7ff,#009cff,#006eff,#003bff,#0014ff,#0000fc,#0000ef,#0000f2,#0000fa,#0001ff,#0000ff,#0014ff,#0029ff)"></i>
<i style="background:linear-gradient(90deg,#00c2ff,#00bfff,#00c1ff,#00caff,#00cdff,#00c5ff,#00aeff,#0086ff,#0059ff,#0034ff,#001eff,#0010ff,#0010ff,#0015ff,#0017ff,#0015ff,#0022ff,#0038ff)"></i>
<i style="background:linear-gradient(90deg,#00c3ff,#00c1ff,#00c8ff,#00d4ff,#00d9ff,#00d4ff,#00c1ff,#00a0ff,#0079ff,#0059ff,#0042ff,#0035ff,#0031ff,#0031ff,#0030ff,#002cff,#0032ff,#0049ff)"></i>
<i style="background:linear-gradient(90deg,#00c4ff,#00c2ff,#00cfff,#00ddff,#00e4ff,#00e2ff,#00d5ff,#00bbff,#009cff,#0080ff,#006bff,#005dff,#0056ff,#0051ff,#004cff,#0046ff,#0044ff,#005bff)"></i>
<i style="background:linear-gradient(90deg,#00c4ff,#00c3ff,#00d5ff,#00e5ff,#00efff,#00f1ff,#00eaff,#00d8ff,#00c0ff,#00a8ff,#0095ff,#0087ff,#007eff,#0075ff,#006bff,#0063ff,#0059ff,#0070ff)"></i>
<i style="background:linear-gradient(90deg,#00c4ff,#00c7ff,#00d9ff,#00ecff,#00f9ff,#01fffe,#00ffff,#00f5ff,#00e4ff,#00d2ff,#00c1ff,#00b4ff,#00a8ff,#009cff,#008eff,#0084ff,#0076ff,#0087ff)"></i>
<i style="background:linear-gradient(90deg,#00c5ff,#00caff,#00ddff,#00f2ff,#04fffb,#10ffef,#16ffe9,#13ffec,#0afff5,#00fcff,#00eeff,#00e1ff,#00d5ff,#00c6ff,#00b5ff,#00a7ff,#0096ff,#00a1ff)"></i>
<i style="background:linear-gradient(90deg,#00c4ff,#00ccff,#00e0ff,#00f6ff,#0cfff3,#1fffe0,#2cffd3,#31ffce,#2effd1,#27ffd8,#1cffe3,#11ffee,#03fffc,#00f1ff,#00dfff,#00ceff,#00b9ff,#00bdff)"></i>
<i style="background:linear-gradient(90deg,#00c4ff,#00ceff,#00e2ff,#00f9ff,#14ffeb,#2dffd2,#41ffbe,#4effb1,#52ffad,#50ffaf,#48ffb7,#3effc1,#30ffcf,#1fffe0,#0bfff4,#00f5ff,#00deff,#00dbff)"></i>
<i style="background:linear-gradient(90deg,#00c5ff,#00cfff,#00e3ff,#00fcff,#1affe5,#3affc5,#56ffa9,#6aff95,#74ff8b,#77ff88,#73ff8c,#6aff95,#5cffa3,#4bffb4,#36ffc9,#1dffe2,#03fffc,#00f9ff)"></i>
<i style="background:linear-gradient(90deg,#00c5ff,#00d1ff,#00e5ff,#00feff,#21ffde,#47ffb8,#6aff95,#84ff7b,#95ff6a,#9cff63,#9aff65,#93ff6c,#85ff7a,#74ff8b,#5fffa0,#42ffbd,#25ffda,#16ffe9)"></i>
<i style="background:linear-gradient(90deg,#00c6ff,#00d3ff,#00e7ff,#02fffd,#27ffd8,#53ffac,#7cff83,#9dff62,#b4ff4b,#beff41,#beff41,#b9ff46,#aaff55,#98ff67,#83ff7c,#63ff9c,#45ffba,#31ffce)"></i>
<i style="background:linear-gradient(90deg,#00c8ff,#00d5ff,#00eaff,#05fffa,#2effd1,#5effa1,#8dff72,#b3ff4c,#cfff30,#ddff22,#deff21,#d9ff26,#c9ff36,#b7ff48,#a2ff5d,#7fff80,#5fffa0,#49ffb6)"></i>
<i style="background:linear-gradient(90deg,#00caff,#00d8ff,#00eeff,#0bfff4,#36ffc9,#68ff97,#9bff64,#c6ff39,#e8ff17,#f7ff08,#f9ff06,#f3ff0c,#e1ff1e,#cdff32,#b7ff48,#94ff6b,#73ff8c,#5cffa3)"></i>
<i style="background:linear-gradient(90deg,#00cdff,#00dbff,#00f4ff,#13ffec,#3effc1,#71ff8e,#a5ff5a,#d6ff29,#fdff02,#fff100,#fff000,#fff800,#f3ff0c,#dcff23,#c3ff3c,#a1ff5e,#81ff7e,#6aff95)"></i>
<i style="background:linear-gradient(90deg,#00d0ff,#00dfff,#00fbff,#1dffe2,#47ffb8,#78ff87,#adff52,#e3ff1c,#fff000,#ffdf00,#ffdf00,#ffea00,#feff01,#e5ff1a,#c9ff36,#a9ff56,#89ff76,#74ff8b)"></i>
<i style="background:linear-gradient(90deg,#00d5ff,#00e4ff,#03fffc,#27ffd8,#50ffaf,#7eff81,#b3ff4c,#ecff13,#ffe200,#ffd100,#ffd200,#ffe100,#fff900,#e8ff17,#caff35,#acff53,#8eff71,#7bff84)"></i>
<i style="background:linear-gradient(90deg,#00daff,#00e9ff,#0bfff4,#31ffce,#58ffa7,#83ff7c,#b7ff48,#f2ff0d,#ffda00,#ffc700,#ffc700,#ffda00,#fff700,#e7ff18,#c7ff38,#abff54,#8fff70,#7fff80)"></i>
<i style="background:linear-gradient(90deg,#00dfff,#00eeff,#13ffec,#3bffc4,#60ff9f,#87ff78,#b9ff46,#f7ff08,#ffd700,#ffbe00,#ffbd00,#ffd600,#fff600,#e4ff1b,#c3ff3c,#a9ff56,#8eff71,#83ff7c)"></i>
<i style="background:linear-gradient(90deg,#00e6ff,#00f4ff,#1affe5,#43ffbc,#67ff98,#8bff74,#bbff44,#fbff04,#ffd200,#ffb300,#ffb300,#ffd300,#fff800,#e0ff1f,#bdff42,#a5ff5a,#8dff72,#85ff7a)"></i>
<i style="background:linear-gradient(90deg,#00eeff,#00faff,#21ffde,#4affb5,#6cff93,#90ff6f,#bfff40,#ffff00,#ffc800,#ffa200,#ffaa00,#ffd100,#fffa00,#dcff23,#b9ff46,#a2ff5d,#8bff74,#86ff79)"></i>
<i style="background:linear-gradient(90deg,#00f6ff,#02fffd,#27ffd8,#4fffb0,#71ff8e,#94ff6b,#c4ff3b,#fffa00,#ffbb00,#ff8f00,#ffa400,#ffd000,#fffc00,#d9ff26,#b7ff48,#a0ff5f,#8aff75,#88ff77)"></i>
<i style="background:linear-gradient(90deg,#00ffff,#0cfff3,#2dffd2,#53ffac,#75ff8a,#99ff66,#c8ff37,#fff800,#ffb400,#ff8800,#ffa200,#ffd100,#feff01,#d6ff29,#b5ff4a,#9eff61,#8dff72,#8aff75)"></i>
<i style="background:linear-gradient(90deg,#0afff5,#16ffe9,#32ffcd,#56ffa9,#78ff87,#9cff63,#caff35,#fff800,#ffb800,#ff9000,#ffa600,#ffd600,#faff05,#d3ff2c,#b4ff4b,#9dff62,#8fff70,#8cff73)"></i>
<i style="background:linear-gradient(90deg,#13ffec,#20ffdf,#37ffc8,#5affa5,#7bff84,#9eff61,#cbff34,#fffc00,#ffc300,#ff9f00,#ffb000,#ffde00,#f4ff0b,#d0ff2f,#b3ff4c,#9cff63,#92ff6d,#8eff71)"></i>
<i style="background:linear-gradient(90deg,#1bffe4,#29ffd6,#3bffc4,#5dffa2,#7eff81,#a0ff5f,#c9ff36,#fcff03,#ffd200,#ffb000,#ffbc00,#ffe800,#edff12,#ccff33,#b1ff4e,#9bff64,#94ff6b,#90ff6f)"></i>
<i style="background:linear-gradient(90deg,#24ffdb,#32ffcd,#42ffbd,#60ff9f,#80ff7f,#a1ff5e,#c7ff38,#f4ff0b,#ffe200,#ffc400,#ffcb00,#fff400,#e6ff19,#c8ff37,#b0ff4f,#9dff62,#97ff68,#93ff6c)"></i>
<i style="background:linear-gradient(90deg,#2cffd3,#3affc5,#4affb5,#63ff9c,#82ff7d,#a1ff5e,#c5ff3a,#ecff13,#fff100,#ffd700,#ffdb00,#ffff00,#dfff20,#c5ff3a,#aeff51,#a0ff5f,#9aff65,#95ff6a)"></i>
<i style="background:linear-gradient(90deg,#33ffcc,#42ffbd,#52ffad,#65ff9a,#83ff7c,#a2ff5d,#c2ff3d,#e4ff1b,#fffd00,#ffe800,#ffeb00,#f6ff09,#d9ff26,#c1ff3e,#acff53,#a3ff5c,#9dff62,#98ff67)"></i>
<i style="background:linear-gradient(90deg,#3affc5,#49ffb6,#59ffa6,#6bff94,#85ff7a,#a2ff5d,#c0ff3f,#deff21,#f7ff08,#fff600,#fff900,#edff12,#d4ff2b,#beff41,#aeff51,#a6ff59,#a0ff5f,#9aff65)"></i>
<i style="background:linear-gradient(90deg,#41ffbe,#50ffaf,#60ff9f,#71ff8e,#86ff79,#a2ff5d,#bdff42,#d8ff27,#edff12,#fbff04,#f8ff07,#e5ff1a,#cfff30,#baff45,#b1ff4e,#a9ff56,#a2ff5d,#9dff62)"></i>
<i style="background:linear-gradient(90deg,#48ffb7,#56ffa9,#66ff99,#77ff88,#8aff75,#a1ff5e,#bbff44,#d2ff2d,#e5ff1a,#efff10,#edff12,#ddff22,#caff35,#bcff43,#b3ff4c,#acff53,#a5ff5a,#9fff60)"></i>
<i style="background:linear-gradient(90deg,#4effb1,#5cffa3,#6bff94,#7cff83,#8fff70,#a2ff5d,#b9ff46,#cdff32,#ddff22,#e6ff19,#e3ff1c,#d6ff29,#c8ff37,#beff41,#b5ff4a,#aeff51,#a7ff58,#a2ff5d)"></i>
<i style="background:linear-gradient(90deg,#53ffac,#61ff9e,#70ff8f,#81ff7e,#93ff6c,#a6ff59,#b8ff47,#c9ff36,#d6ff29,#ddff22,#dbff24,#d2ff2d,#c9ff36,#c0ff3f,#b8ff47,#b0ff4f,#aaff55,#a4ff5b)"></i>
<i style="background:linear-gradient(90deg,#59ffa6,#66ff99,#75ff8a,#85ff7a,#97ff68,#a9ff56,#baff45,#c8ff37,#d2ff2d,#d8ff27,#d9ff26,#d3ff2c,#cbff34,#c2ff3d,#baff45,#b2ff4d,#acff53,#a6ff59)"></i>
</div></div>
<div class="hd" style="left:1086.1px;top:2635.4px;width:542.0px;height:542.0px">
<div class="fl">
<i style="background:linear-gradient(90deg,#000081,#000080,#000080,#00009b,#0000ca,#0003ff,#0036ff,#0058ff,#006dff,#007fff,#008dff,#008fff,#0082ff,#006dff,#0059ff,#0048ff,#003bff,#0033ff)"></i>
<i style="background:linear-gradient(90deg,#000086,#000080,#000080,#000092,#0000be,#0000f8,#0031ff,#005dff,#007cff,#008eff,#0094ff,#008eff,#007fff,#0068ff,#0054ff,#0043ff,#0038ff,#0031ff)"></i>
<i style="background:linear-gradient(90deg,#00008d,#000080,#000080,#000089,#0000b2,#0000ed,#003aff,#0074ff,#0097ff,#00a9ff,#00abff,#0099ff,#007bff,#0063ff,#004fff,#003fff,#0035ff,#0030ff)"></i>
<i style="background:linear-gradient(90deg,#000094,#000084,#000080,#000081,#0000a6,#0000f0,#004aff,#008cff,#00b3ff,#00c5ff,#00c2ff,#00aaff,#0081ff,#005eff,#0049ff,#003bff,#0032ff,#002fff)"></i>
<i style="background:linear-gradient(90deg,#00009d,#00008a,#000080,#000080,#00009e,#0000fe,#005cff,#00a4ff,#00d1ff,#00e2ff,#00daff,#00bbff,#008eff,#005bff,#0044ff,#0037ff,#0030ff,#002eff)"></i>
<i style="background:linear-gradient(90deg,#0000a7,#000093,#000081,#000080,#0000ab,#000eff,#0070ff,#00beff,#00f0ff,#02fffd,#00f3ff,#00cdff,#009bff,#0066ff,#003fff,#0034ff,#002fff,#002eff)"></i>
<i style="background:linear-gradient(90deg,#0000b2,#00009c,#000088,#000080,#0000bc,#0020ff,#0085ff,#00d9ff,#12ffed,#22ffdd,#0dfff2,#00deff,#00a9ff,#0072ff,#003cff,#0031ff,#002eff,#002fff)"></i>
<i style="background:linear-gradient(90deg,#0000be,#0000a8,#000091,#000097,#0000d5,#0035ff,#009bff,#00f5ff,#33ffcc,#44ffbb,#28ffd7,#00f1ff,#00b7ff,#007fff,#0048ff,#002fff,#002eff,#002fff)"></i>
<i style="background:linear-gradient(90deg,#0000ca,#0000b4,#00009c,#0000b6,#0000f2,#004dff,#00b2ff,#12ffed,#56ffa9,#67ff98,#43ffbc,#05fffa,#00c7ff,#008eff,#0056ff,#002eff,#002fff,#0030ff)"></i>
<i style="background:linear-gradient(90deg,#0000d8,#0000c2,#0000af,#0000d8,#0013ff,#0065ff,#00c8ff,#2effd1,#7aff85,#8aff75,#5dffa2,#18ffe7,#00d7ff,#009eff,#0068ff,#0034ff,#0030ff,#0032ff)"></i>
<i style="background:linear-gradient(90deg,#0000e6,#0000d1,#0000d0,#0000fc,#0033ff,#007dff,#00dcff,#47ffb8,#9cff63,#acff53,#76ff89,#2bffd4,#00e8ff,#00b0ff,#007bff,#0044ff,#0031ff,#0034ff)"></i>
<i style="background:linear-gradient(90deg,#0000f4,#0000e0,#0000f2,#0021ff,#0054ff,#0095ff,#00efff,#5dffa2,#b9ff46,#c9ff36,#8bff74,#3bffc4,#00f8ff,#00c3ff,#008fff,#0055ff,#0033ff,#0036ff)"></i>
<i style="background:linear-gradient(90deg,#0003ff,#0000f0,#0015ff,#0046ff,#0074ff,#00acff,#01fffe,#6fff90,#cfff30,#deff21,#9dff62,#49ffb6,#08fff7,#00d7ff,#00a5ff,#0068ff,#0036ff,#003aff)"></i>
<i style="background:linear-gradient(90deg,#0011ff,#0001ff,#0035ff,#006aff,#0094ff,#00c2ff,#0ffff0,#7fff80,#deff21,#ecff13,#aaff55,#55ffaa,#17ffe8,#00ebff,#00bbff,#007bff,#0039ff,#003fff)"></i>
<i style="background:linear-gradient(90deg,#001eff,#001bff,#0054ff,#008cff,#00b3ff,#00daff,#1effe1,#8cff73,#e8ff17,#f5ff0a,#b4ff4b,#5fffa0,#26ffd9,#00feff,#00d1ff,#008eff,#0049ff,#0045ff)"></i>
<i style="background:linear-gradient(90deg,#002bff,#0034ff,#006fff,#00a9ff,#00d0ff,#00f4ff,#33ffcc,#99ff66,#edff12,#f9ff06,#bcff43,#6cff93,#37ffc8,#12ffed,#00e4ff,#00a1ff,#005bff,#004fff)"></i>
<i style="background:linear-gradient(90deg,#0038ff,#004aff,#0087ff,#00c1ff,#00ebff,#12ffed,#4dffb2,#a7ff58,#efff10,#f9ff06,#c4ff3b,#7cff83,#49ffb6,#23ffdc,#00f5ff,#00b4ff,#006fff,#005cff)"></i>
<i style="background:linear-gradient(90deg,#0044ff,#005fff,#009cff,#00d7ff,#07fff8,#32ffcd,#6bff94,#b6ff49,#f0ff0f,#f8ff07,#ccff33,#8eff71,#5cffa3,#35ffca,#06fff9,#00c7ff,#0084ff,#006bff)"></i>
<i style="background:linear-gradient(90deg,#0050ff,#0071ff,#00b0ff,#00edff,#23ffdc,#53ffac,#89ff76,#c6ff39,#f3ff0c,#f8ff07,#d4ff2b,#9fff60,#70ff8f,#46ffb9,#16ffe9,#00d9ff,#0099ff,#007bff)"></i>
<i style="background:linear-gradient(90deg,#005dff,#0084ff,#00c4ff,#03fffc,#3fffc0,#75ff8a,#a7ff58,#d8ff27,#f8ff07,#faff05,#ddff22,#b0ff4f,#84ff7b,#59ffa6,#26ffd9,#00ebff,#00aeff,#008cff)"></i>
<i style="background:linear-gradient(90deg,#006bff,#0096ff,#00d8ff,#1affe5,#5effa1,#98ff67,#c7ff38,#ebff14,#ffff00,#feff01,#e8ff17,#c2ff3d,#99ff66,#6cff93,#37ffc8,#00fcff,#00c2ff,#009dff)"></i>
<i style="background:linear-gradient(90deg,#0079ff,#00a8ff,#00eeff,#33ffcc,#7fff80,#bdff42,#e7ff18,#fffe00,#fff600,#fff900,#f5ff0a,#d5ff2a,#aeff51,#7fff80,#48ffb7,#0efff1,#00d4ff,#00aeff)"></i>
<i style="background:linear-gradient(90deg,#008aff,#00bbff,#06fff9,#50ffaf,#a3ff5c,#e4ff1b,#fff600,#ffe800,#ffe900,#ffef00,#fffb00,#e9ff16,#c6ff39,#94ff6b,#59ffa6,#1fffe0,#00e5ff,#00beff)"></i>
<i style="background:linear-gradient(90deg,#009bff,#00ceff,#1effe1,#71ff8e,#cbff34,#fff100,#ffd500,#ffd100,#ffda00,#ffe200,#ffea00,#fffe00,#deff21,#a9ff56,#6bff94,#2effd1,#00f3ff,#00cdff)"></i>
<i style="background:linear-gradient(90deg,#00adff,#00e1ff,#35ffca,#92ff6d,#f3ff0c,#ffc800,#ffb400,#ffbb00,#ffcb00,#ffd500,#ffda00,#ffe600,#f7ff08,#bfff40,#7bff84,#3bffc4,#01fffe,#00daff)"></i>
<i style="background:linear-gradient(90deg,#00c0ff,#00f2ff,#4bffb4,#b1ff4e,#ffe300,#ff9f00,#ff9400,#ffa600,#ffbd00,#ffc900,#ffca00,#ffcf00,#ffed00,#d3ff2c,#89ff76,#47ffb8,#0cfff3,#00e7ff)"></i>
<i style="background:linear-gradient(90deg,#00d1ff,#01fffe,#5effa1,#caff35,#ffbe00,#ff7700,#ff7600,#ff9300,#ffb300,#ffc100,#ffbc00,#ffb900,#ffd400,#e6ff19,#95ff6a,#50ffaf,#14ffeb,#00f3ff)"></i>
<i style="background:linear-gradient(90deg,#00e2ff,#0dfff2,#6cff93,#ddff22,#ff9e00,#ff5200,#ff5c00,#ff8400,#ffad00,#ffbd00,#ffb200,#ffa500,#ffbc00,#f7ff08,#9eff61,#57ffa8,#1affe5,#00feff)"></i>
<i style="background:linear-gradient(90deg,#00f1ff,#14ffeb,#75ff8a,#e8ff17,#ff8900,#ff3300,#ff4400,#ff7700,#ffac00,#ffc000,#ffad00,#ff9400,#ffa600,#fff900,#a3ff5c,#5bffa4,#1effe1,#08fff7)"></i>
<i style="background:linear-gradient(90deg,#00feff,#15ffea,#78ff87,#edff12,#ff8200,#ff1f00,#ff2d00,#ff6f00,#ffb400,#ffca00,#ffae00,#ff8900,#ff9600,#fff000,#a7ff58,#5cffa3,#1effe1,#10ffef)"></i>
<i style="background:linear-gradient(90deg,#09fff6,#13ffec,#74ff8b,#eaff15,#ff8900,#ff1e00,#ff2000,#ff6d00,#ffc200,#ffdb00,#ffb500,#ff8600,#ff8e00,#ffee00,#a8ff57,#5affa5,#1bffe4,#16ffe9)"></i>
<i style="background:linear-gradient(90deg,#12ffed,#19ffe6,#6bff94,#ddff22,#ff9f00,#ff3700,#ff2900,#ff7600,#ffd400,#ffef00,#ffc400,#ff9300,#ff9900,#fff700,#a3ff5c,#54ffab,#1fffe0,#1affe5)"></i>
<i style="background:linear-gradient(90deg,#18ffe7,#1effe1,#5affa5,#c6ff39,#ffc200,#ff6600,#ff4b00,#ff8e00,#ffe600,#feff01,#ffd900,#ffb000,#ffb700,#f5ff0a,#97ff68,#49ffb6,#21ffde,#1effe1)"></i>
<i style="background:linear-gradient(90deg,#1cffe3,#20ffdf,#42ffbd,#a6ff59,#fff100,#ffa400,#ff8a00,#ffb600,#fff700,#f1ff0e,#fff500,#ffd700,#ffe000,#d9ff26,#84ff7b,#3bffc4,#23ffdc,#20ffdf)"></i>
<i style="background:linear-gradient(90deg,#1fffe0,#20ffdf,#25ffda,#7fff80,#d5ff2a,#ffed00,#ffd900,#ffec00,#f0ff0f,#e0ff1f,#e7ff18,#f8ff07,#eeff11,#b6ff49,#6bff94,#28ffd7,#23ffdc,#22ffdd)"></i>
<i style="background:linear-gradient(90deg,#21ffde,#1fffe0,#16ffe9,#51ffae,#99ff66,#c5ff3a,#d1ff2e,#d3ff2c,#ccff33,#c2ff3d,#bdff42,#c4ff3b,#bcff43,#8eff71,#4effb1,#1fffe0,#23ffdc,#23ffdc)"></i>
<i style="background:linear-gradient(90deg,#20ffdf,#1cffe3,#0ffff0,#21ffde,#5bffa4,#7aff85,#83ff7c,#8fff70,#95ff6a,#92ff6d,#8dff72,#90ff6f,#89ff76,#65ff9a,#2effd1,#1bffe4,#21ffde,#23ffdc)"></i>
<i style="background:linear-gradient(90deg,#1effe1,#17ffe8,#06fff9,#00eeff,#1dffe2,#34ffcb,#3cffc3,#49ffb6,#50ffaf,#53ffac,#57ffa8,#5cffa3,#56ffa9,#3affc5,#0dfff2,#17ffe8,#1fffe0,#22ffdd)"></i>
<i style="background:linear-gradient(90deg,#1bffe4,#10ffef,#00fbff,#00dbff,#00dfff,#00f0ff,#00f8ff,#04fffb,#07fff8,#0ffff0,#1fffe0,#27ffd8,#25ffda,#0ffff0,#02fffd,#12ffed,#1cffe3,#21ffde)"></i>
<i style="background:linear-gradient(90deg,#17ffe8,#09fff6,#00f1ff,#00ceff,#00a5ff,#00b1ff,#00b8ff,#00c2ff,#00c3ff,#00cfff,#00e7ff,#00f3ff,#00f3ff,#00e3ff,#00faff,#0dfff2,#18ffe7,#1fffe0)"></i>
<i style="background:linear-gradient(90deg,#12ffed,#01fffe,#00e6ff,#00c1ff,#0090ff,#0075ff,#007bff,#0086ff,#008bff,#009aff,#00b3ff,#00c1ff,#00c4ff,#00d5ff,#00f3ff,#07fff8,#14ffeb,#1cffe3)"></i>
<i style="background:linear-gradient(90deg,#0bfff4,#00f7ff,#00dbff,#00b4ff,#0083ff,#004eff,#0043ff,#0050ff,#005dff,#006eff,#0083ff,#0090ff,#00a4ff,#00ccff,#00ebff,#02fffd,#10ffef,#19ffe6)"></i>
<i style="background:linear-gradient(90deg,#04fffb,#00eeff,#00d0ff,#00a8ff,#0077ff,#0046ff,#001fff,#001fff,#0032ff,#0045ff,#0056ff,#0070ff,#009cff,#00c4ff,#00e4ff,#00fbff,#0bfff4,#16ffe9)"></i>
<i style="background:linear-gradient(90deg,#00fcff,#00e5ff,#00c5ff,#009cff,#006dff,#003eff,#001cff,#0010ff,#0018ff,#002cff,#0047ff,#006cff,#0095ff,#00bcff,#00ddff,#00f5ff,#07fff8,#12ffed)"></i>
</div></div>
<div class="hd" style="left:1741.8px;top:2619.8px;width:572.0px;height:572.0px">
<div class="fl">
<i style="background:linear-gradient(90deg,#000dff,#000fff,#0012ff,#001cff,#0033ff,#005fff,#00a2ff,#00f7ff,#4cffb3,#8cff73,#b3ff4c,#d0ff2f,#f0ff0f,#ffe700,#ffbc00,#ff9000,#ff6800,#ff4500)"></i>
<i style="background:linear-gradient(90deg,#000cff,#000eff,#0011ff,#0018ff,#002cff,#0056ff,#0098ff,#00f2ff,#4effb1,#91ff6e,#b6ff49,#d3ff2c,#f6ff09,#ffde00,#ffb000,#ff8300,#ff5a00,#ff3900)"></i>
<i style="background:linear-gradient(90deg,#000bff,#000eff,#0010ff,#0015ff,#0026ff,#004cff,#008fff,#00efff,#53ffac,#98ff67,#bcff43,#d7ff28,#fdff02,#ffd300,#ffa300,#ff7500,#ff4d00,#ff2c00)"></i>
<i style="background:linear-gradient(90deg,#0009ff,#000cff,#000fff,#0013ff,#0020ff,#0042ff,#0086ff,#00ecff,#58ffa7,#a0ff5f,#c1ff3e,#d9ff26,#fffc00,#ffc800,#ff9500,#ff6600,#ff3f00,#ff2000)"></i>
<i style="background:linear-gradient(90deg,#0008ff,#000bff,#000eff,#0011ff,#001bff,#0036ff,#007aff,#00e9ff,#5dffa2,#a8ff57,#c6ff39,#daff25,#fffb00,#ffbc00,#ff8500,#ff5600,#ff3100,#ff1400)"></i>
<i style="background:linear-gradient(90deg,#0007ff,#0009ff,#000dff,#0010ff,#0014ff,#0029ff,#006cff,#00e4ff,#63ff9c,#b1ff4e,#caff35,#d9ff26,#fffa00,#ffb500,#ff7500,#ff4600,#ff2200,#ff0700)"></i>
<i style="background:linear-gradient(90deg,#0007ff,#0008ff,#000cff,#000fff,#000dff,#001bff,#005dff,#00deff,#69ff96,#baff45,#cdff32,#d7ff28,#fff900,#ffae00,#ff6400,#ff3600,#ff1400,#fa0000)"></i>
<i style="background:linear-gradient(90deg,#0007ff,#0007ff,#000aff,#000eff,#0007ff,#000eff,#004dff,#00d8ff,#6cff93,#c1ff3e,#cfff30,#d5ff2a,#fff700,#ffa600,#ff5700,#ff2600,#ff0600,#ee0000)"></i>
<i style="background:linear-gradient(90deg,#0008ff,#0007ff,#0008ff,#000cff,#0000ff,#0004ff,#0042ff,#00d1ff,#6bff94,#c2ff3d,#d0ff2f,#d5ff2a,#fff400,#ff9d00,#ff4a00,#ff1500,#f80000,#e30000)"></i>
<i style="background:linear-gradient(90deg,#000bff,#0007ff,#0007ff,#0007ff,#0000f9,#0000fc,#003dff,#00c9ff,#62ff9d,#bcff43,#d0ff2f,#d9ff26,#ffef00,#ff9400,#ff3d00,#ff0600,#ea0000,#d80000)"></i>
<i style="background:linear-gradient(90deg,#000fff,#0009ff,#0008ff,#0003ff,#0000f5,#0000f8,#0039ff,#00c1ff,#57ffa8,#b3ff4c,#ceff31,#ddff22,#ffe900,#ff8900,#ff2f00,#f80000,#de0000,#cf0000)"></i>
<i style="background:linear-gradient(90deg,#0014ff,#000dff,#000aff,#0002ff,#0000f3,#0000f5,#0035ff,#00b7ff,#4affb5,#a9ff56,#cbff34,#e1ff1e,#ffe200,#ff7c00,#ff1f00,#e90000,#d20000,#c60000)"></i>
<i style="background:linear-gradient(90deg,#001cff,#0012ff,#000eff,#0004ff,#0000f4,#0000f5,#0030ff,#00acff,#3cffc3,#9dff62,#c7ff38,#e4ff1b,#ffdc00,#ff6d00,#ff0d00,#da0000,#c80000,#be0000)"></i>
<i style="background:linear-gradient(90deg,#0026ff,#001bff,#0017ff,#000aff,#0000f9,#0000f8,#002aff,#009fff,#2bffd4,#8eff71,#bfff40,#e8ff17,#ffd300,#ff5c00,#f80000,#cb0000,#bf0000,#b70000)"></i>
<i style="background:linear-gradient(90deg,#0034ff,#0028ff,#0023ff,#0014ff,#0003ff,#0000fd,#0026ff,#008fff,#15ffea,#78ff87,#b3ff4c,#efff10,#ffc400,#ff4a00,#e50000,#bd0000,#b60000,#b10000)"></i>
<i style="background:linear-gradient(90deg,#0046ff,#003aff,#0033ff,#0023ff,#0011ff,#0009ff,#0025ff,#007dff,#00f4ff,#59ffa6,#a2ff5d,#f3ff0c,#ffb300,#ff3a00,#d50000,#af0000,#ac0000,#aa0000)"></i>
<i style="background:linear-gradient(90deg,#005bff,#0050ff,#0047ff,#0036ff,#0022ff,#0017ff,#0029ff,#006aff,#00cbff,#2effd1,#8aff75,#f0ff0f,#ffa500,#ff2b00,#ca0000,#a40000,#a30000,#a20000)"></i>
<i style="background:linear-gradient(90deg,#0073ff,#0069ff,#005eff,#004cff,#0038ff,#002aff,#0031ff,#0057ff,#009dff,#00fbff,#6dff92,#e8ff17,#ff9c00,#ff2100,#c10000,#9b0000,#9a0000,#9c0000)"></i>
<i style="background:linear-gradient(90deg,#008dff,#0085ff,#0078ff,#0065ff,#0050ff,#0041ff,#003bff,#0045ff,#006eff,#00c8ff,#4effb1,#deff21,#ff9800,#ff1900,#ba0000,#940000,#930000,#980000)"></i>
<i style="background:linear-gradient(90deg,#00a7ff,#00a1ff,#0093ff,#007fff,#006aff,#0059ff,#0048ff,#0037ff,#0042ff,#0097ff,#30ffcf,#d3ff2c,#ff9900,#ff1500,#b40000,#8f0000,#8f0000,#960000)"></i>
<i style="background:linear-gradient(90deg,#00c1ff,#00bdff,#00aeff,#009aff,#0085ff,#0073ff,#0059ff,#002fff,#001dff,#006cff,#17ffe8,#c9ff36,#ff9d00,#ff1600,#b10000,#8e0000,#8e0000,#960000)"></i>
<i style="background:linear-gradient(90deg,#00daff,#00d7ff,#00c9ff,#00b5ff,#00a1ff,#008cff,#006cff,#002fff,#0007ff,#0051ff,#07fff8,#c0ff3f,#ffa600,#ff1c00,#b20000,#8f0000,#900000,#990000)"></i>
<i style="background:linear-gradient(90deg,#00eeff,#00eeff,#00e1ff,#00cfff,#00bbff,#00a5ff,#007fff,#003aff,#0008ff,#004cff,#00ffff,#b7ff48,#ffb400,#ff2800,#b90000,#950000,#960000,#9e0000)"></i>
<i style="background:linear-gradient(90deg,#00feff,#02fffd,#00f8ff,#00e9ff,#00d5ff,#00bbff,#0091ff,#004eff,#0021ff,#005fff,#04fffb,#aeff51,#ffc600,#ff3a00,#c80000,#9e0000,#9f0000,#a60000)"></i>
<i style="background:linear-gradient(90deg,#0cfff3,#12ffed,#0efff1,#02fffd,#00edff,#00d2ff,#00a7ff,#006cff,#0049ff,#0081ff,#13ffec,#aaff55,#ffda00,#ff4e00,#d80000,#ab0000,#ab0000,#b10000)"></i>
<i style="background:linear-gradient(90deg,#18ffe7,#1fffe0,#20ffdf,#18ffe7,#07fff8,#00eaff,#00c2ff,#0093ff,#007aff,#00acff,#2affd5,#aeff51,#ffec00,#ff6100,#e90000,#ba0000,#ba0000,#bd0000)"></i>
<i style="background:linear-gradient(90deg,#22ffdd,#2affd5,#31ffce,#2dffd2,#1fffe0,#04fffb,#00e1ff,#00c0ff,#00b0ff,#00daff,#45ffba,#b9ff46,#fff300,#ff7100,#f90000,#cc0000,#cc0000,#cc0000)"></i>
<i style="background:linear-gradient(90deg,#2affd5,#34ffcb,#3fffc0,#41ffbe,#36ffc9,#20ffdf,#06fff9,#00f3ff,#00e9ff,#0afff5,#61ff9e,#c7ff38,#fff500,#ff8100,#ff0900,#df0000,#e00000,#dc0000)"></i>
<i style="background:linear-gradient(90deg,#32ffcd,#3bffc4,#4affb5,#52ffad,#4dffb2,#3dffc2,#2effd1,#2bffd4,#25ffda,#39ffc6,#7aff85,#d0ff2f,#feff01,#ff9500,#ff1c00,#f40000,#f40000,#ed0000)"></i>
<i style="background:linear-gradient(90deg,#38ffc7,#41ffbe,#53ffac,#60ff9f,#62ff9d,#5dffa2,#5bffa4,#66ff99,#62ff9d,#67ff98,#8dff72,#c4ff3b,#e4ff1b,#ffb200,#ff3900,#ff0e00,#ff0900,#fd0000)"></i>
<i style="background:linear-gradient(90deg,#3effc1,#45ffba,#59ffa6,#6bff94,#74ff8b,#7cff83,#8aff75,#a1ff5e,#9eff61,#92ff6d,#99ff66,#a7ff58,#bdff42,#ffd500,#ff5e00,#ff2900,#ff1b00,#ff0c00)"></i>
<i style="background:linear-gradient(90deg,#44ffbb,#4affb5,#5dffa2,#71ff8e,#83ff7c,#98ff67,#b5ff4a,#d7ff28,#d5ff2a,#b9ff46,#a3ff5c,#8aff75,#93ff6c,#fff800,#ff8200,#ff4400,#ff2b00,#ff1900)"></i>
<i style="background:linear-gradient(90deg,#49ffb6,#4effb1,#5effa1,#75ff8a,#8dff72,#aeff51,#d8ff27,#fffb00,#fffb00,#dbff24,#afff50,#7aff85,#76ff89,#eaff15,#ffa100,#ff5d00,#ff3c00,#ff2800)"></i>
<i style="background:linear-gradient(90deg,#4cffb3,#51ffae,#5bffa4,#74ff8b,#91ff6e,#baff45,#edff12,#ffe100,#ffde00,#f6ff09,#bfff40,#7cff83,#75ff8a,#dbff24,#ffb900,#ff7200,#ff4e00,#ff3600)"></i>
<i style="background:linear-gradient(90deg,#4fffb0,#53ffac,#57ffa8,#6fff90,#8eff71,#bcff43,#f4ff0b,#ffdd00,#ffd300,#fff300,#d5ff2a,#8fff70,#87ff78,#d8ff27,#ffc700,#ff8100,#ff5f00,#ff4600)"></i>
<i style="background:linear-gradient(90deg,#52ffad,#54ffab,#54ffab,#66ff99,#84ff7b,#b1ff4e,#e9ff16,#ffec00,#ffd600,#ffe400,#efff10,#aeff51,#a4ff5b,#e1ff1e,#ffcd00,#ff9000,#ff7000,#ff5500)"></i>
<i style="background:linear-gradient(90deg,#53ffac,#54ffab,#53ffac,#5affa5,#73ff8c,#98ff67,#c8ff37,#f2ff0d,#ffe500,#ffda00,#fff100,#d8ff27,#c9ff36,#f3ff0c,#ffcb00,#ff9e00,#ff8000,#ff6400)"></i>
<i style="background:linear-gradient(90deg,#54ffab,#54ffab,#51ffae,#4bffb4,#5dffa2,#75ff8a,#96ff69,#c7ff38,#fffb00,#ffd500,#ffd300,#fff600,#f4ff0b,#fff200,#ffc200,#ffab00,#ff8f00,#ff7300)"></i>
<i style="background:linear-gradient(90deg,#54ffab,#53ffac,#4fffb0,#45ffba,#44ffbb,#4cffb3,#5cffa3,#95ff6a,#e9ff16,#ffd300,#ffb600,#ffc500,#ffde00,#ffd700,#ffc300,#ffb400,#ff9c00,#ff8100)"></i>
<i style="background:linear-gradient(90deg,#54ffab,#52ffad,#4cffb3,#40ffbf,#2bffd4,#23ffdc,#20ffdf,#61ff9e,#cdff32,#ffd300,#ff9b00,#ff9700,#ffb400,#ffbb00,#ffc400,#ffbb00,#ffa700,#ff8e00)"></i>
<i style="background:linear-gradient(90deg,#53ffac,#50ffaf,#48ffb7,#3affc5,#21ffde,#01fffe,#00e5ff,#31ffce,#b4ff4b,#ffd500,#ff8500,#ff6e00,#ff9100,#ffb000,#ffc200,#ffc000,#ffb000,#ff9a00)"></i>
<i style="background:linear-gradient(90deg,#52ffad,#4effb1,#45ffba,#34ffcb,#19ffe6,#00edff,#00b7ff,#0dfff2,#9fff60,#ffd900,#ff7600,#ff4e00,#ff7c00,#ffa900,#ffc000,#ffc300,#ffb700,#ffa400)"></i>
<i style="background:linear-gradient(90deg,#51ffae,#4bffb4,#40ffbf,#2effd1,#11ffee,#00e4ff,#00a5ff,#00f9ff,#90ff6f,#ffdf00,#ff7100,#ff4000,#ff7300,#ffa000,#ffbc00,#ffc400,#ffbd00,#ffad00)"></i>
<i style="background:linear-gradient(90deg,#4fffb0,#48ffb7,#3cffc3,#28ffd7,#09fff6,#00dbff,#00a6ff,#00fdff,#8cff73,#ffe500,#ff7600,#ff3f00,#ff6b00,#ff9800,#ffb700,#ffc300,#ffc000,#ffb400)"></i>
</div></div>
<div class="hd" style="left:2406.6px;top:2621.7px;width:573.0px;height:573.0px">
<div class="fl">
<i style="background:linear-gradient(90deg,#00efff,#00f9ff,#08fff7,#19ffe6,#2affd5,#3affc5,#4affb5,#5bffa4,#6bff94,#76ff89,#7bff84,#7fff80,#81ff7e,#84ff7b,#88ff77,#8eff71,#95ff6a,#9eff61)"></i>
<i style="background:linear-gradient(90deg,#00ebff,#00f5ff,#04fffb,#14ffeb,#26ffd9,#37ffc8,#48ffb7,#5bffa4,#6dff92,#77ff88,#7cff83,#80ff7f,#82ff7d,#84ff7b,#89ff76,#90ff6f,#98ff67,#a1ff5e)"></i>
<i style="background:linear-gradient(90deg,#00e8ff,#00f1ff,#00feff,#0ffff0,#22ffdd,#34ffcb,#4bffb4,#60ff9f,#6fff90,#78ff87,#7dff82,#81ff7e,#82ff7d,#85ff7a,#8bff74,#92ff6d,#9cff63,#a5ff5a)"></i>
<i style="background:linear-gradient(90deg,#00e5ff,#00edff,#00f9ff,#0afff5,#1dffe2,#36ffc9,#51ffae,#64ff9b,#71ff8e,#79ff86,#7eff81,#82ff7d,#84ff7b,#86ff79,#8dff72,#96ff69,#a0ff5f,#aaff55)"></i>
<i style="background:linear-gradient(90deg,#00e1ff,#00e9ff,#00f4ff,#05fffa,#1affe5,#3cffc3,#58ffa7,#6aff95,#73ff8c,#7aff85,#7fff80,#84ff7b,#86ff79,#88ff77,#8fff70,#99ff66,#a4ff5b,#afff50)"></i>
<i style="background:linear-gradient(90deg,#00deff,#00e5ff,#00efff,#00feff,#1dffe2,#42ffbd,#60ff9f,#70ff8f,#77ff88,#7cff83,#82ff7d,#87ff78,#8aff75,#8dff72,#92ff6d,#9dff62,#a9ff56,#b4ff4b)"></i>
<i style="background:linear-gradient(90deg,#00dbff,#00e2ff,#00eaff,#00f9ff,#1fffe0,#49ffb6,#69ff96,#78ff87,#7cff83,#81ff7e,#87ff78,#8bff74,#8fff70,#93ff6c,#97ff68,#a2ff5d,#aeff51,#b9ff46)"></i>
<i style="background:linear-gradient(90deg,#00d7ff,#00deff,#00e6ff,#00f9ff,#22ffdd,#4fffb0,#72ff8d,#81ff7e,#84ff7b,#88ff77,#8fff70,#92ff6d,#97ff68,#9cff63,#9fff60,#a8ff57,#b4ff4b,#bfff40)"></i>
<i style="background:linear-gradient(90deg,#00d2ff,#00daff,#00e2ff,#00faff,#25ffda,#54ffab,#7aff85,#8bff74,#90ff6f,#95ff6a,#9aff65,#9cff63,#a0ff5f,#a6ff59,#aaff55,#aeff51,#baff45,#c4ff3b)"></i>
<i style="background:linear-gradient(90deg,#00cdff,#00d5ff,#00dfff,#00fdff,#28ffd7,#58ffa7,#80ff7f,#96ff69,#a0ff5f,#a7ff58,#aaff55,#a8ff57,#acff53,#b4ff4b,#b7ff48,#b6ff49,#c0ff3f,#caff35)"></i>
<i style="background:linear-gradient(90deg,#00c7ff,#00d0ff,#00dfff,#00ffff,#2affd5,#5bffa4,#86ff79,#a2ff5d,#b3ff4c,#beff41,#c0ff3f,#b8ff47,#bcff43,#c4ff3b,#c7ff38,#c3ff3c,#c7ff38,#cfff30)"></i>
<i style="background:linear-gradient(90deg,#00c0ff,#00caff,#00deff,#00ffff,#2bffd4,#5cffa3,#8bff74,#afff50,#c8ff37,#d9ff26,#dcff23,#ceff31,#d0ff2f,#d7ff28,#d8ff27,#d1ff2e,#cdff32,#d4ff2b)"></i>
<i style="background:linear-gradient(90deg,#00b7ff,#00c2ff,#00dbff,#00fdff,#2affd5,#5dffa2,#90ff6f,#bcff43,#deff21,#f7ff08,#ffff00,#ecff13,#e8ff17,#edff12,#ebff14,#dfff20,#d3ff2c,#d9ff26)"></i>
<i style="background:linear-gradient(90deg,#00adff,#00b9ff,#00d5ff,#00f9ff,#27ffd8,#5cffa3,#94ff6b,#c9ff36,#f5ff0a,#ffe700,#ffd600,#ffea00,#fffa00,#fff800,#fffe00,#eeff11,#d8ff27,#ddff22)"></i>
<i style="background:linear-gradient(90deg,#00a0ff,#00afff,#00ccff,#00f1ff,#21ffde,#58ffa7,#97ff68,#d6ff29,#fff200,#ffc700,#ffac00,#ffbf00,#ffdb00,#ffdd00,#ffe800,#fdff02,#e1ff1e,#e0ff1f)"></i>
<i style="background:linear-gradient(90deg,#008fff,#00a1ff,#00bfff,#00e6ff,#17ffe8,#53ffac,#98ff67,#e1ff1e,#ffdc00,#ffa900,#ff8600,#ff9300,#ffba00,#ffc300,#ffd300,#fff400,#e9ff16,#e3ff1c)"></i>
<i style="background:linear-gradient(90deg,#007aff,#008fff,#00aeff,#00d7ff,#0bfff4,#4affb5,#97ff68,#ebff14,#ffc700,#ff8e00,#ff6a00,#ff7500,#ff9b00,#ffa900,#ffc000,#ffe800,#f0ff0f,#e5ff1a)"></i>
<i style="background:linear-gradient(90deg,#0064ff,#0079ff,#009bff,#00c5ff,#00faff,#3fffc0,#93ff6c,#f3ff0c,#ffb400,#ff7700,#ff5800,#ff6200,#ff8200,#ff9300,#ffaf00,#ffe000,#f4ff0b,#e7ff18)"></i>
<i style="background:linear-gradient(90deg,#004dff,#0062ff,#0085ff,#00b1ff,#00e8ff,#30ffcf,#8cff73,#f7ff08,#ffa500,#ff6600,#ff4d00,#ff5600,#ff7100,#ff8200,#ffa200,#ffdc00,#f6ff09,#e7ff18)"></i>
<i style="background:linear-gradient(90deg,#0035ff,#0049ff,#006dff,#009bff,#00d4ff,#1fffe0,#81ff7e,#f7ff08,#ff9900,#ff5900,#ff4800,#ff5200,#ff6900,#ff7a00,#ff9c00,#ffde00,#f5ff0a,#e7ff18)"></i>
<i style="background:linear-gradient(90deg,#001dff,#0031ff,#0055ff,#0083ff,#00bdff,#0bfff4,#72ff8d,#f2ff0d,#ff9200,#ff5200,#ff4900,#ff5400,#ff6900,#ff7c00,#ffa100,#ffe300,#f2ff0d,#e6ff19)"></i>
<i style="background:linear-gradient(90deg,#0007ff,#0019ff,#003cff,#006aff,#00a6ff,#00f4ff,#5fffa0,#e8ff17,#ff9200,#ff5100,#ff4e00,#ff5c00,#ff7100,#ff8800,#ffb100,#ffec00,#efff10,#e5ff1a)"></i>
<i style="background:linear-gradient(90deg,#0000f3,#0003ff,#0024ff,#0051ff,#008dff,#00deff,#4cffb3,#d8ff27,#ffa000,#ff5d00,#ff5a00,#ff6800,#ff7f00,#ff9a00,#ffc400,#fff600,#e9ff16,#dfff20)"></i>
<i style="background:linear-gradient(90deg,#0000e3,#0000ef,#000dff,#0037ff,#0074ff,#00c7ff,#37ffc8,#c1ff3e,#ffba00,#ff7600,#ff6d00,#ff7800,#ff9300,#ffb000,#ffd700,#fcff03,#e1ff1e,#d7ff28)"></i>
<i style="background:linear-gradient(90deg,#0000d5,#0000dd,#0000f6,#001eff,#005aff,#00afff,#21ffde,#a6ff59,#ffdd00,#ff9800,#ff8900,#ff9000,#ffab00,#ffc900,#ffec00,#eeff11,#d5ff2a,#cdff32)"></i>
<i style="background:linear-gradient(90deg,#0000ca,#0000ce,#0000e1,#0005ff,#0041ff,#0097ff,#08fff7,#88ff77,#faff05,#ffc000,#ffac00,#ffb200,#ffc900,#ffe400,#fbff04,#deff21,#c8ff37,#c2ff3d)"></i>
<i style="background:linear-gradient(90deg,#0000bf,#0000c0,#0000cd,#0000ec,#0028ff,#007eff,#00ecff,#67ff98,#d2ff2d,#ffea00,#ffd400,#ffd900,#ffe900,#feff01,#e5ff1a,#cdff32,#baff45,#b7ff48)"></i>
<i style="background:linear-gradient(90deg,#0000b6,#0000b4,#0000bb,#0000d5,#0010ff,#0066ff,#00d1ff,#46ffb9,#aaff55,#eaff15,#fffd00,#fdff02,#f3ff0c,#e1ff1e,#cfff30,#bdff42,#adff52,#adff52)"></i>
<i style="background:linear-gradient(90deg,#0000ae,#0000a9,#0000ac,#0000c1,#0000f9,#004eff,#00b7ff,#26ffd9,#85ff7a,#c3ff3c,#dbff24,#daff25,#d2ff2d,#c5ff3a,#b9ff46,#aeff51,#a1ff5e,#a3ff5c)"></i>
<i style="background:linear-gradient(90deg,#0000a6,#00009f,#00009e,#0000b0,#0000e6,#0038ff,#009dff,#08fff7,#63ff9c,#a0ff5f,#b9ff46,#b9ff46,#b1ff4e,#abff54,#a7ff58,#a1ff5e,#98ff67,#9cff63)"></i>
<i style="background:linear-gradient(90deg,#00009e,#000096,#000094,#0000a4,#0000d6,#0025ff,#0085ff,#00edff,#47ffb8,#83ff7c,#9cff63,#9aff65,#92ff6d,#93ff6c,#97ff68,#97ff68,#92ff6d,#96ff69)"></i>
<i style="background:linear-gradient(90deg,#000097,#000090,#00008d,#00009c,#0000cb,#0015ff,#0071ff,#00d6ff,#31ffce,#6cff93,#84ff7b,#7fff80,#76ff89,#7eff81,#8bff74,#90ff6f,#8fff70,#93ff6c)"></i>
<i style="background:linear-gradient(90deg,#000091,#00008b,#00008b,#000099,#0000c5,#0009ff,#0060ff,#00c5ff,#20ffdf,#5bffa4,#72ff8d,#69ff96,#5dffa2,#6eff91,#83ff7c,#8cff73,#8dff72,#90ff6f)"></i>
<i style="background:linear-gradient(90deg,#00008d,#000089,#00008b,#00009b,#0000c3,#0001ff,#0054ff,#00b9ff,#15ffea,#50ffaf,#66ff99,#5bffa4,#4affb5,#64ff9b,#7fff80,#8aff75,#8cff73,#8eff71)"></i>
<i style="background:linear-gradient(90deg,#00008a,#00008a,#000090,#0000a1,#0000c6,#0000fe,#004dff,#00b3ff,#10ffef,#4bffb4,#60ff9f,#56ffa9,#41ffbe,#60ff9f,#7fff80,#8bff74,#8cff73,#8dff72)"></i>
<i style="background:linear-gradient(90deg,#000089,#00008c,#000096,#0000aa,#0000ce,#0004ff,#004dff,#00b3ff,#10ffef,#4affb5,#5fffa0,#5affa5,#46ffb9,#61ff9e,#82ff7d,#8cff73,#8cff73,#8cff73)"></i>
<i style="background:linear-gradient(90deg,#00008a,#000090,#00009e,#0000b7,#0000db,#0010ff,#0057ff,#00baff,#14ffeb,#4dffb2,#62ff9d,#61ff9e,#52ffad,#67ff98,#85ff7a,#8cff73,#8cff73,#8cff73)"></i>
<i style="background:linear-gradient(90deg,#00008d,#000096,#0000a8,#0000c6,#0000ec,#0022ff,#006aff,#00c6ff,#1cffe3,#52ffad,#68ff97,#68ff97,#5fffa0,#6fff90,#88ff77,#8cff73,#8cff73,#8cff73)"></i>
<i style="background:linear-gradient(90deg,#000090,#00009d,#0000b2,#0000d4,#0002ff,#0039ff,#0081ff,#00d8ff,#27ffd8,#5affa5,#6fff90,#70ff8f,#6bff94,#78ff87,#87ff78,#8bff74,#8cff73,#8cff73)"></i>
<i style="background:linear-gradient(90deg,#000095,#0000a5,#0000bd,#0000e3,#0019ff,#0053ff,#009cff,#00ecff,#35ffca,#65ff9a,#78ff87,#79ff86,#77ff88,#81ff7e,#85ff7a,#8aff75,#8cff73,#8cff73)"></i>
<i style="background:linear-gradient(90deg,#00009b,#0000ad,#0000c9,#0000f1,#002aff,#006eff,#00b7ff,#03fffc,#45ffba,#71ff8e,#81ff7e,#83ff7c,#82ff7d,#83ff7c,#84ff7b,#88ff77,#8bff74,#8cff73)"></i>
<i style="background:linear-gradient(90deg,#0000a2,#0000b6,#0000d4,#0000ff,#003aff,#0085ff,#00d2ff,#18ffe7,#56ffa9,#7eff81,#8cff73,#8dff72,#8aff75,#84ff7b,#83ff7c,#87ff78,#8bff74,#8cff73)"></i>
<i style="background:linear-gradient(90deg,#0000aa,#0000c0,#0000e0,#000eff,#0049ff,#0094ff,#00e6ff,#2dffd2,#66ff99,#8aff75,#96ff69,#93ff6c,#8bff74,#84ff7b,#83ff7c,#85ff7a,#89ff76,#8cff73)"></i>
<i style="background:linear-gradient(90deg,#0000b1,#0000ca,#0000ec,#001bff,#0057ff,#00a1ff,#00efff,#36ffc9,#6fff90,#91ff6e,#99ff66,#94ff6b,#8cff73,#86ff79,#83ff7c,#84ff7b,#88ff77,#8bff74)"></i>
</div></div>
<div style="position:absolute;left:3123.3px;top:90.5px;width:43.0px;height:685.5px;background:linear-gradient(180deg,#800000 0%,#f00 12.5%,#ff0 37.5%,#0ff 62.5%,#00f 87.5%,#000080 100%)"></div>
<div style="position:absolute;left:3094.0px;top:2239.0px;width:56.0px;height:942.0px;background:linear-gradient(180deg,#800000 0%,#f00 12.5%,#ff0 37.5%,#0ff 62.5%,#00f 87.5%,#000080 100%)"></div>
<svg width="3780" height="3444" viewBox="0 0 3780 3444">
<g fill="none" stroke="#222" stroke-width="1.6" stroke-opacity=".75"><clipPath id="c0"><circle cx="699.2" cy="403.0" r="273.0"/></clipPath><path clip-path="url(#c0)" d="M413 467 470 455 509 445 541 434 570 419 588 407 600 395 604 388 607 376 609 357 606 334 596 307 585 284 572 266 562 254 547 241 497 207 413 125M413 528 539 477 574 460 604 443 622 430 637 414 650 395 663 369 673 338 677 311 673 277 663 235 654 212 642 191 626 170 598 144 595 140 586 117M413 588 476 548 573 495 638 456 669 434 699 403 721 388 730 379 733 369 732 353 712 216 699 164 692 140 685 125 684 117M985 378 978 379 951 373 920 370 897 369 875 370 781 384 768 390 764 395 763 399 764 407 770 418 787 437 814 460 875 506 889 521 917 556 927 567 985 609M985 329 970 333 932 332 875 334 829 334 802 332 791 328 783 323 775 315 768 304 759 273 753 239 742 159 737 125 738 117M413 661 509 576 616 502 646 484 673 472 699 465 722 463 745 468 768 479 806 506 827 525 840 540 849 556 868 597 878 617 938 689M985 273 955 286 886 291 867 290 848 288 833 284 821 277 810 266 803 254 796 239 791 220 782 136 788 117M481 689 549 601 582 567 615 536 640 517 661 506 684 499 711 497 734 499 756 509 780 525 803 548 813 563 823 582 831 605 843 647 867 689M985 153 913 216 909 218 875 211 861 205 852 195 845 182 840 163 841 159 865 117M578 689 590 662 594 636 601 617 613 594 630 567 647 548 666 533 684 524 703 521 714 522 726 526 746 536 767 556 783 578 789 594 792 609 794 636 792 666 800 689"/><clipPath id="c1"><circle cx="1372.8" cy="402.8" r="273.0"/></clipPath><path clip-path="url(#c1)" d="M1087 185 1148 231 1152 232 1175 222 1190 219 1205 222 1245 235 1277 242 1331 247 1358 246 1373 241 1384 234 1396 224 1408 208 1418 189 1426 170 1439 117M1087 428 1094 427 1106 416 1140 370 1160 349 1190 328 1230 304 1262 291 1293 284 1316 281 1358 282 1373 281 1393 273 1419 258 1448 235 1482 201 1514 162 1541 117M1087 512 1110 503 1121 497 1136 487 1150 475 1169 452 1194 413 1200 407 1220 391 1228 382 1245 353 1256 338 1270 325 1285 315 1300 309 1319 304 1338 302 1369 304 1380 302 1541 247 1563 243 1583 244 1598 250 1609 259 1618 273 1620 288 1619 300 1615 311 1597 349 1589 368 1583 399 1582 422 1584 441 1589 460 1603 498 1605 513 1604 525 1601 536 1585 571 1584 578 1584 586 1586 589 1659 652M1087 587 1136 555 1179 544 1216 531 1247 523 1258 517 1261 513 1262 506 1258 472 1259 452 1261 437 1270 403 1272 372 1276 361 1281 351 1288 342 1297 334 1316 324 1338 318 1377 317 1434 310 1453 310 1468 312 1484 319 1495 328 1502 342 1505 357 1505 372 1502 407 1500 452 1495 471 1485 491 1472 504 1464 509 1453 513 1441 515 1430 515 1384 511 1365 512 1343 517 1313 529 1307 532 1305 536 1304 540 1309 552 1323 567 1369 600 1415 641 1454 670 1461 689M1411 483 1346 484 1331 483 1319 479 1312 475 1304 469 1297 460 1291 449 1288 433 1287 418 1289 388 1293 372 1299 361 1308 350 1316 343 1331 335 1350 330 1373 328 1399 328 1419 330 1435 334 1449 342 1457 350 1464 365 1466 380 1464 403 1465 426 1461 445 1453 460 1442 471 1428 479 1411 483M1087 661 1163 592 1167 590 1190 586 1209 580 1220 579 1232 579 1247 582 1266 590 1300 609 1319 624 1331 637 1340 651 1352 681 1352 689M1396 464 1365 466 1342 462 1331 457 1323 452 1316 445 1311 437 1306 426 1303 410 1302 403 1304 391 1310 376 1318 365 1327 356 1337 349 1354 343 1369 340 1380 340 1393 342 1407 346 1422 353 1431 361 1439 372 1444 388 1446 403 1443 418 1438 433 1431 445 1422 453 1411 460 1396 464M1123 689 1187 616 1190 614 1201 609 1213 608 1232 610 1250 616 1266 625 1278 635 1287 651 1292 666 1293 674 1288 689M1377 449 1369 449 1358 446 1341 437 1335 430 1331 424 1327 414 1326 407 1327 395 1329 388 1337 372 1346 365 1354 361 1365 357 1373 356 1388 359 1404 368 1411 376 1415 382 1418 391 1419 399 1419 410 1417 418 1414 426 1408 433 1396 443 1377 449"/><clipPath id="c2"><circle cx="2046.7" cy="403.0" r="273.5"/></clipPath><path clip-path="url(#c2)" d="M2027 116 2027 124 2016 157 2012 181 2012 208 2017 231 2024 250 2033 269 2047 292 2058 308 2066 316 2073 322 2081 325 2093 327 2115 324 2138 316 2154 306 2174 288 2193 269 2209 250 2228 223 2242 200 2321 116M1948 116 1955 138 1959 197 1963 216 1968 231 1978 254 2010 315 2036 376 2047 391 2054 395 2066 394 2077 389 2114 365 2165 337 2206 311 2236 288 2280 245 2333 209M1887 116 1910 159 1925 223 1931 243 1940 261 1977 323 2016 403 2028 418 2035 424 2047 429 2058 431 2070 431 2081 429 2089 426 2100 418 2127 393 2142 381 2192 353 2248 323 2303 286 2333 271M1821 116 1872 181 1882 208 1897 262 1903 277 1910 288 1959 353 1974 377 1994 414 2004 430 2020 445 2039 456 2062 463 2085 467 2104 467 2117 464 2123 460 2131 453 2151 422 2161 411 2175 399 2196 384 2215 373 2230 366 2284 346 2318 331 2333 327M1760 161 1832 223 1848 281 1854 296 1860 307 1874 323 1921 361 1947 388 1958 403 1980 445 1993 462 2012 478 2053 499 2096 529 2112 537 2123 541 2131 542 2138 542 2150 540 2161 535 2173 528 2193 510 2205 495 2210 483 2212 472 2214 445 2218 430 2224 418 2234 409 2245 405 2261 403 2333 403M2048 690 2047 678 2042 663 2035 651 2024 640 2012 632 1997 625 1982 621 1963 620 1909 625 1886 627 1879 630 1834 690M1760 288 1787 300 1807 323 1840 355 1867 378 1905 407 1917 418 1924 428 1932 441 1955 495 1981 533 1984 541 1985 548 1983 556 1975 563 1966 568 1955 571 1944 571 1902 565 1875 563 1848 564 1821 569 1760 613M2120 690 2117 674 2119 667 2124 651 2135 636 2151 621 2181 598 2203 582 2222 570 2249 558 2287 545 2291 546 2333 570M1760 358 1768 359 1782 369 1796 380 1810 395 1824 414 1843 445 1850 460 1853 472 1851 479 1848 483 1840 487 1821 491 1783 493 1760 501"/><clipPath id="c3"><circle cx="2720.0" cy="403.0" r="274.0"/></clipPath><path clip-path="url(#c3)" d="M2858 411 2904 403 2921 395 2938 384 2948 372 2956 357 2959 342 2958 323 2953 300 2946 280 2934 261 2919 246 2896 231 2873 220 2850 214 2831 214 2812 219 2793 230 2774 247 2751 274 2739 292 2730 311 2727 330 2728 353 2731 369 2738 384 2749 395 2762 403 2781 409 2804 413 2827 414 2858 411M2759 116 2758 124 2747 141 2739 158 2721 215 2700 273 2692 303 2689 334 2690 369 2696 395 2705 414 2712 423 2720 429 2739 440 2766 449 2797 454 2823 455 2877 451 2984 446 2999 446 3007 447M2688 116 2689 124 2679 200 2662 292 2658 342 2659 372 2664 403 2671 426 2681 445 2693 457 2709 467 2731 476 2758 483 2781 487 2804 489 2846 486 2873 486 2896 489 2915 494 2930 499 2946 508 2959 518 2970 533 3007 553M2917 690 2881 638 2877 636 2850 641 2770 646 2735 652 2720 658 2706 667 2692 682 2691 690M2637 116 2642 135 2637 215 2630 281 2626 349 2629 437 2633 472 2637 495 2643 510 2659 541 2662 552 2659 564 2647 586 2642 598 2627 656 2615 690M2842 598 2827 601 2808 602 2785 598 2766 593 2741 583 2722 571 2712 560 2711 552 2718 545 2732 537 2756 529 2787 522 2808 517 2827 515 2842 516 2854 519 2868 525 2877 533 2883 545 2884 556 2883 564 2879 571 2870 583 2858 592 2842 598M2568 116 2588 154 2590 296 2588 330 2582 375 2561 495 2551 525 2520 598 2433 684M2433 119 2519 204 2533 281 2536 307 2533 326 2525 353 2498 418 2487 441 2471 464 2452 486 2433 492"/><clipPath id="c4"><circle cx="702.5" cy="1292.7" r="269.0"/></clipPath><path clip-path="url(#c4)" d="M648 1575 650 1563 645 1556 624 1529 601 1507 586 1497 569 1488 548 1480 526 1474 511 1472 492 1473 421 1534M421 1126 462 1150 466 1152 477 1153 500 1153 518 1150 537 1144 556 1133 568 1124 578 1111 586 1097 590 1082 593 1063 594 1041 582 1011M698 1575 696 1567 686 1552 659 1514 638 1488 616 1467 605 1460 590 1452 563 1442 533 1434 507 1430 481 1428 462 1429 421 1452M421 1251 428 1252 439 1236 454 1225 473 1218 522 1202 574 1180 597 1167 613 1154 622 1142 629 1131 636 1116 641 1101 645 1079 648 1048 651 1022 649 1011M738 1575 737 1567 729 1556 668 1473 646 1448 625 1432 612 1424 594 1416 518 1390 457 1375 446 1372 436 1366 421 1370M781 1575 777 1560 722 1488 686 1435 665 1411 650 1399 631 1389 612 1383 563 1370 548 1364 533 1357 522 1349 510 1338 503 1327 499 1311 498 1293 503 1274 511 1259 525 1244 541 1233 560 1225 578 1219 612 1212 627 1206 644 1195 657 1180 670 1157 680 1131 697 1075 711 1018 712 1011M854 1575 834 1537 811 1523 796 1511 781 1496 767 1477 757 1458 749 1439 744 1420 743 1405 745 1390 749 1383 754 1375 768 1364 814 1334 834 1319 848 1304 852 1296 852 1289 845 1278 831 1266 812 1255 770 1234 752 1221 745 1214 740 1205 737 1195 736 1184 737 1169 741 1154 746 1139 753 1127 766 1110 827 1045 844 1011M605 1335 586 1338 571 1336 556 1329 546 1319 541 1311 539 1304 539 1289 541 1281 545 1274 556 1263 571 1257 578 1255 590 1256 601 1259 609 1263 622 1274 626 1281 630 1293 631 1304 630 1311 627 1319 620 1327 605 1335"/><clipPath id="c5"><circle cx="1356.8" cy="1292.8" r="269.5"/></clipPath><path clip-path="url(#c5)" d="M1297 1575 1299 1564 1298 1545 1294 1526 1289 1511 1284 1500 1276 1489 1266 1479 1257 1474 1244 1468 1225 1463 1123 1439 1120 1440 1074 1468M1340 1575 1338 1530 1335 1515 1331 1500 1324 1485 1315 1472 1304 1460 1293 1451 1278 1442 1255 1434 1161 1407 1097 1387 1074 1394M1386 1575 1385 1560 1385 1507 1384 1492 1381 1481 1375 1466 1368 1455 1358 1443 1346 1433 1326 1421 1300 1410 1255 1397 1105 1347 1086 1341 1074 1342M1442 1575 1437 1556 1439 1541 1443 1526 1451 1507 1483 1451 1491 1432 1495 1417 1497 1394 1496 1372 1492 1357 1485 1347 1474 1342 1458 1341 1364 1350 1323 1351 1285 1348 1255 1342 1082 1291 1074 1290M1568 1010 1523 1071 1516 1082 1507 1105 1489 1165 1483 1180 1474 1195 1462 1209 1451 1218 1436 1226 1413 1236 1372 1249 1323 1260 1293 1263 1259 1262 1233 1257 1211 1251 1161 1231 1120 1218 1093 1206 1074 1200M1452 1010 1445 1033 1436 1086 1431 1105 1424 1123 1411 1142 1394 1158 1383 1166 1370 1172 1342 1182 1308 1187 1289 1187 1270 1185 1255 1179 1236 1168 1151 1108 1074 1040"/><clipPath id="c6"><circle cx="2031.3" cy="1292.8" r="269.0"/></clipPath><path clip-path="url(#c6)" d="M2105 1575 2101 1560 2091 1549 2084 1544 2073 1543 2046 1545 2035 1544 2024 1540 1994 1525 1982 1522 1975 1521 1937 1526 1907 1523 1882 1526 1850 1575M1846 1011 1881 1062 1915 1083 1937 1100 1946 1109 1969 1139 1986 1154 2005 1165 2016 1168 2024 1169 2035 1166 2046 1158 2054 1143 2058 1127 2061 1109 2061 1090 2056 1018 2056 1011M2147 1575 2135 1548 2110 1530 2088 1519 2073 1516 2035 1510 1990 1499 1930 1496 1851 1482 1825 1476 1821 1477 1749 1540M2200 1575 2174 1532 2172 1530 2152 1523 2104 1503 2076 1495 1994 1477 1937 1473 1910 1462 1867 1439 1850 1428 1832 1413 1817 1398 1805 1383 1795 1368 1786 1349 1781 1334 1777 1315 1775 1293 1777 1274 1782 1255 1791 1238 1798 1228 1810 1217 1840 1195 1858 1179 1870 1172 1881 1167 1892 1165 1915 1166 1937 1172 1989 1191 2016 1196 2028 1196 2039 1194 2052 1188 2062 1180 2069 1173 2077 1161 2087 1135 2096 1086 2103 1026 2107 1011M2298 1575 2223 1496 2219 1494 2182 1497 2163 1496 2144 1493 2005 1452 1964 1442 1945 1434 1934 1427 1921 1417 1893 1387 1878 1364 1870 1342 1868 1327 1868 1312 1870 1293 1874 1278 1881 1263 1890 1248 1900 1236 1911 1227 1926 1219 1945 1215 2013 1218 2028 1218 2043 1215 2058 1211 2068 1206 2079 1199 2088 1191 2098 1176 2106 1161 2125 1102 2144 1050 2162 1011M2313 1228 2302 1231 2300 1233 2279 1257 2247 1289 2241 1300 2242 1312 2257 1349 2260 1368 2260 1379 2258 1391 2254 1402 2248 1413 2234 1432 2219 1445 2197 1458 2178 1465 2163 1467 2148 1468 2133 1466 2118 1462 2049 1436 1994 1411 1971 1396 1952 1377 1934 1353 1927 1342 1923 1330 1921 1319 1920 1308 1923 1289 1928 1278 1933 1270 1940 1263 1949 1255 1964 1248 1982 1243 2058 1235 2080 1231 2099 1224 2106 1220 2113 1214 2126 1195 2144 1146 2152 1130 2159 1118 2178 1096 2203 1075 2253 1011M2200 1308 2208 1304 2211 1300 2212 1289 2209 1282 2201 1274 2193 1270 2182 1270 2174 1273 2169 1278 2167 1285 2168 1293 2170 1298 2174 1302 2182 1307 2189 1308 2200 1308M2155 1436 2148 1438 2137 1438 2125 1435 2114 1431 2045 1391 2009 1372 1992 1360 1982 1351 1976 1342 1970 1330 1966 1319 1965 1308 1967 1300 1971 1289 1977 1282 1986 1274 1999 1266 2013 1262 2031 1259 2050 1259 2069 1262 2084 1267 2096 1274 2103 1281 2109 1289 2125 1320 2135 1334 2145 1345 2170 1368 2178 1378 2182 1387 2185 1402 2184 1409 2181 1417 2170 1429 2155 1436M2054 1330 2046 1333 2035 1332 2028 1329 2020 1323 2015 1315 2014 1308 2015 1300 2021 1293 2028 1289 2035 1288 2046 1291 2054 1297 2059 1304 2062 1315 2061 1323 2058 1328 2054 1330"/><clipPath id="c7"><circle cx="2695.3" cy="1292.8" r="269.0"/></clipPath><path clip-path="url(#c7)" d="M2413 1050 2485 1111 2489 1112 2508 1109 2526 1104 2598 1078 2624 1070 2658 1066 2695 1065 2729 1067 2755 1073 2774 1079 2861 1113 2883 1119 2913 1125 2917 1124 2977 1078M2413 1138 2451 1159 2455 1160 2496 1154 2530 1147 2650 1112 2673 1109 2695 1108 2718 1111 2737 1115 2808 1142 2853 1157 2887 1167 2943 1178 2947 1179 2951 1178 2977 1166M2413 1192 2436 1200 2515 1184 2579 1169 2658 1147 2677 1144 2695 1144 2710 1145 2729 1150 2812 1182 2876 1202 2928 1216 2962 1228 2966 1228 2977 1225M2976 1575 2891 1489 2864 1492 2842 1491 2823 1486 2784 1473 2759 1469 2737 1467 2725 1468 2718 1472 2665 1514 2650 1531 2638 1548 2631 1560 2627 1575M2413 1235 2425 1237 2481 1221 2553 1205 2605 1196 2665 1180 2684 1177 2699 1177 2725 1184 2785 1210 2872 1235 2913 1251 2934 1263 2954 1278 2966 1292 2969 1304 2969 1315 2963 1330 2955 1343 2940 1357 2925 1368 2909 1376 2861 1396 2834 1403 2804 1407 2782 1407 2725 1403 2703 1404 2684 1407 2665 1414 2644 1428 2601 1467 2586 1478 2560 1491 2519 1504 2515 1506 2457 1575M2413 1284 2417 1284 2421 1282 2439 1270 2471 1255 2502 1244 2534 1235 2564 1229 2616 1225 2669 1217 2688 1215 2699 1217 2714 1221 2759 1242 2778 1249 2831 1261 2853 1268 2868 1276 2879 1285 2884 1293 2886 1304 2884 1315 2875 1327 2859 1338 2838 1347 2808 1354 2737 1362 2658 1378 2624 1389 2575 1412 2549 1421 2519 1424 2489 1421 2462 1412 2440 1398 2413 1409M2556 1369 2534 1370 2522 1368 2510 1364 2500 1359 2491 1353 2484 1345 2479 1338 2476 1330 2474 1323 2475 1315 2477 1308 2487 1293 2505 1278 2522 1268 2541 1261 2560 1257 2579 1256 2605 1260 2644 1270 2661 1278 2667 1282 2674 1289 2676 1297 2674 1304 2669 1312 2656 1323 2632 1338 2602 1353 2575 1364 2556 1369"/><clipPath id="c8"><circle cx="702.2" cy="2099.8" r="269.5"/></clipPath><path clip-path="url(#c8)" d="M420 2003 442 2010 499 2015 525 2014 555 2007 589 1995 612 1984 631 1971 646 1958 657 1943 665 1927 669 1912 670 1897 667 1878 652 1829 650 1817M420 2066 427 2067 461 2066 499 2064 529 2060 555 2054 585 2044 612 2032 635 2017 659 1998 678 1979 692 1961 703 1942 709 1923 711 1904 710 1885 706 1863 697 1825 697 1817M420 2126 499 2116 540 2107 567 2099 601 2083 634 2064 665 2043 691 2021 713 1998 724 1983 734 1964 741 1942 745 1919 746 1897 745 1870 740 1825 741 1817M420 2206 446 2197 514 2191 533 2188 563 2181 585 2173 601 2165 616 2154 666 2107 689 2089 710 2077 747 2063 759 2055 766 2045 771 2032 780 1979 783 1949 784 1900 783 1836 789 1817M420 2376 503 2295 506 2293 518 2293 540 2293 563 2296 585 2300 604 2306 623 2315 642 2326 695 2368 706 2372 713 2372 721 2370 732 2363 738 2356 741 2348 745 2333 753 2288 760 2262 768 2243 779 2228 796 2213 823 2198 845 2190 883 2181 898 2175 915 2164 926 2153 932 2141 935 2126 934 2111 929 2096 923 2081 912 2062 875 2016 864 1998 850 1968 842 1938 838 1904 838 1859 861 1817M935 2382 879 2314 857 2290 850 2277 850 2273 851 2269 857 2268 868 2271 898 2292 985 2376"/><clipPath id="c9"><circle cx="1366.2" cy="2095.2" r="269.0"/></clipPath><path clip-path="url(#c9)" d="M1293 1813 1297 1828 1292 1858 1291 1877 1294 1892 1299 1907 1314 1930 1351 1973 1370 1992 1385 2001 1404 2009 1423 2013 1494 2019 1524 2020 1562 2019 1592 2016 1618 2010 1648 2001M1147 1813 1197 1877 1215 1911 1232 1934 1248 1949 1291 1981 1340 2033 1355 2045 1370 2055 1389 2064 1408 2071 1438 2079 1460 2083 1547 2091 1629 2095 1648 2095M1084 1937 1125 1960 1155 1986 1178 2002 1193 2007 1242 2019 1261 2027 1272 2035 1303 2061 1322 2076 1344 2089 1366 2099 1404 2109 1449 2118 1648 2136M1084 2061 1092 2062 1122 2073 1156 2082 1223 2093 1246 2098 1317 2123 1362 2134 1438 2145 1528 2154 1622 2167 1648 2173M1084 2175 1107 2169 1227 2159 1490 2175 1524 2180 1580 2195 1609 2204 1648 2221M1196 2377 1223 2332 1220 2331 1216 2328 1212 2332 1183 2377M1632 2377 1558 2298 1554 2297 1524 2302 1513 2305 1505 2309 1475 2331 1456 2340 1441 2342 1426 2341 1411 2337 1381 2322 1370 2318 1355 2316 1306 2314 1287 2309 1272 2303 1247 2287 1221 2264 1214 2253 1212 2246 1212 2238 1217 2227 1227 2217 1238 2211 1253 2207 1400 2197 1471 2197 1494 2199 1513 2204 1532 2212 1546 2219 1563 2230 1571 2238 1579 2249 1584 2267 1648 2318M1456 2295 1445 2296 1430 2294 1366 2276 1357 2268 1354 2261 1355 2257 1361 2249 1377 2242 1414 2230 1441 2224 1460 2222 1475 2222 1486 2225 1498 2230 1507 2238 1511 2246 1512 2257 1509 2264 1502 2272 1486 2283 1471 2290 1456 2295"/><clipPath id="c10"><circle cx="2032.0" cy="2099.5" r="269.0"/></clipPath><path clip-path="url(#c10)" d="M1750 1977 1776 1989 1780 1989 1848 1973 1874 1964 1897 1954 1914 1942 1925 1930 1932 1919 1938 1904 1941 1889 1941 1870 1939 1848 1938 1840 1929 1818M1750 2066 1758 2067 1776 2054 1799 2042 1859 2019 1885 2007 1923 1985 1940 1972 1952 1960 1963 1949 1973 1934 1981 1919 1987 1904 1991 1885 1994 1867 1996 1825 1996 1818M1750 2277 1798 2246 1805 2239 1809 2231 1809 2220 1796 2178 1794 2152 1796 2137 1798 2126 1804 2111 1811 2100 1824 2084 1840 2073 1900 2044 1938 2022 1976 1995 1998 1973 2018 1945 2028 1927 2035 1912 2046 1874 2058 1818M2178 2381 2160 2346 2156 2344 2141 2341 2132 2344 2130 2348 2129 2351 2130 2359 2139 2381M2314 2370 2231 2291 2205 2285 2179 2282 2160 2282 2126 2286 2115 2286 2092 2281 2073 2272 2055 2258 1998 2208 1949 2173 1930 2152 1922 2141 1919 2133 1918 2126 1918 2118 1921 2111 1928 2100 1939 2088 1991 2044 2017 2019 2032 2002 2054 1972 2072 1942 2087 1912 2119 1836 2125 1818M1904 2381 1918 2351 1938 2344 1961 2340 1979 2343 1991 2347 1998 2351 2006 2358 2013 2366 2017 2374 2017 2381M2314 2265 2269 2239 2220 2233 2190 2227 2167 2221 2148 2213 2118 2195 2085 2178 2065 2163 2053 2152 2043 2141 2037 2130 2033 2118 2032 2103 2034 2088 2039 2073 2048 2054 2063 2032 2103 1975 2178 1863 2206 1818M2314 2182 2295 2177 2257 2181 2224 2180 2197 2175 2171 2166 2130 2147 2107 2132 2100 2124 2094 2115 2090 2103 2088 2092 2091 2073 2102 2051 2116 2032 2164 1973 2182 1953 2201 1937 2216 1926 2239 1912 2314 1844M2224 2111 2201 2110 2181 2103 2171 2097 2166 2092 2164 2087 2162 2081 2163 2073 2168 2062 2176 2051 2186 2039 2205 2024 2213 2021 2224 2019 2235 2021 2242 2024 2258 2036 2265 2044 2271 2054 2275 2066 2276 2073 2274 2081 2271 2088 2261 2098 2243 2107 2224 2111"/><clipPath id="c11"><circle cx="2695.5" cy="2108.8" r="269.0"/></clipPath><path clip-path="url(#c11)" d="M2742 1827 2741 1834 2743 1838 2771 1866 2820 1928 2835 1943 2848 1955 2867 1966 2916 1989 2955 2010 2977 2001M2625 1827 2628 1838 2631 1842 2718 1901 2780 1955 2804 1974 2835 1995 2876 2019 2900 2034 2930 2056 2970 2089 2977 2090M2533 2391 2557 2349 2558 2331 2555 2312 2549 2293 2540 2278 2527 2263 2501 2237 2488 2222 2478 2207 2471 2191 2467 2176 2466 2161 2466 2105 2464 2060 2465 2041 2468 2026 2472 2011 2480 1996 2489 1984 2500 1974 2515 1964 2530 1956 2549 1948 2568 1942 2587 1939 2609 1938 2632 1939 2650 1942 2673 1948 2692 1956 2718 1971 2789 2015 2847 2052 2872 2071 2895 2090 2913 2109 2935 2135 2962 2172 2966 2175 2977 2177M2635 2391 2637 2379 2637 2376 2627 2312 2621 2285 2609 2259 2579 2214 2569 2195 2561 2173 2558 2150 2558 2131 2560 2109 2565 2090 2571 2073 2579 2062 2589 2052 2602 2044 2617 2037 2635 2032 2654 2030 2673 2031 2692 2034 2714 2041 2741 2052 2767 2065 2793 2080 2827 2105 2854 2131 2871 2154 2910 2210 2936 2245 2977 2269M2723 2391 2722 2383 2692 2329 2680 2300 2672 2270 2670 2237 2671 2222 2675 2207 2680 2193 2688 2180 2696 2171 2707 2164 2718 2160 2729 2160 2748 2163 2767 2171 2782 2182 2804 2201 2827 2226 2853 2258 2873 2285 2887 2308 2967 2391"/><clipPath id="c12"><circle cx="701.8" cy="2904.8" r="269.0"/></clipPath><path clip-path="url(#c12)" d="M639 2623 642 2636 661 2672 675 2695 691 2714 702 2724 713 2730 732 2737 754 2743 777 2747 800 2749 822 2748 882 2741 924 2742 927 2741 984 2699M514 2623 548 2674 570 2685 589 2697 612 2715 637 2739 651 2751 668 2762 687 2771 717 2780 754 2788 916 2805 961 2812 984 2805M420 3026 446 3015 450 3010 475 2957 509 2901 513 2890 522 2852 529 2835 536 2826 544 2818 563 2809 585 2806 612 2806 721 2821 822 2832 908 2846 976 2864 984 2863M503 3187 542 3130 550 3074 558 3036 588 2939 595 2920 603 2905 612 2893 623 2883 638 2875 657 2868 679 2864 702 2862 732 2862 800 2867 878 2881 894 2886 912 2894 943 2912 952 2920 962 2931 969 2946 972 2960 984 2963M747 3128 732 3130 717 3128 706 3124 691 3114 675 3101 662 3085 654 3070 649 3051 647 3036 649 3018 658 2969 663 2950 672 2937 683 2927 698 2920 713 2917 732 2915 758 2915 777 2917 792 2921 806 2927 816 2935 825 2946 828 2957 828 2976 822 3018 816 3040 809 3059 800 3074 777 3108 762 3121 747 3128"/><clipPath id="c13"><circle cx="1357.1" cy="2906.4" r="269.0"/></clipPath><path clip-path="url(#c13)" d="M1075 2782 1102 2794 1105 2794 1135 2775 1184 2750 1196 2743 1207 2734 1218 2721 1228 2703 1237 2685 1248 2655 1248 2651 1237 2625M1075 2905 1079 2905 1083 2902 1100 2876 1117 2854 1133 2835 1148 2820 1169 2805 1213 2782 1229 2769 1245 2749 1282 2686 1301 2663 1312 2654 1323 2647 1342 2640 1369 2632 1375 2628 1376 2625M1480 2625 1469 2651 1469 2655 1483 2673 1512 2722 1529 2745 1568 2787 1600 2831 1615 2850 1631 2866 1639 2865M1459 3188 1452 3169 1447 3167 1406 3162 1350 3152 1222 3145 1216 3147 1191 3188M1075 3004 1094 2997 1103 2967 1109 2951 1118 2936 1137 2910 1173 2870 1196 2850 1243 2824 1257 2812 1265 2801 1288 2749 1297 2733 1308 2720 1323 2706 1338 2698 1353 2693 1372 2690 1391 2692 1406 2696 1421 2706 1432 2716 1449 2737 1485 2787 1496 2798 1526 2823 1537 2836 1603 2925 1615 2948 1624 2971 1626 2974 1639 2978M1596 3188 1537 3119 1534 3119 1511 3126 1489 3130 1466 3132 1436 3132 1361 3123 1308 3123 1218 3117 1188 3111 1173 3105 1158 3098 1075 3177M1474 3098 1451 3100 1395 3099 1353 3101 1244 3095 1222 3093 1196 3084 1173 3071 1156 3053 1149 3042 1144 3030 1140 3008 1142 2985 1150 2963 1161 2944 1177 2925 1207 2899 1226 2886 1263 2864 1282 2848 1289 2839 1296 2827 1311 2782 1320 2766 1327 2756 1335 2749 1350 2741 1365 2739 1380 2741 1391 2746 1403 2756 1412 2767 1417 2778 1432 2820 1444 2840 1459 2856 1500 2891 1519 2910 1539 2936 1552 2963 1558 2985 1560 3012 1557 3030 1549 3049 1535 3068 1517 3083 1496 3093 1474 3098M1289 3076 1244 3074 1229 3071 1218 3067 1203 3059 1192 3049 1184 3038 1179 3027 1176 3012 1176 2997 1179 2982 1185 2967 1196 2952 1207 2941 1222 2931 1241 2921 1263 2912 1319 2895 1350 2884 1361 2883 1368 2886 1409 2910 1459 2933 1474 2942 1485 2950 1494 2959 1502 2970 1507 2981 1512 2993 1514 3008 1514 3019 1512 3030 1507 3042 1501 3049 1492 3057 1481 3063 1470 3066 1455 3068 1440 3067 1425 3065 1397 3057 1368 3040 1361 3038 1355 3042 1346 3057 1337 3064 1316 3072 1289 3076M1282 3054 1263 3054 1241 3050 1225 3042 1214 3030 1207 3015 1206 3008 1206 2997 1208 2989 1212 2982 1218 2974 1226 2968 1237 2963 1248 2960 1259 2959 1271 2961 1282 2964 1293 2970 1303 2978 1308 2985 1313 2997 1314 3008 1313 3019 1310 3030 1306 3038 1299 3045 1293 3049 1282 3054"/><clipPath id="c14"><circle cx="2027.8" cy="2905.8" r="284.0"/></clipPath><path clip-path="url(#c14)" d="M1907 2803 1912 2795 1914 2779 1913 2758 1907 2735 1901 2725 1893 2718 1885 2716 1873 2718 1859 2727 1842 2747 1837 2759 1839 2771 1844 2779 1851 2787 1861 2795 1873 2801 1885 2805 1893 2807 1901 2806 1907 2803M1730 2852 1770 2856 1794 2861 1917 2897 1933 2906 1951 2930 1960 2938 1972 2946 1988 2953 2008 2956 2024 2953 2036 2948 2047 2938 2054 2926 2057 2914 2055 2898 2051 2886 2044 2876 2036 2869 2000 2846 1990 2838 1981 2826 1973 2811 1963 2775 1951 2700 1922 2608M1730 2927 1750 2925 1762 2925 1810 2934 1865 2949 1931 2977 1948 2981 1976 2985 2008 2987 2032 2984 2044 2980 2052 2975 2066 2961 2075 2945 2080 2930 2081 2910 2078 2890 2072 2874 2063 2860 2052 2848 2024 2827 2015 2819 2007 2807 1999 2791 1992 2763 1986 2727 1982 2684 1979 2620 1978 2608M1975 3203 1976 3192 1976 3187 1971 3175 1966 3168 1952 3158 1945 3155 1933 3154 1917 3156 1897 3164 1893 3168 1875 3203M2007 3203 2007 3191 2001 3172 1995 3160 1984 3147 1972 3138 1960 3132 1904 3116 1879 3104 1863 3092 1854 3080 1848 3068 1847 3057 1849 3048 1857 3039 1867 3033 1885 3028 1968 3016 1992 3015 2040 3017 2052 3016 2063 3013 2071 3009 2079 3002 2087 2989 2099 2965 2105 2945 2107 2926 2103 2894 2097 2866 2088 2846 2079 2832 2067 2819 2046 2799 2038 2787 2024 2752 2016 2723 2015 2708 2017 2692 2036 2616 2037 2608M2149 3076 2156 3068 2158 3060 2157 3053 2151 3043 2143 3038 2135 3037 2123 3040 2116 3045 2114 3049 2113 3057 2115 3064 2121 3072 2127 3077 2135 3079 2143 3079 2149 3076M2039 3203 2032 3160 2026 3144 2019 3132 2012 3124 2004 3117 1959 3092 1953 3088 1948 3082 1947 3076 1949 3068 1955 3060 1959 3057 1972 3050 1984 3047 1996 3046 2012 3050 2027 3057 2036 3062 2071 3092 2090 3104 2115 3116 2139 3122 2159 3123 2179 3118 2186 3114 2193 3108 2199 3100 2202 3092 2203 3084 2202 3072 2198 3060 2193 3049 2179 3025 2154 2997 2148 2985 2147 2957 2131 2900 2122 2830 2123 2811 2135 2787 2147 2723 2152 2644 2168 2608M2325 3127 2262 3080 2248 3060 2214 3025 2202 3010 2195 2997 2189 2981 2179 2949 2165 2910 2160 2882 2160 2854 2164 2830 2203 2711 2213 2684 2275 2608M2078 3203 2076 3183 2080 3168 2083 3162 2091 3156 2099 3154 2107 3153 2127 3157 2151 3169 2153 3172 2168 3203M2325 3009 2301 3002 2278 3003 2258 3001 2246 2997 2234 2989 2228 2981 2222 2970 2202 2922 2197 2902 2195 2878 2197 2854 2203 2826 2210 2807 2222 2787 2242 2761 2264 2735 2325 2691"/><clipPath id="c15"><circle cx="2693.1" cy="2908.2" r="284.5"/></clipPath><path clip-path="url(#c15)" d="M2476 3206 2519 3147 2546 3122 2562 3103 2566 3094 2568 3083 2568 3071 2566 3059 2557 3035 2542 3008 2526 2986 2510 2970 2487 2952 2451 2931 2411 2910 2403 2907 2395 2906M2552 3206 2567 3174 2602 3137 2612 3123 2618 3111 2621 3099 2622 3083 2619 3067 2614 3050 2598 3019 2566 2966 2546 2939 2526 2916 2494 2888 2463 2864 2411 2835 2395 2830M2611 3206 2616 3190 2645 3154 2655 3139 2662 3123 2667 3107 2669 3091 2668 3075 2665 3063 2655 3039 2610 2972 2574 2904 2517 2821 2508 2805 2500 2785 2497 2761 2497 2745 2502 2714 2503 2686 2439 2610M2688 3206 2690 3198 2701 3187 2721 3173 2741 3163 2753 3160 2765 3158 2804 3161 2820 3160 2836 3156 2852 3149 2865 3139 2874 3127 2880 3115 2891 3079 2891 3067 2884 3055 2875 3047 2857 3039 2840 3036 2820 3034 2800 3036 2765 3042 2745 3042 2733 3039 2721 3034 2693 3015 2673 2998 2657 2983 2645 2968 2634 2950 2618 2916 2604 2876 2597 2849 2591 2813 2591 2781 2598 2749 2603 2737 2610 2725 2622 2715 2637 2707 2653 2703 2695 2698 2715 2690 2735 2678 2750 2666 2764 2650 2778 2630 2784 2610M2777 2984 2741 2984 2725 2982 2709 2976 2693 2968 2681 2960 2669 2949 2660 2936 2651 2920 2646 2904 2643 2888 2642 2868 2643 2853 2647 2837 2653 2821 2661 2810 2675 2797 2693 2787 2713 2780 2737 2777 2757 2778 2804 2788 2860 2787 2884 2789 2908 2796 2927 2809 2938 2821 2945 2833 2950 2845 2952 2861 2949 2876 2938 2904 2932 2916 2923 2928 2912 2939 2900 2948 2884 2957 2864 2966 2840 2974 2816 2980 2796 2983 2777 2984M2773 2937 2757 2938 2737 2938 2721 2936 2709 2932 2697 2926 2689 2919 2684 2912 2681 2900 2682 2888 2685 2875 2693 2861 2701 2850 2713 2839 2729 2829 2745 2822 2757 2819 2773 2820 2804 2841 2849 2861 2861 2868 2865 2876 2864 2880 2858 2888 2843 2900 2794 2928 2773 2937"/></g>
<path d="M748.8 130.2 710.2 89.2 699.2 86.4 688.2 89.2 649.6 130.2M970.1 350.4 980.0 338.3 984.4 337.9 991.0 339.9 997.6 350.4 996.5 406.0 1000.4 454.3 992.1 475.3 980.0 479.2 965.7 469.0M428.3 350.4 418.4 338.3 414.0 337.9 407.4 339.9 400.8 350.4 401.9 406.0 398.0 454.3 406.3 475.3 418.4 479.2 432.7 469.0M1422.4 130.0 1383.8 89.0 1372.8 86.2 1361.8 89.0 1323.2 130.0M1643.7 350.2 1653.6 338.1 1658.0 337.7 1664.6 339.7 1671.2 350.2 1670.1 405.8 1674.0 454.1 1665.7 475.1 1653.6 479.0 1639.3 468.8M1101.9 350.2 1092.0 338.1 1087.6 337.7 1081.0 339.7 1074.4 350.2 1075.5 405.8 1071.6 454.1 1079.9 475.1 1092.0 479.0 1106.3 468.8M2096.3 129.7 2057.7 88.6 2046.7 85.8 2035.7 88.6 1997.1 129.7M2318.1 350.3 2328.0 338.2 2332.4 337.7 2339.0 339.8 2345.6 350.3 2344.6 406.0 2348.4 454.4 2340.2 475.4 2328.0 479.3 2313.7 469.1M1775.3 350.3 1765.4 338.2 1761.0 337.7 1754.4 339.8 1747.8 350.3 1748.8 406.0 1745.0 454.4 1753.2 475.4 1765.4 479.3 1779.7 469.1M2769.7 129.2 2731.1 88.0 2720.0 85.3 2708.9 88.0 2670.3 129.2M2991.9 350.2 3001.8 338.1 3006.2 337.6 3012.8 339.7 3019.5 350.2 3018.4 406.0 3022.3 454.5 3014.0 475.6 3001.8 479.5 2987.5 469.3M2448.1 350.2 2438.2 338.1 2433.8 337.6 2427.2 339.7 2420.5 350.2 2421.6 406.0 2417.7 454.5 2426.0 475.6 2438.2 479.5 2452.5 469.3M751.3 1023.9 713.4 983.4 702.5 980.7 691.6 983.4 653.7 1023.9M969.5 1240.9 979.2 1228.9 983.6 1228.5 990.0 1230.5 996.5 1240.9 995.5 1295.7 999.3 1343.3 991.2 1363.9 979.2 1367.8 965.1 1357.8M435.5 1240.9 425.8 1228.9 421.4 1228.5 415.0 1230.5 408.5 1240.9 409.5 1295.7 405.7 1343.3 413.8 1363.9 425.8 1367.8 439.9 1357.8M1405.7 1023.5 1367.7 982.9 1356.8 980.2 1345.9 982.9 1307.9 1023.5M1624.3 1240.9 1634.0 1228.9 1638.4 1228.5 1644.9 1230.5 1651.4 1240.9 1650.3 1295.8 1654.1 1343.5 1646.0 1364.2 1634.0 1368.0 1619.9 1358.0M1089.3 1240.9 1079.6 1228.9 1075.2 1228.5 1068.7 1230.5 1062.2 1240.9 1063.3 1295.8 1059.5 1343.5 1067.6 1364.2 1079.6 1368.0 1093.7 1358.0M2080.1 1024.0 2042.2 983.5 2031.3 980.8 2020.4 983.5 1982.5 1024.0M2298.3 1241.0 2308.0 1229.0 2312.4 1228.6 2318.8 1230.6 2325.3 1241.0 2324.3 1295.8 2328.1 1343.4 2320.0 1364.0 2308.0 1367.9 2293.9 1357.9M1764.3 1241.0 1754.6 1229.0 1750.2 1228.6 1743.8 1230.6 1737.3 1241.0 1738.3 1295.8 1734.5 1343.4 1742.6 1364.0 1754.6 1367.9 1768.7 1357.9M2744.1 1024.0 2706.2 983.5 2695.3 980.8 2684.4 983.5 2646.5 1024.0M2962.3 1241.0 2972.0 1229.0 2976.4 1228.6 2982.8 1230.6 2989.3 1241.0 2988.3 1295.8 2992.1 1343.4 2984.0 1364.0 2972.0 1367.9 2957.9 1357.9M2428.3 1241.0 2418.6 1229.0 2414.2 1228.6 2407.8 1230.6 2401.3 1241.0 2402.3 1295.8 2398.5 1343.4 2406.6 1364.0 2418.6 1367.9 2432.7 1357.9M751.1 1830.5 713.1 1789.9 702.2 1787.2 691.3 1789.9 653.3 1830.5M969.7 2047.9 979.4 2035.9 983.8 2035.5 990.3 2037.5 996.8 2047.9 995.7 2102.8 999.5 2150.5 991.4 2171.2 979.4 2175.0 965.3 2165.0M434.7 2047.9 425.0 2035.9 420.6 2035.5 414.1 2037.5 407.6 2047.9 408.7 2102.8 404.9 2150.5 413.0 2171.2 425.0 2175.0 439.1 2165.0M1415.0 1826.4 1377.1 1785.9 1366.2 1783.2 1355.3 1785.9 1317.4 1826.4M1633.2 2043.4 1642.9 2031.4 1647.3 2031.0 1653.7 2033.0 1660.2 2043.4 1659.2 2098.2 1663.0 2145.8 1654.9 2166.4 1642.9 2170.3 1628.8 2160.3M1099.2 2043.4 1089.5 2031.4 1085.1 2031.0 1078.7 2033.0 1072.2 2043.4 1073.2 2098.2 1069.4 2145.8 1077.5 2166.4 1089.5 2170.3 1103.6 2160.3M2080.8 1830.7 2042.9 1790.2 2032.0 1787.5 2021.1 1790.2 1983.2 1830.7M2299.0 2047.7 2308.7 2035.7 2313.1 2035.3 2319.5 2037.3 2326.0 2047.7 2325.0 2102.5 2328.8 2150.1 2320.7 2170.7 2308.7 2174.6 2294.6 2164.6M1765.0 2047.7 1755.3 2035.7 1750.9 2035.3 1744.5 2037.3 1738.0 2047.7 1739.0 2102.5 1735.2 2150.1 1743.3 2170.7 1755.3 2174.6 1769.4 2164.6M2744.3 1840.0 2706.4 1799.5 2695.5 1796.8 2684.6 1799.5 2646.7 1840.0M2962.5 2057.0 2972.2 2045.0 2976.6 2044.6 2983.0 2046.6 2989.5 2057.0 2988.5 2111.8 2992.3 2159.4 2984.2 2180.0 2972.2 2183.9 2958.1 2173.9M2428.5 2057.0 2418.8 2045.0 2414.4 2044.6 2408.0 2046.6 2401.5 2057.0 2402.5 2111.8 2398.7 2159.4 2406.8 2180.0 2418.8 2183.9 2432.9 2173.9M750.6 2636.0 712.7 2595.5 701.8 2592.8 690.9 2595.5 653.0 2636.0M968.8 2853.0 978.5 2841.0 982.9 2840.6 989.3 2842.6 995.8 2853.0 994.8 2907.8 998.6 2955.4 990.5 2976.0 978.5 2979.9 964.4 2969.9M434.8 2853.0 425.1 2841.0 420.7 2840.6 414.3 2842.6 407.8 2853.0 408.8 2907.8 405.0 2955.4 413.1 2976.0 425.1 2979.9 439.2 2969.9M1405.9 2637.6 1368.0 2597.1 1357.1 2594.4 1346.2 2597.1 1308.3 2637.6M1624.1 2854.6 1633.8 2842.6 1638.2 2842.2 1644.6 2844.2 1651.1 2854.6 1650.1 2909.4 1653.9 2957.0 1645.8 2977.6 1633.8 2981.5 1619.7 2971.5M1090.1 2854.6 1080.4 2842.6 1076.0 2842.2 1069.6 2844.2 1063.1 2854.6 1064.1 2909.4 1060.3 2957.0 1068.4 2977.6 1080.4 2981.5 1094.5 2971.5M2079.3 2622.1 2039.3 2579.4 2027.8 2576.6 2016.3 2579.4 1976.3 2622.1M2309.5 2851.1 2319.8 2838.5 2324.4 2838.1 2331.2 2840.2 2338.1 2851.1 2337.0 2908.9 2341.0 2959.2 2332.4 2981.0 2319.8 2985.0 2304.9 2974.5M1746.1 2851.1 1735.8 2838.5 1731.2 2838.1 1724.4 2840.2 1717.5 2851.1 1718.6 2908.9 1714.6 2959.2 1723.2 2981.0 1735.8 2985.0 1750.7 2974.5M2744.7 2624.0 2704.6 2581.2 2693.1 2578.4 2681.6 2581.2 2641.5 2624.0M2975.3 2853.4 2985.6 2840.8 2990.2 2840.3 2997.1 2842.5 3003.9 2853.4 3002.8 2911.4 3006.9 2961.7 2998.3 2983.5 2985.6 2987.6 2970.7 2977.0M2410.9 2853.4 2400.6 2840.8 2396.0 2840.3 2389.1 2842.5 2382.3 2853.4 2383.4 2911.4 2379.3 2961.7 2387.9 2983.5 2400.6 2987.6 2415.5 2977.0" fill="none" stroke="#222" stroke-width="2.7" stroke-linejoin="round"/>
<g fill="none" stroke="#000" stroke-width="4.8">
<circle cx="699.2" cy="403.0" r="274.5"/>
<circle cx="1372.8" cy="402.8" r="274.5"/>
<circle cx="2046.7" cy="403.0" r="275.0"/>
<circle cx="2720.0" cy="403.0" r="275.5"/>
<circle cx="702.5" cy="1292.7" r="270.5"/>
<circle cx="1356.8" cy="1292.8" r="271.0"/>
<circle cx="2031.3" cy="1292.8" r="270.5"/>
<circle cx="2695.3" cy="1292.8" r="270.5"/>
<circle cx="702.2" cy="2099.8" r="271.0"/>
<circle cx="1366.2" cy="2095.2" r="270.5"/>
<circle cx="2032.0" cy="2099.5" r="270.5"/>
<circle cx="2695.5" cy="2108.8" r="270.5"/>
<circle cx="701.8" cy="2904.8" r="270.5"/>
<circle cx="1357.1" cy="2906.4" r="270.5"/>
<circle cx="2027.8" cy="2905.8" r="285.5"/>
<circle cx="2693.1" cy="2908.2" r="286.0"/>
</g>
<g fill="#111">
<circle cx="589.2" cy="266.9" r="3.1"/>
<circle cx="699.2" cy="268.2" r="3.1"/>
<circle cx="809.2" cy="266.9" r="3.1"/>
<circle cx="564.5" cy="403.0" r="3.1"/>
<circle cx="699.2" cy="403.0" r="3.1"/>
<circle cx="834.0" cy="403.0" r="3.1"/>
<circle cx="589.2" cy="540.5" r="3.1"/>
<circle cx="699.2" cy="539.1" r="3.1"/>
<circle cx="809.2" cy="540.5" r="3.1"/>
<circle cx="616.7" cy="660.1" r="3.1"/>
<circle cx="781.7" cy="660.1" r="3.1"/>
<circle cx="1262.8" cy="266.7" r="3.1"/>
<circle cx="1372.8" cy="268.1" r="3.1"/>
<circle cx="1482.8" cy="266.7" r="3.1"/>
<circle cx="1238.0" cy="402.8" r="3.1"/>
<circle cx="1372.8" cy="402.8" r="3.1"/>
<circle cx="1507.5" cy="402.8" r="3.1"/>
<circle cx="1262.8" cy="540.3" r="3.1"/>
<circle cx="1372.8" cy="538.9" r="3.1"/>
<circle cx="1482.8" cy="540.3" r="3.1"/>
<circle cx="1290.3" cy="659.9" r="3.1"/>
<circle cx="1455.3" cy="659.9" r="3.1"/>
<circle cx="1936.5" cy="266.6" r="3.1"/>
<circle cx="2046.7" cy="268.0" r="3.1"/>
<circle cx="2156.9" cy="266.6" r="3.1"/>
<circle cx="1911.7" cy="403.0" r="3.1"/>
<circle cx="2046.7" cy="403.0" r="3.1"/>
<circle cx="2181.7" cy="403.0" r="3.1"/>
<circle cx="1936.5" cy="540.8" r="3.1"/>
<circle cx="2046.7" cy="539.4" r="3.1"/>
<circle cx="2156.9" cy="540.8" r="3.1"/>
<circle cx="1964.0" cy="660.6" r="3.1"/>
<circle cx="2129.3" cy="660.6" r="3.1"/>
<circle cx="2609.6" cy="266.4" r="3.1"/>
<circle cx="2720.0" cy="267.8" r="3.1"/>
<circle cx="2830.4" cy="266.4" r="3.1"/>
<circle cx="2584.8" cy="403.0" r="3.1"/>
<circle cx="2720.0" cy="403.0" r="3.1"/>
<circle cx="2855.2" cy="403.0" r="3.1"/>
<circle cx="2609.6" cy="541.0" r="3.1"/>
<circle cx="2720.0" cy="539.6" r="3.1"/>
<circle cx="2830.4" cy="541.0" r="3.1"/>
<circle cx="2637.2" cy="661.1" r="3.1"/>
<circle cx="2802.8" cy="661.1" r="3.1"/>
<circle cx="594.1" cy="1158.6" r="3.1"/>
<circle cx="702.5" cy="1159.9" r="3.1"/>
<circle cx="810.9" cy="1158.6" r="3.1"/>
<circle cx="569.7" cy="1292.7" r="3.1"/>
<circle cx="702.5" cy="1292.7" r="3.1"/>
<circle cx="835.3" cy="1292.7" r="3.1"/>
<circle cx="594.1" cy="1428.2" r="3.1"/>
<circle cx="702.5" cy="1426.8" r="3.1"/>
<circle cx="810.9" cy="1428.2" r="3.1"/>
<circle cx="621.2" cy="1546.1" r="3.1"/>
<circle cx="783.8" cy="1546.1" r="3.1"/>
<circle cx="1248.2" cy="1158.4" r="3.1"/>
<circle cx="1356.8" cy="1159.8" r="3.1"/>
<circle cx="1465.4" cy="1158.4" r="3.1"/>
<circle cx="1223.8" cy="1292.8" r="3.1"/>
<circle cx="1356.8" cy="1292.8" r="3.1"/>
<circle cx="1489.8" cy="1292.8" r="3.1"/>
<circle cx="1248.2" cy="1428.5" r="3.1"/>
<circle cx="1356.8" cy="1427.2" r="3.1"/>
<circle cx="1465.4" cy="1428.5" r="3.1"/>
<circle cx="1275.3" cy="1546.7" r="3.1"/>
<circle cx="1438.2" cy="1546.7" r="3.1"/>
<circle cx="1922.9" cy="1158.7" r="3.1"/>
<circle cx="2031.3" cy="1160.0" r="3.1"/>
<circle cx="2139.7" cy="1158.7" r="3.1"/>
<circle cx="1898.5" cy="1292.8" r="3.1"/>
<circle cx="2031.3" cy="1292.8" r="3.1"/>
<circle cx="2164.1" cy="1292.8" r="3.1"/>
<circle cx="1922.9" cy="1428.3" r="3.1"/>
<circle cx="2031.3" cy="1426.9" r="3.1"/>
<circle cx="2139.7" cy="1428.3" r="3.1"/>
<circle cx="1950.0" cy="1546.2" r="3.1"/>
<circle cx="2112.6" cy="1546.2" r="3.1"/>
<circle cx="2586.9" cy="1158.7" r="3.1"/>
<circle cx="2695.3" cy="1160.0" r="3.1"/>
<circle cx="2803.7" cy="1158.7" r="3.1"/>
<circle cx="2562.5" cy="1292.8" r="3.1"/>
<circle cx="2695.3" cy="1292.8" r="3.1"/>
<circle cx="2828.1" cy="1292.8" r="3.1"/>
<circle cx="2586.9" cy="1428.3" r="3.1"/>
<circle cx="2695.3" cy="1426.9" r="3.1"/>
<circle cx="2803.7" cy="1428.3" r="3.1"/>
<circle cx="2614.0" cy="1546.2" r="3.1"/>
<circle cx="2776.6" cy="1546.2" r="3.1"/>
<circle cx="593.6" cy="1965.4" r="3.1"/>
<circle cx="702.2" cy="1966.8" r="3.1"/>
<circle cx="810.8" cy="1965.4" r="3.1"/>
<circle cx="569.2" cy="2099.8" r="3.1"/>
<circle cx="702.2" cy="2099.8" r="3.1"/>
<circle cx="835.2" cy="2099.8" r="3.1"/>
<circle cx="593.6" cy="2235.6" r="3.1"/>
<circle cx="702.2" cy="2234.2" r="3.1"/>
<circle cx="810.8" cy="2235.6" r="3.1"/>
<circle cx="620.8" cy="2353.7" r="3.1"/>
<circle cx="783.7" cy="2353.7" r="3.1"/>
<circle cx="1257.8" cy="1961.1" r="3.1"/>
<circle cx="1366.2" cy="1962.4" r="3.1"/>
<circle cx="1474.6" cy="1961.1" r="3.1"/>
<circle cx="1233.4" cy="2095.2" r="3.1"/>
<circle cx="1366.2" cy="2095.2" r="3.1"/>
<circle cx="1499.0" cy="2095.2" r="3.1"/>
<circle cx="1257.8" cy="2230.7" r="3.1"/>
<circle cx="1366.2" cy="2229.3" r="3.1"/>
<circle cx="1474.6" cy="2230.7" r="3.1"/>
<circle cx="1284.9" cy="2348.6" r="3.1"/>
<circle cx="1447.5" cy="2348.6" r="3.1"/>
<circle cx="1923.6" cy="1965.4" r="3.1"/>
<circle cx="2032.0" cy="1966.7" r="3.1"/>
<circle cx="2140.4" cy="1965.4" r="3.1"/>
<circle cx="1899.2" cy="2099.5" r="3.1"/>
<circle cx="2032.0" cy="2099.5" r="3.1"/>
<circle cx="2164.8" cy="2099.5" r="3.1"/>
<circle cx="1923.6" cy="2235.0" r="3.1"/>
<circle cx="2032.0" cy="2233.6" r="3.1"/>
<circle cx="2140.4" cy="2235.0" r="3.1"/>
<circle cx="1950.7" cy="2352.9" r="3.1"/>
<circle cx="2113.3" cy="2352.9" r="3.1"/>
<circle cx="2587.1" cy="1974.7" r="3.1"/>
<circle cx="2695.5" cy="1976.0" r="3.1"/>
<circle cx="2803.9" cy="1974.7" r="3.1"/>
<circle cx="2562.7" cy="2108.8" r="3.1"/>
<circle cx="2695.5" cy="2108.8" r="3.1"/>
<circle cx="2828.3" cy="2108.8" r="3.1"/>
<circle cx="2587.1" cy="2244.3" r="3.1"/>
<circle cx="2695.5" cy="2242.9" r="3.1"/>
<circle cx="2803.9" cy="2244.3" r="3.1"/>
<circle cx="2614.2" cy="2362.2" r="3.1"/>
<circle cx="2776.8" cy="2362.2" r="3.1"/>
<circle cx="593.4" cy="2770.7" r="3.1"/>
<circle cx="701.8" cy="2772.0" r="3.1"/>
<circle cx="810.2" cy="2770.7" r="3.1"/>
<circle cx="569.0" cy="2904.8" r="3.1"/>
<circle cx="701.8" cy="2904.8" r="3.1"/>
<circle cx="834.6" cy="2904.8" r="3.1"/>
<circle cx="593.4" cy="3040.3" r="3.1"/>
<circle cx="701.8" cy="3038.9" r="3.1"/>
<circle cx="810.2" cy="3040.3" r="3.1"/>
<circle cx="620.5" cy="3158.2" r="3.1"/>
<circle cx="783.1" cy="3158.2" r="3.1"/>
<circle cx="1248.7" cy="2772.3" r="3.1"/>
<circle cx="1357.1" cy="2773.6" r="3.1"/>
<circle cx="1465.5" cy="2772.3" r="3.1"/>
<circle cx="1224.3" cy="2906.4" r="3.1"/>
<circle cx="1357.1" cy="2906.4" r="3.1"/>
<circle cx="1489.9" cy="2906.4" r="3.1"/>
<circle cx="1248.7" cy="3041.9" r="3.1"/>
<circle cx="1357.1" cy="3040.5" r="3.1"/>
<circle cx="1465.5" cy="3041.9" r="3.1"/>
<circle cx="1275.8" cy="3159.8" r="3.1"/>
<circle cx="1438.4" cy="3159.8" r="3.1"/>
<circle cx="1913.4" cy="2764.2" r="3.1"/>
<circle cx="2027.8" cy="2765.7" r="3.1"/>
<circle cx="2142.2" cy="2764.2" r="3.1"/>
<circle cx="1887.7" cy="2905.8" r="3.1"/>
<circle cx="2027.8" cy="2905.8" r="3.1"/>
<circle cx="2167.9" cy="2905.8" r="3.1"/>
<circle cx="1913.4" cy="3048.8" r="3.1"/>
<circle cx="2027.8" cy="3047.4" r="3.1"/>
<circle cx="2142.2" cy="3048.8" r="3.1"/>
<circle cx="1942.0" cy="3173.2" r="3.1"/>
<circle cx="2113.6" cy="3173.2" r="3.1"/>
<circle cx="2578.5" cy="2766.4" r="3.1"/>
<circle cx="2693.1" cy="2767.8" r="3.1"/>
<circle cx="2807.7" cy="2766.4" r="3.1"/>
<circle cx="2552.7" cy="2908.2" r="3.1"/>
<circle cx="2693.1" cy="2908.2" r="3.1"/>
<circle cx="2833.5" cy="2908.2" r="3.1"/>
<circle cx="2578.5" cy="3051.4" r="3.1"/>
<circle cx="2693.1" cy="3050.0" r="3.1"/>
<circle cx="2807.7" cy="3051.4" r="3.1"/>
<circle cx="2607.2" cy="3176.1" r="3.1"/>
<circle cx="2779.0" cy="3176.1" r="3.1"/>
</g>
<g fill="none" stroke="#110a96" stroke-width="15">
<ellipse cx="697.6" cy="576.5" rx="171.0" ry="80.0"/>
<ellipse cx="1380.3" cy="404.7" rx="100.0" ry="61.0"/>
<ellipse cx="1993.5" cy="508.6" rx="200.0" ry="78.5" transform="rotate(19.6 1993.5 508.6)"/>
<ellipse cx="2565.0" cy="360.0" rx="52.4" ry="146.8" transform="rotate(2.7 2565.0 360.0)"/>
<ellipse cx="2816.4" cy="540.0" rx="119.8" ry="53.7" transform="rotate(3 2816.4 540.0)"/>
<ellipse cx="702.0" cy="1291.0" rx="168.0" ry="78.5"/>
<ellipse cx="1343.0" cy="1145.0" rx="167.0" ry="77.3"/>
<ellipse cx="2094.0" cy="1334.4" rx="153.6" ry="91.0" transform="rotate(3 2094.0 1334.4)"/>
<ellipse cx="2634.4" cy="1282.2" rx="164.8" ry="73.8"/>
<ellipse cx="704.3" cy="2259.3" rx="166.6" ry="75.4"/>
<ellipse cx="1395.6" cy="2238.0" rx="175.0" ry="76.6"/>
<ellipse cx="2140.6" cy="2058.2" rx="141.5" ry="101.2"/>
<ellipse cx="2754.7" cy="2256.2" rx="122.6" ry="77.3"/>
<ellipse cx="734.7" cy="3002.8" rx="131.3" ry="112.0"/>
<ellipse cx="1342.2" cy="3001.3" rx="188.7" ry="77.6"/>
<ellipse cx="2215.8" cy="2877.3" rx="67.4" ry="121.2"/>
<ellipse cx="2027.8" cy="3069.8" rx="145.1" ry="67.1"/>
<ellipse cx="2775.5" cy="2880.6" rx="129.8" ry="88.7"/>
</g>
<rect x="3123.3" y="90.5" width="43.0" height="685.5" fill="none" stroke="#444" stroke-width="2.5"/>
<path d="M3166.3 718.9h-7" stroke="#222" stroke-width="2"/>
<path d="M3166.3 576.1h-7" stroke="#222" stroke-width="2"/>
<path d="M3166.3 433.2h-7" stroke="#222" stroke-width="2"/>
<path d="M3166.3 290.4h-7" stroke="#222" stroke-width="2"/>
<path d="M3166.3 147.6h-7" stroke="#222" stroke-width="2"/>
<rect x="3094.0" y="2239.0" width="56.0" height="942.0" fill="none" stroke="#444" stroke-width="2.5"/>
<path d="M3150.0 3102.5h-7" stroke="#222" stroke-width="2"/>
<path d="M3150.0 2906.2h-7" stroke="#222" stroke-width="2"/>
<path d="M3150.0 2710.0h-7" stroke="#222" stroke-width="2"/>
<path d="M3150.0 2513.8h-7" stroke="#222" stroke-width="2"/>
<path d="M3150.0 2317.5h-7" stroke="#222" stroke-width="2"/>
<g font-family="'Liberation Serif','Noto Serif CJK SC',serif" fill="#111" font-size="64">
<text x="664.5" y="774.0" font-size="66" textLength="56.5" lengthAdjust="spacingAndGlyphs">s1</text>
<text x="1339.8" y="774.0" font-size="66" textLength="56.5" lengthAdjust="spacingAndGlyphs">s2</text>
<text x="2014.2" y="774.0" font-size="66" textLength="56.5" lengthAdjust="spacingAndGlyphs">s3</text>
<text x="2687.4" y="774.0" font-size="66" textLength="56.5" lengthAdjust="spacingAndGlyphs">s4</text>
<text x="664.5" y="1681.8" font-size="66" textLength="56.5" lengthAdjust="spacingAndGlyphs">s1</text>
<text x="1339.8" y="1681.8" font-size="66" textLength="56.5" lengthAdjust="spacingAndGlyphs">s2</text>
<text x="2014.2" y="1681.8" font-size="66" textLength="56.5" lengthAdjust="spacingAndGlyphs">s3</text>
<text x="2687.4" y="1681.8" font-size="66" textLength="56.5" lengthAdjust="spacingAndGlyphs">s4</text>
<text x="664.5" y="2485.0" font-size="66" textLength="56.5" lengthAdjust="spacingAndGlyphs">s5</text>
<text x="1339.8" y="2485.0" font-size="66" textLength="56.5" lengthAdjust="spacingAndGlyphs">s6</text>
<text x="2014.2" y="2485.0" font-size="66" textLength="56.5" lengthAdjust="spacingAndGlyphs">s7</text>
<text x="2687.4" y="2485.0" font-size="66" textLength="56.5" lengthAdjust="spacingAndGlyphs">s8</text>
<text x="665.5" y="3313.5" font-size="66" textLength="56.5" lengthAdjust="spacingAndGlyphs">s9</text>
<text x="1317.4" y="3313.5" font-size="66" textLength="92" lengthAdjust="spacingAndGlyphs">s10</text>
<text x="1986.5" y="3313.5" font-size="66" textLength="92" lengthAdjust="spacingAndGlyphs">s11</text>
<text x="2657.5" y="3313.5" font-size="66" textLength="92" lengthAdjust="spacingAndGlyphs">s12</text>
<text><tspan x="1486" y="870.8" textLength="282" lengthAdjust="spacingAndGlyphs">(a) PTSD</tspan><tspan x="1773" y="873.5" font-size="64.8">实验组</tspan></text>
<text><tspan x="1443" y="3418.6" textLength="77" lengthAdjust="spacingAndGlyphs">(b)</tspan><tspan x="1527" y="3418.6"> </tspan><tspan x="1552" y="3421.5" font-size="65.5">健康人群实验组</tspan></text>
<text><tspan x="3099.3" y="60" font-size="63.5">振幅</tspan><tspan x="3236" y="56.6"> </tspan><tspan x="3257" y="56.6" textLength="128.5" lengthAdjust="spacingAndGlyphs">(µV)</tspan></text>
<text><tspan x="3044.7" y="2207.5" font-size="63.5">振幅</tspan><tspan x="3182" y="2204.5"> </tspan><tspan x="3202.5" y="2204.5" textLength="128.5" lengthAdjust="spacingAndGlyphs">(µV)</tspan></text>
<text x="3210.0" y="160.9" font-size="65" textLength="87" lengthAdjust="spacingAndGlyphs">1.0</text>
<text x="3212.5" y="303.7" font-size="65" textLength="87" lengthAdjust="spacingAndGlyphs">0.5</text>
<text x="3212.5" y="446.6" font-size="65">0</text>
<text x="3212.5" y="589.4" font-size="65" textLength="123" lengthAdjust="spacingAndGlyphs">−0.5</text>
<text x="3212.5" y="732.2" font-size="65" textLength="123" lengthAdjust="spacingAndGlyphs">−1.0</text>
<text x="3193.5" y="2332.5" font-size="65" textLength="87" lengthAdjust="spacingAndGlyphs">1.0</text>
<text x="3196.0" y="2528.8" font-size="65" textLength="87" lengthAdjust="spacingAndGlyphs">0.5</text>
<text x="3196.0" y="2725.0" font-size="65">0</text>
<text x="3196.0" y="2921.2" font-size="65" textLength="123" lengthAdjust="spacingAndGlyphs">−0.5</text>
<text x="3196.0" y="3117.5" font-size="65" textLength="123" lengthAdjust="spacingAndGlyphs">−1.0</text>
</g>
</svg>

</body></html>
